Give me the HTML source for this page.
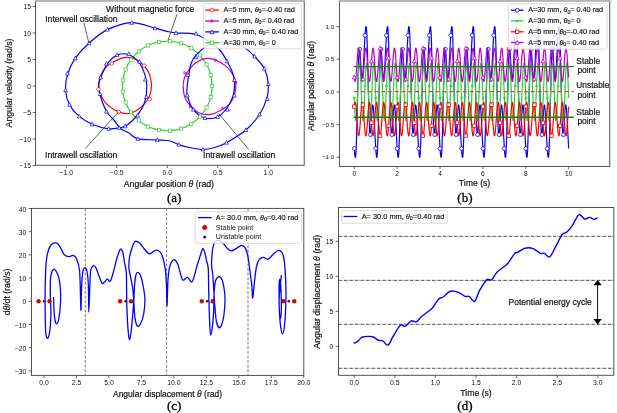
<!DOCTYPE html><html><head><meta charset="utf-8"><style>html,body{margin:0;padding:0;background:#fff;overflow:hidden}svg{display:block;will-change:transform}</style></head><body><svg width="617" height="413" viewBox="0 0 617 413">
<rect width="617" height="413" fill="#fff"/>
<rect x="35.5" y="0.8" width="268.7" height="164.45" fill="none" stroke="#404040" stroke-width="0.9"/>
<rect x="35" y="0" width="269.7" height="1.6" fill="#b4b4b4"/>
<line x1="66.3" y1="165.25" x2="66.3" y2="168.05" stroke="#404040" stroke-width="0.8"/>
<text x="66.3" y="175.1" font-size="6.8" text-anchor="middle" font-family="Liberation Sans, sans-serif" fill="#111" >−1.0</text>
<line x1="116.8" y1="165.25" x2="116.8" y2="168.05" stroke="#404040" stroke-width="0.8"/>
<text x="116.8" y="175.1" font-size="6.8" text-anchor="middle" font-family="Liberation Sans, sans-serif" fill="#111" >−0.5</text>
<line x1="167.3" y1="165.25" x2="167.3" y2="168.05" stroke="#404040" stroke-width="0.8"/>
<text x="167.3" y="175.1" font-size="6.8" text-anchor="middle" font-family="Liberation Sans, sans-serif" fill="#111" >0.0</text>
<line x1="217.8" y1="165.25" x2="217.8" y2="168.05" stroke="#404040" stroke-width="0.8"/>
<text x="217.8" y="175.1" font-size="6.8" text-anchor="middle" font-family="Liberation Sans, sans-serif" fill="#111" >0.5</text>
<line x1="268.3" y1="165.25" x2="268.3" y2="168.05" stroke="#404040" stroke-width="0.8"/>
<text x="268.3" y="175.1" font-size="6.8" text-anchor="middle" font-family="Liberation Sans, sans-serif" fill="#111" >1.0</text>
<line x1="32.7" y1="165.5" x2="35.5" y2="165.5" stroke="#404040" stroke-width="0.8"/>
<text x="31" y="168.15" font-size="6.8" text-anchor="end" font-family="Liberation Sans, sans-serif" fill="#111" >−15</text>
<line x1="32.7" y1="139" x2="35.5" y2="139" stroke="#404040" stroke-width="0.8"/>
<text x="31" y="141.65" font-size="6.8" text-anchor="end" font-family="Liberation Sans, sans-serif" fill="#111" >−10</text>
<line x1="32.7" y1="112.5" x2="35.5" y2="112.5" stroke="#404040" stroke-width="0.8"/>
<text x="31" y="115.15" font-size="6.8" text-anchor="end" font-family="Liberation Sans, sans-serif" fill="#111" >−5</text>
<line x1="32.7" y1="86" x2="35.5" y2="86" stroke="#404040" stroke-width="0.8"/>
<text x="31" y="88.65" font-size="6.8" text-anchor="end" font-family="Liberation Sans, sans-serif" fill="#111" >0</text>
<line x1="32.7" y1="59.5" x2="35.5" y2="59.5" stroke="#404040" stroke-width="0.8"/>
<text x="31" y="62.15" font-size="6.8" text-anchor="end" font-family="Liberation Sans, sans-serif" fill="#111" >5</text>
<line x1="32.7" y1="33" x2="35.5" y2="33" stroke="#404040" stroke-width="0.8"/>
<text x="31" y="35.65" font-size="6.8" text-anchor="end" font-family="Liberation Sans, sans-serif" fill="#111" >10</text>
<line x1="32.7" y1="6.5" x2="35.5" y2="6.5" stroke="#404040" stroke-width="0.8"/>
<text x="31" y="9.15" font-size="6.8" text-anchor="end" font-family="Liberation Sans, sans-serif" fill="#111" >15</text>
<text x="168.9" y="186.6" font-size="8.7" text-anchor="middle" font-family="Liberation Sans, sans-serif" fill="#111"  stroke="#111" stroke-width="0.19">Angular position <tspan font-style="italic">θ</tspan> (rad)</text>
<text x="12.2" y="83" font-size="8.7" text-anchor="middle" font-family="Liberation Sans, sans-serif" fill="#111" transform="rotate(-90 12.2 83)" stroke="#111" stroke-width="0.19">Angular velocity (rad/s)</text>
<text x="174.2" y="201.5" font-size="13" text-anchor="middle" font-family="Liberation Serif, serif" fill="#000" stroke="#000" stroke-width="0.3">(a)</text>
<rect x="339.4" y="0.8" width="270.4" height="165.6" fill="none" stroke="#404040" stroke-width="0.9"/>
<rect x="338.9" y="0" width="271.4" height="1.6" fill="#b4b4b4"/>
<line x1="354.3" y1="166.4" x2="354.3" y2="169.2" stroke="#404040" stroke-width="0.8"/>
<text x="354.3" y="176.18" font-size="6.6" text-anchor="middle" font-family="Liberation Sans, sans-serif" fill="#111" >0</text>
<line x1="397.18" y1="166.4" x2="397.18" y2="169.2" stroke="#404040" stroke-width="0.8"/>
<text x="397.18" y="176.18" font-size="6.6" text-anchor="middle" font-family="Liberation Sans, sans-serif" fill="#111" >2</text>
<line x1="440.06" y1="166.4" x2="440.06" y2="169.2" stroke="#404040" stroke-width="0.8"/>
<text x="440.06" y="176.18" font-size="6.6" text-anchor="middle" font-family="Liberation Sans, sans-serif" fill="#111" >4</text>
<line x1="482.94" y1="166.4" x2="482.94" y2="169.2" stroke="#404040" stroke-width="0.8"/>
<text x="482.94" y="176.18" font-size="6.6" text-anchor="middle" font-family="Liberation Sans, sans-serif" fill="#111" >6</text>
<line x1="525.82" y1="166.4" x2="525.82" y2="169.2" stroke="#404040" stroke-width="0.8"/>
<text x="525.82" y="176.18" font-size="6.6" text-anchor="middle" font-family="Liberation Sans, sans-serif" fill="#111" >8</text>
<line x1="568.7" y1="166.4" x2="568.7" y2="169.2" stroke="#404040" stroke-width="0.8"/>
<text x="568.7" y="176.18" font-size="6.6" text-anchor="middle" font-family="Liberation Sans, sans-serif" fill="#111" >10</text>
<line x1="336.6" y1="157.3" x2="339.4" y2="157.3" stroke="#404040" stroke-width="0.8"/>
<text x="334.2" y="159.23" font-size="6.2" text-anchor="end" font-family="Liberation Sans, sans-serif" fill="#111" >−1.0</text>
<line x1="336.6" y1="124.62" x2="339.4" y2="124.62" stroke="#404040" stroke-width="0.8"/>
<text x="334.2" y="126.56" font-size="6.2" text-anchor="end" font-family="Liberation Sans, sans-serif" fill="#111" >−0.5</text>
<line x1="336.6" y1="91.95" x2="339.4" y2="91.95" stroke="#404040" stroke-width="0.8"/>
<text x="334.2" y="93.88" font-size="6.2" text-anchor="end" font-family="Liberation Sans, sans-serif" fill="#111" >0.0</text>
<line x1="336.6" y1="59.28" x2="339.4" y2="59.28" stroke="#404040" stroke-width="0.8"/>
<text x="334.2" y="61.21" font-size="6.2" text-anchor="end" font-family="Liberation Sans, sans-serif" fill="#111" >0.5</text>
<line x1="336.6" y1="26.6" x2="339.4" y2="26.6" stroke="#404040" stroke-width="0.8"/>
<text x="334.2" y="28.53" font-size="6.2" text-anchor="end" font-family="Liberation Sans, sans-serif" fill="#111" >1.0</text>
<text x="474.5" y="186.3" font-size="8.7" text-anchor="middle" font-family="Liberation Sans, sans-serif" fill="#111"  stroke="#111" stroke-width="0.19">Time (s)</text>
<text x="313.8" y="86" font-size="8.7" text-anchor="middle" font-family="Liberation Sans, sans-serif" fill="#111" transform="rotate(-90 313.8 86)" stroke="#111" stroke-width="0.19">Angular position <tspan font-style="italic">θ</tspan> (rad)</text>
<text x="464.9" y="201.5" font-size="13" text-anchor="middle" font-family="Liberation Serif, serif" fill="#000" stroke="#000" stroke-width="0.3">(b)</text>
<rect x="31.5" y="208.4" width="272.3" height="167" fill="none" stroke="#404040" stroke-width="0.9"/>
<line x1="44.05" y1="375.4" x2="44.05" y2="378.2" stroke="#404040" stroke-width="0.8"/>
<text x="44.05" y="385.35" font-size="6.8" text-anchor="middle" font-family="Liberation Sans, sans-serif" fill="#111" >0.0</text>
<line x1="76.51" y1="375.4" x2="76.51" y2="378.2" stroke="#404040" stroke-width="0.8"/>
<text x="76.51" y="385.35" font-size="6.8" text-anchor="middle" font-family="Liberation Sans, sans-serif" fill="#111" >2.5</text>
<line x1="108.97" y1="375.4" x2="108.97" y2="378.2" stroke="#404040" stroke-width="0.8"/>
<text x="108.97" y="385.35" font-size="6.8" text-anchor="middle" font-family="Liberation Sans, sans-serif" fill="#111" >5.0</text>
<line x1="141.44" y1="375.4" x2="141.44" y2="378.2" stroke="#404040" stroke-width="0.8"/>
<text x="141.44" y="385.35" font-size="6.8" text-anchor="middle" font-family="Liberation Sans, sans-serif" fill="#111" >7.5</text>
<line x1="173.9" y1="375.4" x2="173.9" y2="378.2" stroke="#404040" stroke-width="0.8"/>
<text x="173.9" y="385.35" font-size="6.8" text-anchor="middle" font-family="Liberation Sans, sans-serif" fill="#111" >10.0</text>
<line x1="206.36" y1="375.4" x2="206.36" y2="378.2" stroke="#404040" stroke-width="0.8"/>
<text x="206.36" y="385.35" font-size="6.8" text-anchor="middle" font-family="Liberation Sans, sans-serif" fill="#111" >12.5</text>
<line x1="238.82" y1="375.4" x2="238.82" y2="378.2" stroke="#404040" stroke-width="0.8"/>
<text x="238.82" y="385.35" font-size="6.8" text-anchor="middle" font-family="Liberation Sans, sans-serif" fill="#111" >15.0</text>
<line x1="271.29" y1="375.4" x2="271.29" y2="378.2" stroke="#404040" stroke-width="0.8"/>
<text x="271.29" y="385.35" font-size="6.8" text-anchor="middle" font-family="Liberation Sans, sans-serif" fill="#111" >17.5</text>
<line x1="303.75" y1="375.4" x2="303.75" y2="378.2" stroke="#404040" stroke-width="0.8"/>
<text x="303.75" y="385.35" font-size="6.8" text-anchor="middle" font-family="Liberation Sans, sans-serif" fill="#111" >20.0</text>
<line x1="28.7" y1="370.9" x2="31.5" y2="370.9" stroke="#404040" stroke-width="0.8"/>
<text x="26.4" y="373.95" font-size="6.8" text-anchor="end" font-family="Liberation Sans, sans-serif" fill="#111" >−30</text>
<line x1="28.7" y1="347.7" x2="31.5" y2="347.7" stroke="#404040" stroke-width="0.8"/>
<text x="26.4" y="350.75" font-size="6.8" text-anchor="end" font-family="Liberation Sans, sans-serif" fill="#111" >−20</text>
<line x1="28.7" y1="324.5" x2="31.5" y2="324.5" stroke="#404040" stroke-width="0.8"/>
<text x="26.4" y="327.55" font-size="6.8" text-anchor="end" font-family="Liberation Sans, sans-serif" fill="#111" >−10</text>
<line x1="28.7" y1="301.3" x2="31.5" y2="301.3" stroke="#404040" stroke-width="0.8"/>
<text x="26.4" y="304.35" font-size="6.8" text-anchor="end" font-family="Liberation Sans, sans-serif" fill="#111" >0</text>
<line x1="28.7" y1="278.1" x2="31.5" y2="278.1" stroke="#404040" stroke-width="0.8"/>
<text x="26.4" y="281.15" font-size="6.8" text-anchor="end" font-family="Liberation Sans, sans-serif" fill="#111" >10</text>
<line x1="28.7" y1="254.9" x2="31.5" y2="254.9" stroke="#404040" stroke-width="0.8"/>
<text x="26.4" y="257.95" font-size="6.8" text-anchor="end" font-family="Liberation Sans, sans-serif" fill="#111" >20</text>
<line x1="28.7" y1="231.7" x2="31.5" y2="231.7" stroke="#404040" stroke-width="0.8"/>
<text x="26.4" y="234.75" font-size="6.8" text-anchor="end" font-family="Liberation Sans, sans-serif" fill="#111" >30</text>
<line x1="28.7" y1="208.5" x2="31.5" y2="208.5" stroke="#404040" stroke-width="0.8"/>
<text x="26.4" y="211.55" font-size="6.8" text-anchor="end" font-family="Liberation Sans, sans-serif" fill="#111" >40</text>
<text x="167.5" y="396.5" font-size="8.5" text-anchor="middle" font-family="Liberation Sans, sans-serif" fill="#111"  stroke="#111" stroke-width="0.19">Angular displacement <tspan font-style="italic">θ</tspan> (rad)</text>
<text x="10.4" y="292" font-size="8.7" text-anchor="middle" font-family="Liberation Sans, sans-serif" fill="#111" transform="rotate(-90 10.4 292)" stroke="#111" stroke-width="0.19">d<tspan font-style="italic">θ</tspan>/dt (rad/s)</text>
<text x="174.2" y="410" font-size="13" text-anchor="middle" font-family="Liberation Serif, serif" fill="#000" stroke="#000" stroke-width="0.3">(c)</text>
<rect x="338.5" y="207.5" width="275.3" height="167.8" fill="none" stroke="#404040" stroke-width="0.9"/>
<line x1="354.2" y1="375.3" x2="354.2" y2="378.1" stroke="#404040" stroke-width="0.8"/>
<text x="354.2" y="385.45" font-size="6.8" text-anchor="middle" font-family="Liberation Sans, sans-serif" fill="#111" >0.0</text>
<line x1="394.8" y1="375.3" x2="394.8" y2="378.1" stroke="#404040" stroke-width="0.8"/>
<text x="394.8" y="385.45" font-size="6.8" text-anchor="middle" font-family="Liberation Sans, sans-serif" fill="#111" >0.5</text>
<line x1="435.4" y1="375.3" x2="435.4" y2="378.1" stroke="#404040" stroke-width="0.8"/>
<text x="435.4" y="385.45" font-size="6.8" text-anchor="middle" font-family="Liberation Sans, sans-serif" fill="#111" >1.0</text>
<line x1="476" y1="375.3" x2="476" y2="378.1" stroke="#404040" stroke-width="0.8"/>
<text x="476" y="385.45" font-size="6.8" text-anchor="middle" font-family="Liberation Sans, sans-serif" fill="#111" >1.5</text>
<line x1="516.6" y1="375.3" x2="516.6" y2="378.1" stroke="#404040" stroke-width="0.8"/>
<text x="516.6" y="385.45" font-size="6.8" text-anchor="middle" font-family="Liberation Sans, sans-serif" fill="#111" >2.0</text>
<line x1="557.2" y1="375.3" x2="557.2" y2="378.1" stroke="#404040" stroke-width="0.8"/>
<text x="557.2" y="385.45" font-size="6.8" text-anchor="middle" font-family="Liberation Sans, sans-serif" fill="#111" >2.5</text>
<line x1="597.8" y1="375.3" x2="597.8" y2="378.1" stroke="#404040" stroke-width="0.8"/>
<text x="597.8" y="385.45" font-size="6.8" text-anchor="middle" font-family="Liberation Sans, sans-serif" fill="#111" >3.0</text>
<line x1="335.7" y1="346.3" x2="338.5" y2="346.3" stroke="#404040" stroke-width="0.8"/>
<text x="333.4" y="348.65" font-size="6.8" text-anchor="end" font-family="Liberation Sans, sans-serif" fill="#111" >0</text>
<line x1="335.7" y1="311.3" x2="338.5" y2="311.3" stroke="#404040" stroke-width="0.8"/>
<text x="333.4" y="313.65" font-size="6.8" text-anchor="end" font-family="Liberation Sans, sans-serif" fill="#111" >5</text>
<line x1="335.7" y1="276.3" x2="338.5" y2="276.3" stroke="#404040" stroke-width="0.8"/>
<text x="333.4" y="278.65" font-size="6.8" text-anchor="end" font-family="Liberation Sans, sans-serif" fill="#111" >10</text>
<line x1="335.7" y1="241.3" x2="338.5" y2="241.3" stroke="#404040" stroke-width="0.8"/>
<text x="333.4" y="243.65" font-size="6.8" text-anchor="end" font-family="Liberation Sans, sans-serif" fill="#111" >15</text>
<text x="476" y="395.5" font-size="8.7" text-anchor="middle" font-family="Liberation Sans, sans-serif" fill="#111"  stroke="#111" stroke-width="0.19">Time (s)</text>
<text x="320.5" y="291.8" font-size="8.9" text-anchor="middle" font-family="Liberation Sans, sans-serif" fill="#111" transform="rotate(-90 320.5 291.8)" stroke="#111" stroke-width="0.2">Angular displacement <tspan font-style="italic">θ</tspan> (rad)</text>
<text x="464.9" y="410" font-size="13" text-anchor="middle" font-family="Liberation Serif, serif" fill="#000" stroke="#000" stroke-width="0.3">(d)</text>
<defs><clipPath id="ca"><rect x="35.5" y="0.8" width="268.7" height="164.45"/></clipPath></defs>
<g clip-path="url(#ca)">
<circle cx="167.3" cy="86" r="44.8" fill="none" stroke="#33cc33" stroke-width="1.1"/>
<path d="M98.8,89 C98.52,85.6 99.12,80.63 100.2,77.1 C101.28,73.57 103.33,70.2 105.3,67.8 C107.27,65.4 108.9,64.4 112,62.7 C115.1,61 119.93,58.17 123.9,57.6 C127.87,57.03 132.42,57.88 135.8,59.3 C139.18,60.72 141.95,63.7 144.2,66.1 C146.45,68.5 148.1,70.73 149.3,73.7 C150.5,76.67 151.25,80.5 151.4,83.9 C151.55,87.3 151.4,90.72 150.2,94.1 C149,97.48 146.6,101.38 144.2,104.2 C141.8,107.02 138.62,109.43 135.8,111 C132.98,112.57 130.13,113.45 127.3,113.6 C124.47,113.75 121.92,113.18 118.8,111.9 C115.68,110.62 111.42,108.3 108.6,105.9 C105.78,103.5 103.53,100.32 101.9,97.5 C100.27,94.68 99.08,92.4 98.8,89Z" fill="none" stroke="#ff0000" stroke-width="1.2"/>
<path d="M235.8,83 C236.08,86.4 235.48,91.37 234.4,94.9 C233.32,98.43 231.27,101.8 229.3,104.2 C227.33,106.6 225.7,107.6 222.6,109.3 C219.5,111 214.67,113.83 210.7,114.4 C206.73,114.97 202.18,114.12 198.8,112.7 C195.42,111.28 192.65,108.3 190.4,105.9 C188.15,103.5 186.5,101.27 185.3,98.3 C184.1,95.33 183.35,91.5 183.2,88.1 C183.05,84.7 183.2,81.28 184.4,77.9 C185.6,74.52 188,70.62 190.4,67.8 C192.8,64.98 195.98,62.57 198.8,61 C201.62,59.43 204.47,58.55 207.3,58.4 C210.13,58.25 212.68,58.82 215.8,60.1 C218.92,61.38 223.18,63.7 226,66.1 C228.82,68.5 231.07,71.68 232.7,74.5 C234.33,77.32 235.52,79.6 235.8,83Z" fill="none" stroke="#bf00bf" stroke-width="1.2"/>
<path d="M131.7,22.6 C139.63,22.37 148.95,26.7 155,28.2 C161.05,29.7 164.5,30.82 168,31.6 C171.5,32.38 172.33,32.6 176,32.9 C179.67,33.2 186.33,33.05 190,33.4 C193.67,33.75 194.9,33.67 198,35 C201.1,36.33 204.98,38.9 208.6,41.4 C212.22,43.9 216.63,46.68 219.7,50 C222.77,53.32 224.97,57.8 227,61.3 C229.03,64.8 230.68,67.88 231.9,71 C233.12,74.12 233.9,77.02 234.3,80 C234.7,82.98 234.57,86.07 234.3,88.9 C234.03,91.73 233.85,93.9 232.7,97 C231.55,100.1 229.9,104.2 227.4,107.5 C224.9,110.8 221.43,115.05 217.7,116.8 C213.97,118.55 209.07,119.2 205,118 C200.93,116.8 196.25,113.37 193.3,109.6 C190.35,105.83 188.3,99.38 187.3,95.4 C186.3,91.42 187.03,89.22 187.3,85.7 C187.57,82.18 188.23,78.08 188.9,74.3 C189.57,70.52 190.08,66.23 191.3,63 C192.52,59.77 193.63,57.68 196.2,54.9 C198.77,52.12 203,48.38 206.7,46.3 C210.4,44.22 214.18,42.95 218.4,42.4 C222.62,41.85 227.9,42.32 232,43 C236.1,43.68 239.23,44.25 243,46.5 C246.77,48.75 251.05,52.82 254.6,56.5 C258.15,60.18 262.02,64.02 264.3,68.6 C266.58,73.18 267.9,79 268.3,84 C268.7,89 268.17,93.52 266.7,98.6 C265.23,103.68 262.97,109.27 259.5,114.5 C256.03,119.73 251.42,125.3 245.9,130 C240.38,134.7 231.6,139.78 226.4,142.7 C221.2,145.62 218.6,146.37 214.7,147.5 C210.8,148.63 207.2,149.5 203,149.5 C198.8,149.5 193.53,148.32 189.5,147.5 C185.47,146.68 182.05,145.68 178.8,144.6 C175.55,143.52 173.58,141.78 170,141 C166.42,140.22 162.67,140.25 157.3,139.9 C151.93,139.55 142.52,140.05 137.8,138.9 C133.08,137.75 131.92,134.78 129,133 C126.08,131.22 122.88,130.45 120.3,128.2 C117.72,125.95 115.77,122.25 113.5,119.5 C111.23,116.75 108.83,115.45 106.7,111.7 C104.57,107.95 102.07,101.35 100.7,97 C99.33,92.65 98.58,88.63 98.5,85.6 C98.42,82.57 98.78,82.33 100.2,78.8 C101.62,75.27 104.18,68.35 107,64.4 C109.82,60.45 113.43,56.72 117.1,55.1 C120.77,53.48 125.32,53.43 129,54.7 C132.68,55.97 136.52,59.25 139.2,62.7 C141.88,66.15 143.83,71.45 145.1,75.4 C146.37,79.35 146.8,82.17 146.8,86.4 C146.8,90.63 146.37,96.42 145.1,100.8 C143.83,105.18 141.38,109.33 139.2,112.7 C137.02,116.07 134.33,118.73 132,121 C129.67,123.27 127.32,125.17 125.2,126.3 C123.08,127.43 122.07,127.38 119.3,127.8 C116.53,128.22 113.13,129.38 108.6,128.8 C104.07,128.22 97.12,126.5 92.1,124.3 C87.08,122.1 82.27,118.87 78.5,115.6 C74.73,112.33 71.65,108.93 69.5,104.7 C67.35,100.47 65.93,95.22 65.6,90.2 C65.27,85.18 65.88,79.93 67.5,74.6 C69.12,69.27 71.73,63.43 75.3,58.2 C78.87,52.97 83.55,47.97 88.9,43.2 C94.25,38.43 100.27,33.03 107.4,29.6 C114.53,26.17 123.77,22.83 131.7,22.6Z" fill="none" stroke="#0000ff" stroke-width="1.2"/>
<rect x="210.5" y="84.4" width="3.2" height="3.2" fill="#fff" stroke="#33cc33" stroke-width="0.7"/>
<rect x="209.09" y="95.54" width="3.2" height="3.2" fill="#fff" stroke="#33cc33" stroke-width="0.7"/>
<rect x="204.96" y="105.98" width="3.2" height="3.2" fill="#fff" stroke="#33cc33" stroke-width="0.7"/>
<rect x="198.36" y="115.07" width="3.2" height="3.2" fill="#fff" stroke="#33cc33" stroke-width="0.7"/>
<rect x="189.71" y="122.23" width="3.2" height="3.2" fill="#fff" stroke="#33cc33" stroke-width="0.7"/>
<rect x="179.54" y="127.01" width="3.2" height="3.2" fill="#fff" stroke="#33cc33" stroke-width="0.7"/>
<rect x="168.51" y="129.11" width="3.2" height="3.2" fill="#fff" stroke="#33cc33" stroke-width="0.7"/>
<rect x="157.31" y="128.41" width="3.2" height="3.2" fill="#fff" stroke="#33cc33" stroke-width="0.7"/>
<rect x="146.63" y="124.94" width="3.2" height="3.2" fill="#fff" stroke="#33cc33" stroke-width="0.7"/>
<rect x="137.14" y="118.92" width="3.2" height="3.2" fill="#fff" stroke="#33cc33" stroke-width="0.7"/>
<rect x="129.46" y="110.73" width="3.2" height="3.2" fill="#fff" stroke="#33cc33" stroke-width="0.7"/>
<rect x="124.05" y="100.89" width="3.2" height="3.2" fill="#fff" stroke="#33cc33" stroke-width="0.7"/>
<rect x="121.25" y="90.01" width="3.2" height="3.2" fill="#fff" stroke="#33cc33" stroke-width="0.7"/>
<rect x="121.25" y="78.79" width="3.2" height="3.2" fill="#fff" stroke="#33cc33" stroke-width="0.7"/>
<rect x="124.05" y="67.91" width="3.2" height="3.2" fill="#fff" stroke="#33cc33" stroke-width="0.7"/>
<rect x="129.46" y="58.07" width="3.2" height="3.2" fill="#fff" stroke="#33cc33" stroke-width="0.7"/>
<rect x="137.14" y="49.88" width="3.2" height="3.2" fill="#fff" stroke="#33cc33" stroke-width="0.7"/>
<rect x="146.63" y="43.86" width="3.2" height="3.2" fill="#fff" stroke="#33cc33" stroke-width="0.7"/>
<rect x="157.31" y="40.39" width="3.2" height="3.2" fill="#fff" stroke="#33cc33" stroke-width="0.7"/>
<rect x="168.51" y="39.69" width="3.2" height="3.2" fill="#fff" stroke="#33cc33" stroke-width="0.7"/>
<rect x="179.54" y="41.79" width="3.2" height="3.2" fill="#fff" stroke="#33cc33" stroke-width="0.7"/>
<rect x="189.71" y="46.57" width="3.2" height="3.2" fill="#fff" stroke="#33cc33" stroke-width="0.7"/>
<rect x="198.36" y="53.73" width="3.2" height="3.2" fill="#fff" stroke="#33cc33" stroke-width="0.7"/>
<rect x="204.96" y="62.82" width="3.2" height="3.2" fill="#fff" stroke="#33cc33" stroke-width="0.7"/>
<rect x="209.09" y="73.26" width="3.2" height="3.2" fill="#fff" stroke="#33cc33" stroke-width="0.7"/>
<circle cx="111.7" cy="63.6" r="1.8" fill="#fff" stroke="#ff0000" stroke-width="0.7"/>
<circle cx="144.2" cy="65.6" r="1.8" fill="#fff" stroke="#ff0000" stroke-width="0.7"/>
<circle cx="98.5" cy="89.3" r="1.8" fill="#fff" stroke="#ff0000" stroke-width="0.7"/>
<circle cx="149.7" cy="99.2" r="1.8" fill="#fff" stroke="#ff0000" stroke-width="0.7"/>
<circle cx="118.8" cy="111.9" r="1.8" fill="#fff" stroke="#ff0000" stroke-width="0.7"/>
<path d="M221.9,107 l2.2,1.4 l-2.2,1.4 z" fill="none" stroke="#bf00bf" stroke-width="0.8"/>
<path d="M189.4,105 l2.2,1.4 l-2.2,1.4 z" fill="none" stroke="#bf00bf" stroke-width="0.8"/>
<path d="M235.1,81.3 l2.2,1.4 l-2.2,1.4 z" fill="none" stroke="#bf00bf" stroke-width="0.8"/>
<path d="M183.9,71.4 l2.2,1.4 l-2.2,1.4 z" fill="none" stroke="#bf00bf" stroke-width="0.8"/>
<path d="M214.8,58.7 l2.2,1.4 l-2.2,1.4 z" fill="none" stroke="#bf00bf" stroke-width="0.8"/>
<path d="M67.5,71.36 L65.63,74.93 L69.37,74.93 Z" fill="#fff" stroke="#0000ff" stroke-width="0.7"/>
<path d="M75.3,56.16 L73.43,59.73 L77.17,59.73 Z" fill="#fff" stroke="#0000ff" stroke-width="0.7"/>
<path d="M88.9,41.16 L87.03,44.73 L90.77,44.73 Z" fill="#fff" stroke="#0000ff" stroke-width="0.7"/>
<path d="M107.4,27.56 L105.53,31.13 L109.27,31.13 Z" fill="#fff" stroke="#0000ff" stroke-width="0.7"/>
<path d="M131.7,20.76 L129.83,24.33 L133.57,24.33 Z" fill="#fff" stroke="#0000ff" stroke-width="0.7"/>
<path d="M155,26.16 L153.13,29.73 L156.87,29.73 Z" fill="#fff" stroke="#0000ff" stroke-width="0.7"/>
<path d="M176,30.86 L174.13,34.43 L177.87,34.43 Z" fill="#fff" stroke="#0000ff" stroke-width="0.7"/>
<path d="M196,31.56 L194.13,35.13 L197.87,35.13 Z" fill="#fff" stroke="#0000ff" stroke-width="0.7"/>
<path d="M117,52.86 L115.13,56.43 L118.87,56.43 Z" fill="#fff" stroke="#0000ff" stroke-width="0.7"/>
<path d="M128.8,51.86 L126.93,55.43 L130.67,55.43 Z" fill="#fff" stroke="#0000ff" stroke-width="0.7"/>
<path d="M139.5,59.66 L137.63,63.23 L141.37,63.23 Z" fill="#fff" stroke="#0000ff" stroke-width="0.7"/>
<path d="M106.4,61.56 L104.53,65.13 L108.27,65.13 Z" fill="#fff" stroke="#0000ff" stroke-width="0.7"/>
<path d="M65.6,88.16 L63.73,91.73 L67.47,91.73 Z" fill="#fff" stroke="#0000ff" stroke-width="0.7"/>
<path d="M69.5,102.66 L67.63,106.23 L71.37,106.23 Z" fill="#fff" stroke="#0000ff" stroke-width="0.7"/>
<path d="M79.2,114.36 L77.33,117.93 L81.07,117.93 Z" fill="#fff" stroke="#0000ff" stroke-width="0.7"/>
<path d="M100.6,75.46 L98.73,79.03 L102.47,79.03 Z" fill="#fff" stroke="#0000ff" stroke-width="0.7"/>
<path d="M100.2,91.96 L98.33,95.53 L102.07,95.53 Z" fill="#fff" stroke="#0000ff" stroke-width="0.7"/>
<path d="M106.4,109.56 L104.53,113.13 L108.27,113.13 Z" fill="#fff" stroke="#0000ff" stroke-width="0.7"/>
<path d="M145.3,77.46 L143.43,81.03 L147.17,81.03 Z" fill="#fff" stroke="#0000ff" stroke-width="0.7"/>
<path d="M146.3,94.96 L144.43,98.53 L148.17,98.53 Z" fill="#fff" stroke="#0000ff" stroke-width="0.7"/>
<path d="M92.1,122.26 L90.23,125.83 L93.97,125.83 Z" fill="#fff" stroke="#0000ff" stroke-width="0.7"/>
<path d="M119.3,125.76 L117.43,129.33 L121.17,129.33 Z" fill="#fff" stroke="#0000ff" stroke-width="0.7"/>
<path d="M125.2,124.26 L123.33,127.83 L127.07,127.83 Z" fill="#fff" stroke="#0000ff" stroke-width="0.7"/>
<path d="M137.8,113.56 L135.93,117.13 L139.67,117.13 Z" fill="#fff" stroke="#0000ff" stroke-width="0.7"/>
<path d="M108.6,126.76 L106.73,130.33 L110.47,130.33 Z" fill="#fff" stroke="#0000ff" stroke-width="0.7"/>
<path d="M137.8,136.86 L135.93,140.43 L139.67,140.43 Z" fill="#fff" stroke="#0000ff" stroke-width="0.7"/>
<path d="M157.3,137.86 L155.43,141.43 L159.17,141.43 Z" fill="#fff" stroke="#0000ff" stroke-width="0.7"/>
<path d="M178.8,142.56 L176.93,146.13 L180.67,146.13 Z" fill="#fff" stroke="#0000ff" stroke-width="0.7"/>
<path d="M203,147.46 L201.13,151.03 L204.87,151.03 Z" fill="#fff" stroke="#0000ff" stroke-width="0.7"/>
<path d="M226.4,140.66 L224.53,144.23 L228.27,144.23 Z" fill="#fff" stroke="#0000ff" stroke-width="0.7"/>
<path d="M245.9,127.96 L244.03,131.53 L247.77,131.53 Z" fill="#fff" stroke="#0000ff" stroke-width="0.7"/>
<path d="M259.5,112.46 L257.63,116.03 L261.37,116.03 Z" fill="#fff" stroke="#0000ff" stroke-width="0.7"/>
<path d="M267.3,96.86 L265.43,100.43 L269.17,100.43 Z" fill="#fff" stroke="#0000ff" stroke-width="0.7"/>
<path d="M193.3,107.56 L191.43,111.13 L195.17,111.13 Z" fill="#fff" stroke="#0000ff" stroke-width="0.7"/>
<path d="M205,115.96 L203.13,119.53 L206.87,119.53 Z" fill="#fff" stroke="#0000ff" stroke-width="0.7"/>
<path d="M217.7,114.76 L215.83,118.33 L219.57,118.33 Z" fill="#fff" stroke="#0000ff" stroke-width="0.7"/>
<path d="M227.4,107.56 L225.53,111.13 L229.27,111.13 Z" fill="#fff" stroke="#0000ff" stroke-width="0.7"/>
<path d="M254.6,54.46 L252.73,58.03 L256.47,58.03 Z" fill="#fff" stroke="#0000ff" stroke-width="0.7"/>
<path d="M264.3,66.56 L262.43,70.13 L266.17,70.13 Z" fill="#fff" stroke="#0000ff" stroke-width="0.7"/>
<path d="M268.3,81.96 L266.43,85.53 L270.17,85.53 Z" fill="#fff" stroke="#0000ff" stroke-width="0.7"/>
<path d="M227,59.26 L225.13,62.83 L228.87,62.83 Z" fill="#fff" stroke="#0000ff" stroke-width="0.7"/>
<path d="M234.3,77.96 L232.43,81.53 L236.17,81.53 Z" fill="#fff" stroke="#0000ff" stroke-width="0.7"/>
<path d="M234.3,93.36 L232.43,96.93 L236.17,96.93 Z" fill="#fff" stroke="#0000ff" stroke-width="0.7"/>
<path d="M187.3,93.36 L185.43,96.93 L189.17,96.93 Z" fill="#fff" stroke="#0000ff" stroke-width="0.7"/>
<path d="M188.1,73.06 L186.23,76.63 L189.97,76.63 Z" fill="#fff" stroke="#0000ff" stroke-width="0.7"/>
<path d="M196.2,55.26 L194.33,58.83 L198.07,58.83 Z" fill="#fff" stroke="#0000ff" stroke-width="0.7"/>
<g stroke="#222" stroke-width="0.7"><line x1="85.3" y1="148.6" x2="118.4" y2="112"/><line x1="218.6" y1="113.5" x2="248.8" y2="149.5"/><line x1="88.9" y1="43.2" x2="84" y2="22.8"/><line x1="168" y1="40.2" x2="177.2" y2="13.8"/></g>
</g>
<text x="81.2" y="157.51" font-size="8.65" text-anchor="middle" font-family="Liberation Sans, sans-serif" fill="#111"  stroke="#111" stroke-width="0.19">Intrawell oscillation</text>
<text x="239.2" y="157.51" font-size="8.65" text-anchor="middle" font-family="Liberation Sans, sans-serif" fill="#111"  stroke="#111" stroke-width="0.19">Intrawell oscillation</text>
<text x="81.4" y="22.11" font-size="8.65" text-anchor="middle" font-family="Liberation Sans, sans-serif" fill="#111"  stroke="#111" stroke-width="0.19">Interwell oscillation</text>
<text x="150.2" y="11.61" font-size="8.65" text-anchor="middle" font-family="Liberation Sans, sans-serif" fill="#111"  stroke="#111" stroke-width="0.19">Without magnetic force</text>
<rect x="203.4" y="3.65" width="97.9" height="45.15" rx="1.5" fill="#fff" fill-opacity="0.82" stroke="#d0d0d0" stroke-width="0.8"/>
<line x1="205.3" y1="10.1" x2="218.9" y2="10.1" stroke="#ff0000" stroke-width="1.3"/>
<circle cx="212.1" cy="10.1" r="1.9" fill="#fff" stroke="#ff0000" stroke-width="0.8"/>
<text x="223.4" y="12.11" font-size="7.25" text-anchor="start" font-family="Liberation Sans, sans-serif" fill="#111"  stroke="#111" stroke-width="0.16">A=5 mm, <tspan font-style="italic">θ</tspan><tspan font-size="72%" dy="1.3">0</tspan><tspan dy="-1.3">=-0.40 rad</tspan></text>
<line x1="205.3" y1="21" x2="218.9" y2="21" stroke="#bf00bf" stroke-width="1.3"/>
<path d="M211.1,19.5 l2.4,1.5 l-2.4,1.5 z" fill="none" stroke="#bf00bf" stroke-width="0.8"/>
<text x="223.4" y="23.01" font-size="7.25" text-anchor="start" font-family="Liberation Sans, sans-serif" fill="#111"  stroke="#111" stroke-width="0.16">A=5 mm, <tspan font-style="italic">θ</tspan><tspan font-size="72%" dy="1.3">0</tspan><tspan dy="-1.3">= 0.40 rad</tspan></text>
<line x1="205.3" y1="31.9" x2="218.9" y2="31.9" stroke="#0000ff" stroke-width="1.3"/>
<path d="M212.1,29.94 L210.12,33.72 L214.08,33.72 Z" fill="#fff" stroke="#0000ff" stroke-width="0.8"/>
<text x="223.4" y="33.91" font-size="7.25" text-anchor="start" font-family="Liberation Sans, sans-serif" fill="#111"  stroke="#111" stroke-width="0.16">A=30 mm, <tspan font-style="italic">θ</tspan><tspan font-size="72%" dy="1.3">0</tspan><tspan dy="-1.3">= 0.40 rad</tspan></text>
<line x1="205.3" y1="42.8" x2="218.9" y2="42.8" stroke="#33cc33" stroke-width="1.3"/>
<rect x="210.4" y="41.1" width="3.4" height="3.4" fill="#fff" stroke="#33cc33" stroke-width="0.8"/>
<text x="223.4" y="44.81" font-size="7.25" text-anchor="start" font-family="Liberation Sans, sans-serif" fill="#111"  stroke="#111" stroke-width="0.16">A=30 mm, <tspan font-style="italic">θ</tspan><tspan font-size="72%" dy="1.3">0</tspan><tspan dy="-1.3">= 0</tspan></text>
<defs><clipPath id="cb"><rect x="339.4" y="0.8" width="270.4" height="165.6"/></clipPath></defs>
<g clip-path="url(#cb)">
<path d="M354.3,148.54 L354.41,150.1 L354.51,151.52 L354.62,152.8 L354.73,153.94 L354.84,154.92 L354.94,155.74 L355.05,156.39 L355.16,156.87 L355.26,157.17 L355.37,157.3 L355.48,157.18 L355.59,156.7 L355.69,155.85 L355.8,154.65 L355.91,153.08 L356.02,151.18 L356.12,148.95 L356.23,146.41 L356.34,143.57 L356.44,140.45 L356.55,137.08 L356.66,133.47 L356.77,129.66 L356.87,125.67 L356.98,121.52 L357.09,117.24 L357.19,112.87 L357.3,108.43 L357.41,103.96 L357.52,99.47 L357.62,95.02 L357.73,90.62 L357.84,86.3 L357.94,82.1 L358.05,78.04 L358.16,74.15 L358.27,70.46 L358.37,66.99 L358.48,63.77 L358.59,60.81 L358.7,58.15 L358.8,55.79 L358.91,53.75 L359.02,52.06 L359.12,50.71 L359.23,49.71 L359.34,49.09 L359.45,48.83 L359.55,48.9 L359.66,49.23 L359.77,49.82 L359.87,50.64 L359.98,51.69 L360.09,52.95 L360.2,54.39 L360.3,56 L360.41,57.74 L360.52,59.58 L360.62,61.5 L360.73,63.46 L360.84,65.42 L360.95,67.36 L361.05,69.24 L361.16,71.02 L361.27,72.68 L361.38,74.2 L361.48,75.53 L361.59,76.67 L361.7,77.58 L361.8,78.26 L361.91,78.69 L362.02,78.87 L362.13,78.82 L362.23,78.59 L362.34,78.18 L362.45,77.6 L362.55,76.85 L362.66,75.93 L362.77,74.86 L362.88,73.63 L362.98,72.26 L363.09,70.76 L363.2,69.13 L363.3,67.4 L363.41,65.56 L363.52,63.63 L363.63,61.64 L363.73,59.58 L363.84,57.47 L363.95,55.33 L364.06,53.17 L364.16,51.01 L364.27,48.86 L364.38,46.74 L364.48,44.66 L364.59,42.64 L364.7,40.68 L364.81,38.81 L364.91,37.03 L365.02,35.36 L365.13,33.8 L365.23,32.38 L365.34,31.1 L365.45,29.96 L365.56,28.98 L365.66,28.16 L365.77,27.51 L365.88,27.03 L365.98,26.73 L366.09,26.6 L366.2,26.72 L366.31,27.2 L366.41,28.05 L366.52,29.25 L366.63,30.82 L366.74,32.72 L366.84,34.95 L366.95,37.49 L367.06,40.33 L367.16,43.45 L367.27,46.82 L367.38,50.43 L367.49,54.24 L367.59,58.23 L367.7,62.38 L367.81,66.66 L367.91,71.03 L368.02,75.47 L368.13,79.94 L368.24,84.43 L368.34,88.88 L368.45,93.28 L368.56,97.6 L368.66,101.8 L368.77,105.86 L368.88,109.75 L368.99,113.44 L369.09,116.91 L369.2,120.13 L369.31,123.09 L369.42,125.75 L369.52,128.11 L369.63,130.15 L369.74,131.84 L369.84,133.19 L369.95,134.19 L370.06,134.81 L370.17,135.07 L370.27,135 L370.38,134.67 L370.49,134.08 L370.59,133.26 L370.7,132.21 L370.81,130.95 L370.92,129.51 L371.02,127.9 L371.13,126.16 L371.24,124.32 L371.34,122.4 L371.45,120.44 L371.56,118.48 L371.67,116.54 L371.77,114.66 L371.88,112.88 L371.99,111.22 L372.1,109.7 L372.2,108.37 L372.31,107.23 L372.42,106.32 L372.52,105.64 L372.63,105.21 L372.74,105.03 L372.85,105.08 L372.95,105.31 L373.06,105.72 L373.17,106.3 L373.27,107.05 L373.38,107.97 L373.49,109.04 L373.6,110.27 L373.7,111.64 L373.81,113.14 L373.92,114.77 L374.02,116.5 L374.13,118.34 L374.24,120.27 L374.35,122.26 L374.45,124.32 L374.56,126.43 L374.67,128.57 L374.78,130.73 L374.88,132.89 L374.99,135.04 L375.1,137.16 L375.2,139.24 L375.31,141.26 L375.42,143.22 L375.53,145.09 L375.63,146.87 L375.74,148.54 L375.85,150.1 L375.95,151.52 L376.06,152.8 L376.17,153.94 L376.28,154.92 L376.38,155.74 L376.49,156.39 L376.6,156.87 L376.7,157.17 L376.81,157.3 L376.92,157.18 L377.03,156.7 L377.13,155.85 L377.24,154.65 L377.35,153.08 L377.46,151.18 L377.56,148.95 L377.67,146.41 L377.78,143.57 L377.88,140.45 L377.99,137.08 L378.1,133.47 L378.21,129.66 L378.31,125.67 L378.42,121.52 L378.53,117.24 L378.63,112.87 L378.74,108.43 L378.85,103.96 L378.96,99.47 L379.06,95.02 L379.17,90.62 L379.28,86.3 L379.38,82.1 L379.49,78.04 L379.6,74.15 L379.71,70.46 L379.81,66.99 L379.92,63.77 L380.03,60.81 L380.14,58.15 L380.24,55.79 L380.35,53.75 L380.46,52.06 L380.56,50.71 L380.67,49.71 L380.78,49.09 L380.89,48.83 L380.99,48.9 L381.1,49.23 L381.21,49.82 L381.31,50.64 L381.42,51.69 L381.53,52.95 L381.64,54.39 L381.74,56 L381.85,57.74 L381.96,59.58 L382.06,61.5 L382.17,63.46 L382.28,65.42 L382.39,67.36 L382.49,69.24 L382.6,71.02 L382.71,72.68 L382.82,74.2 L382.92,75.53 L383.03,76.67 L383.14,77.58 L383.24,78.26 L383.35,78.69 L383.46,78.87 L383.57,78.82 L383.67,78.59 L383.78,78.18 L383.89,77.6 L383.99,76.85 L384.1,75.93 L384.21,74.86 L384.32,73.63 L384.42,72.26 L384.53,70.76 L384.64,69.13 L384.74,67.4 L384.85,65.56 L384.96,63.63 L385.07,61.64 L385.17,59.58 L385.28,57.47 L385.39,55.33 L385.5,53.17 L385.6,51.01 L385.71,48.86 L385.82,46.74 L385.92,44.66 L386.03,42.64 L386.14,40.68 L386.25,38.81 L386.35,37.03 L386.46,35.36 L386.57,33.8 L386.67,32.38 L386.78,31.1 L386.89,29.96 L387,28.98 L387.1,28.16 L387.21,27.51 L387.32,27.03 L387.42,26.73 L387.53,26.6 L387.64,26.72 L387.75,27.2 L387.85,28.05 L387.96,29.25 L388.07,30.82 L388.18,32.72 L388.28,34.95 L388.39,37.49 L388.5,40.33 L388.6,43.45 L388.71,46.82 L388.82,50.43 L388.93,54.24 L389.03,58.23 L389.14,62.38 L389.25,66.66 L389.35,71.03 L389.46,75.47 L389.57,79.94 L389.68,84.43 L389.78,88.88 L389.89,93.28 L390,97.6 L390.1,101.8 L390.21,105.86 L390.32,109.75 L390.43,113.44 L390.53,116.91 L390.64,120.13 L390.75,123.09 L390.86,125.75 L390.96,128.11 L391.07,130.15 L391.18,131.84 L391.28,133.19 L391.39,134.19 L391.5,134.81 L391.61,135.07 L391.71,135 L391.82,134.67 L391.93,134.08 L392.03,133.26 L392.14,132.21 L392.25,130.95 L392.36,129.51 L392.46,127.9 L392.57,126.16 L392.68,124.32 L392.78,122.4 L392.89,120.44 L393,118.48 L393.11,116.54 L393.21,114.66 L393.32,112.88 L393.43,111.22 L393.54,109.7 L393.64,108.37 L393.75,107.23 L393.86,106.32 L393.96,105.64 L394.07,105.21 L394.18,105.03 L394.29,105.08 L394.39,105.31 L394.5,105.72 L394.61,106.3 L394.71,107.05 L394.82,107.97 L394.93,109.04 L395.04,110.27 L395.14,111.64 L395.25,113.14 L395.36,114.77 L395.46,116.5 L395.57,118.34 L395.68,120.27 L395.79,122.26 L395.89,124.32 L396,126.43 L396.11,128.57 L396.22,130.73 L396.32,132.89 L396.43,135.04 L396.54,137.16 L396.64,139.24 L396.75,141.26 L396.86,143.22 L396.97,145.09 L397.07,146.87 L397.18,148.54 L397.29,150.1 L397.39,151.52 L397.5,152.8 L397.61,153.94 L397.72,154.92 L397.82,155.74 L397.93,156.39 L398.04,156.87 L398.14,157.17 L398.25,157.3 L398.36,157.18 L398.47,156.7 L398.57,155.85 L398.68,154.65 L398.79,153.08 L398.9,151.18 L399,148.95 L399.11,146.41 L399.22,143.57 L399.32,140.45 L399.43,137.08 L399.54,133.47 L399.65,129.66 L399.75,125.67 L399.86,121.52 L399.97,117.24 L400.07,112.87 L400.18,108.43 L400.29,103.96 L400.4,99.47 L400.5,95.02 L400.61,90.62 L400.72,86.3 L400.82,82.1 L400.93,78.04 L401.04,74.15 L401.15,70.46 L401.25,66.99 L401.36,63.77 L401.47,60.81 L401.58,58.15 L401.68,55.79 L401.79,53.75 L401.9,52.06 L402,50.71 L402.11,49.71 L402.22,49.09 L402.33,48.83 L402.43,48.9 L402.54,49.23 L402.65,49.82 L402.75,50.64 L402.86,51.69 L402.97,52.95 L403.08,54.39 L403.18,56 L403.29,57.74 L403.4,59.58 L403.5,61.5 L403.61,63.46 L403.72,65.42 L403.83,67.36 L403.93,69.24 L404.04,71.02 L404.15,72.68 L404.26,74.2 L404.36,75.53 L404.47,76.67 L404.58,77.58 L404.68,78.26 L404.79,78.69 L404.9,78.87 L405.01,78.82 L405.11,78.59 L405.22,78.18 L405.33,77.6 L405.43,76.85 L405.54,75.93 L405.65,74.86 L405.76,73.63 L405.86,72.26 L405.97,70.76 L406.08,69.13 L406.18,67.4 L406.29,65.56 L406.4,63.63 L406.51,61.64 L406.61,59.58 L406.72,57.47 L406.83,55.33 L406.94,53.17 L407.04,51.01 L407.15,48.86 L407.26,46.74 L407.36,44.66 L407.47,42.64 L407.58,40.68 L407.69,38.81 L407.79,37.03 L407.9,35.36 L408.01,33.8 L408.11,32.38 L408.22,31.1 L408.33,29.96 L408.44,28.98 L408.54,28.16 L408.65,27.51 L408.76,27.03 L408.86,26.73 L408.97,26.6 L409.08,26.72 L409.19,27.2 L409.29,28.05 L409.4,29.25 L409.51,30.82 L409.62,32.72 L409.72,34.95 L409.83,37.49 L409.94,40.33 L410.04,43.45 L410.15,46.82 L410.26,50.43 L410.37,54.24 L410.47,58.23 L410.58,62.38 L410.69,66.66 L410.79,71.03 L410.9,75.47 L411.01,79.94 L411.12,84.43 L411.22,88.88 L411.33,93.28 L411.44,97.6 L411.54,101.8 L411.65,105.86 L411.76,109.75 L411.87,113.44 L411.97,116.91 L412.08,120.13 L412.19,123.09 L412.3,125.75 L412.4,128.11 L412.51,130.15 L412.62,131.84 L412.72,133.19 L412.83,134.19 L412.94,134.81 L413.05,135.07 L413.15,135 L413.26,134.67 L413.37,134.08 L413.47,133.26 L413.58,132.21 L413.69,130.95 L413.8,129.51 L413.9,127.9 L414.01,126.16 L414.12,124.32 L414.22,122.4 L414.33,120.44 L414.44,118.48 L414.55,116.54 L414.65,114.66 L414.76,112.88 L414.87,111.22 L414.98,109.7 L415.08,108.37 L415.19,107.23 L415.3,106.32 L415.4,105.64 L415.51,105.21 L415.62,105.03 L415.73,105.08 L415.83,105.31 L415.94,105.72 L416.05,106.3 L416.15,107.05 L416.26,107.97 L416.37,109.04 L416.48,110.27 L416.58,111.64 L416.69,113.14 L416.8,114.77 L416.9,116.5 L417.01,118.34 L417.12,120.27 L417.23,122.26 L417.33,124.32 L417.44,126.43 L417.55,128.57 L417.66,130.73 L417.76,132.89 L417.87,135.04 L417.98,137.16 L418.08,139.24 L418.19,141.26 L418.3,143.22 L418.41,145.09 L418.51,146.87 L418.62,148.54 L418.73,150.1 L418.83,151.52 L418.94,152.8 L419.05,153.94 L419.16,154.92 L419.26,155.74 L419.37,156.39 L419.48,156.87 L419.58,157.17 L419.69,157.3 L419.8,157.18 L419.91,156.7 L420.01,155.85 L420.12,154.65 L420.23,153.08 L420.34,151.18 L420.44,148.95 L420.55,146.41 L420.66,143.57 L420.76,140.45 L420.87,137.08 L420.98,133.47 L421.09,129.66 L421.19,125.67 L421.3,121.52 L421.41,117.24 L421.51,112.87 L421.62,108.43 L421.73,103.96 L421.84,99.47 L421.94,95.02 L422.05,90.62 L422.16,86.3 L422.26,82.1 L422.37,78.04 L422.48,74.15 L422.59,70.46 L422.69,66.99 L422.8,63.77 L422.91,60.81 L423.02,58.15 L423.12,55.79 L423.23,53.75 L423.34,52.06 L423.44,50.71 L423.55,49.71 L423.66,49.09 L423.77,48.83 L423.87,48.9 L423.98,49.23 L424.09,49.82 L424.19,50.64 L424.3,51.69 L424.41,52.95 L424.52,54.39 L424.62,56 L424.73,57.74 L424.84,59.58 L424.94,61.5 L425.05,63.46 L425.16,65.42 L425.27,67.36 L425.37,69.24 L425.48,71.02 L425.59,72.68 L425.7,74.2 L425.8,75.53 L425.91,76.67 L426.02,77.58 L426.12,78.26 L426.23,78.69 L426.34,78.87 L426.45,78.82 L426.55,78.59 L426.66,78.18 L426.77,77.6 L426.87,76.85 L426.98,75.93 L427.09,74.86 L427.2,73.63 L427.3,72.26 L427.41,70.76 L427.52,69.13 L427.62,67.4 L427.73,65.56 L427.84,63.63 L427.95,61.64 L428.05,59.58 L428.16,57.47 L428.27,55.33 L428.38,53.17 L428.48,51.01 L428.59,48.86 L428.7,46.74 L428.8,44.66 L428.91,42.64 L429.02,40.68 L429.13,38.81 L429.23,37.03 L429.34,35.36 L429.45,33.8 L429.55,32.38 L429.66,31.1 L429.77,29.96 L429.88,28.98 L429.98,28.16 L430.09,27.51 L430.2,27.03 L430.3,26.73 L430.41,26.6 L430.52,26.72 L430.63,27.2 L430.73,28.05 L430.84,29.25 L430.95,30.82 L431.06,32.72 L431.16,34.95 L431.27,37.49 L431.38,40.33 L431.48,43.45 L431.59,46.82 L431.7,50.43 L431.81,54.24 L431.91,58.23 L432.02,62.38 L432.13,66.66 L432.23,71.03 L432.34,75.47 L432.45,79.94 L432.56,84.43 L432.66,88.88 L432.77,93.28 L432.88,97.6 L432.98,101.8 L433.09,105.86 L433.2,109.75 L433.31,113.44 L433.41,116.91 L433.52,120.13 L433.63,123.09 L433.74,125.75 L433.84,128.11 L433.95,130.15 L434.06,131.84 L434.16,133.19 L434.27,134.19 L434.38,134.81 L434.49,135.07 L434.59,135 L434.7,134.67 L434.81,134.08 L434.91,133.26 L435.02,132.21 L435.13,130.95 L435.24,129.51 L435.34,127.9 L435.45,126.16 L435.56,124.32 L435.66,122.4 L435.77,120.44 L435.88,118.48 L435.99,116.54 L436.09,114.66 L436.2,112.88 L436.31,111.22 L436.42,109.7 L436.52,108.37 L436.63,107.23 L436.74,106.32 L436.84,105.64 L436.95,105.21 L437.06,105.03 L437.17,105.08 L437.27,105.31 L437.38,105.72 L437.49,106.3 L437.59,107.05 L437.7,107.97 L437.81,109.04 L437.92,110.27 L438.02,111.64 L438.13,113.14 L438.24,114.77 L438.34,116.5 L438.45,118.34 L438.56,120.27 L438.67,122.26 L438.77,124.32 L438.88,126.43 L438.99,128.57 L439.1,130.73 L439.2,132.89 L439.31,135.04 L439.42,137.16 L439.52,139.24 L439.63,141.26 L439.74,143.22 L439.85,145.09 L439.95,146.87 L440.06,148.54 L440.17,150.1 L440.27,151.52 L440.38,152.8 L440.49,153.94 L440.6,154.92 L440.7,155.74 L440.81,156.39 L440.92,156.87 L441.02,157.17 L441.13,157.3 L441.24,157.18 L441.35,156.7 L441.45,155.85 L441.56,154.65 L441.67,153.08 L441.78,151.18 L441.88,148.95 L441.99,146.41 L442.1,143.57 L442.2,140.45 L442.31,137.08 L442.42,133.47 L442.53,129.66 L442.63,125.67 L442.74,121.52 L442.85,117.24 L442.95,112.87 L443.06,108.43 L443.17,103.96 L443.28,99.47 L443.38,95.02 L443.49,90.62 L443.6,86.3 L443.7,82.1 L443.81,78.04 L443.92,74.15 L444.03,70.46 L444.13,66.99 L444.24,63.77 L444.35,60.81 L444.46,58.15 L444.56,55.79 L444.67,53.75 L444.78,52.06 L444.88,50.71 L444.99,49.71 L445.1,49.09 L445.21,48.83 L445.31,48.9 L445.42,49.23 L445.53,49.82 L445.63,50.64 L445.74,51.69 L445.85,52.95 L445.96,54.39 L446.06,56 L446.17,57.74 L446.28,59.58 L446.38,61.5 L446.49,63.46 L446.6,65.42 L446.71,67.36 L446.81,69.24 L446.92,71.02 L447.03,72.68 L447.14,74.2 L447.24,75.53 L447.35,76.67 L447.46,77.58 L447.56,78.26 L447.67,78.69 L447.78,78.87 L447.89,78.82 L447.99,78.59 L448.1,78.18 L448.21,77.6 L448.31,76.85 L448.42,75.93 L448.53,74.86 L448.64,73.63 L448.74,72.26 L448.85,70.76 L448.96,69.13 L449.06,67.4 L449.17,65.56 L449.28,63.63 L449.39,61.64 L449.49,59.58 L449.6,57.47 L449.71,55.33 L449.82,53.17 L449.92,51.01 L450.03,48.86 L450.14,46.74 L450.24,44.66 L450.35,42.64 L450.46,40.68 L450.57,38.81 L450.67,37.03 L450.78,35.36 L450.89,33.8 L450.99,32.38 L451.1,31.1 L451.21,29.96 L451.32,28.98 L451.42,28.16 L451.53,27.51 L451.64,27.03 L451.74,26.73 L451.85,26.6 L451.96,26.72 L452.07,27.2 L452.17,28.05 L452.28,29.25 L452.39,30.82 L452.5,32.72 L452.6,34.95 L452.71,37.49 L452.82,40.33 L452.92,43.45 L453.03,46.82 L453.14,50.43 L453.25,54.24 L453.35,58.23 L453.46,62.38 L453.57,66.66 L453.67,71.03 L453.78,75.47 L453.89,79.94 L454,84.43 L454.1,88.88 L454.21,93.28 L454.32,97.6 L454.42,101.8 L454.53,105.86 L454.64,109.75 L454.75,113.44 L454.85,116.91 L454.96,120.13 L455.07,123.09 L455.18,125.75 L455.28,128.11 L455.39,130.15 L455.5,131.84 L455.6,133.19 L455.71,134.19 L455.82,134.81 L455.93,135.07 L456.03,135 L456.14,134.67 L456.25,134.08 L456.35,133.26 L456.46,132.21 L456.57,130.95 L456.68,129.51 L456.78,127.9 L456.89,126.16 L457,124.32 L457.1,122.4 L457.21,120.44 L457.32,118.48 L457.43,116.54 L457.53,114.66 L457.64,112.88 L457.75,111.22 L457.86,109.7 L457.96,108.37 L458.07,107.23 L458.18,106.32 L458.28,105.64 L458.39,105.21 L458.5,105.03 L458.61,105.08 L458.71,105.31 L458.82,105.72 L458.93,106.3 L459.03,107.05 L459.14,107.97 L459.25,109.04 L459.36,110.27 L459.46,111.64 L459.57,113.14 L459.68,114.77 L459.78,116.5 L459.89,118.34 L460,120.27 L460.11,122.26 L460.21,124.32 L460.32,126.43 L460.43,128.57 L460.54,130.73 L460.64,132.89 L460.75,135.04 L460.86,137.16 L460.96,139.24 L461.07,141.26 L461.18,143.22 L461.29,145.09 L461.39,146.87 L461.5,148.54 L461.61,150.1 L461.71,151.52 L461.82,152.8 L461.93,153.94 L462.04,154.92 L462.14,155.74 L462.25,156.39 L462.36,156.87 L462.46,157.17 L462.57,157.3 L462.68,157.18 L462.79,156.7 L462.89,155.85 L463,154.65 L463.11,153.08 L463.22,151.18 L463.32,148.95 L463.43,146.41 L463.54,143.57 L463.64,140.45 L463.75,137.08 L463.86,133.47 L463.97,129.66 L464.07,125.67 L464.18,121.52 L464.29,117.24 L464.39,112.87 L464.5,108.43 L464.61,103.96 L464.72,99.47 L464.82,95.02 L464.93,90.62 L465.04,86.3 L465.14,82.1 L465.25,78.04 L465.36,74.15 L465.47,70.46 L465.57,66.99 L465.68,63.77 L465.79,60.81 L465.9,58.15 L466,55.79 L466.11,53.75 L466.22,52.06 L466.32,50.71 L466.43,49.71 L466.54,49.09 L466.65,48.83 L466.75,48.9 L466.86,49.23 L466.97,49.82 L467.07,50.64 L467.18,51.69 L467.29,52.95 L467.4,54.39 L467.5,56 L467.61,57.74 L467.72,59.58 L467.82,61.5 L467.93,63.46 L468.04,65.42 L468.15,67.36 L468.25,69.24 L468.36,71.02 L468.47,72.68 L468.58,74.2 L468.68,75.53 L468.79,76.67 L468.9,77.58 L469,78.26 L469.11,78.69 L469.22,78.87 L469.33,78.82 L469.43,78.59 L469.54,78.18 L469.65,77.6 L469.75,76.85 L469.86,75.93 L469.97,74.86 L470.08,73.63 L470.18,72.26 L470.29,70.76 L470.4,69.13 L470.5,67.4 L470.61,65.56 L470.72,63.63 L470.83,61.64 L470.93,59.58 L471.04,57.47 L471.15,55.33 L471.26,53.17 L471.36,51.01 L471.47,48.86 L471.58,46.74 L471.68,44.66 L471.79,42.64 L471.9,40.68 L472.01,38.81 L472.11,37.03 L472.22,35.36 L472.33,33.8 L472.43,32.38 L472.54,31.1 L472.65,29.96 L472.76,28.98 L472.86,28.16 L472.97,27.51 L473.08,27.03 L473.18,26.73 L473.29,26.6 L473.4,26.72 L473.51,27.2 L473.61,28.05 L473.72,29.25 L473.83,30.82 L473.94,32.72 L474.04,34.95 L474.15,37.49 L474.26,40.33 L474.36,43.45 L474.47,46.82 L474.58,50.43 L474.69,54.24 L474.79,58.23 L474.9,62.38 L475.01,66.66 L475.11,71.03 L475.22,75.47 L475.33,79.94 L475.44,84.43 L475.54,88.88 L475.65,93.28 L475.76,97.6 L475.86,101.8 L475.97,105.86 L476.08,109.75 L476.19,113.44 L476.29,116.91 L476.4,120.13 L476.51,123.09 L476.62,125.75 L476.72,128.11 L476.83,130.15 L476.94,131.84 L477.04,133.19 L477.15,134.19 L477.26,134.81 L477.37,135.07 L477.47,135 L477.58,134.67 L477.69,134.08 L477.79,133.26 L477.9,132.21 L478.01,130.95 L478.12,129.51 L478.22,127.9 L478.33,126.16 L478.44,124.32 L478.54,122.4 L478.65,120.44 L478.76,118.48 L478.87,116.54 L478.97,114.66 L479.08,112.88 L479.19,111.22 L479.3,109.7 L479.4,108.37 L479.51,107.23 L479.62,106.32 L479.72,105.64 L479.83,105.21 L479.94,105.03 L480.05,105.08 L480.15,105.31 L480.26,105.72 L480.37,106.3 L480.47,107.05 L480.58,107.97 L480.69,109.04 L480.8,110.27 L480.9,111.64 L481.01,113.14 L481.12,114.77 L481.22,116.5 L481.33,118.34 L481.44,120.27 L481.55,122.26 L481.65,124.32 L481.76,126.43 L481.87,128.57 L481.98,130.73 L482.08,132.89 L482.19,135.04 L482.3,137.16 L482.4,139.24 L482.51,141.26 L482.62,143.22 L482.73,145.09 L482.83,146.87 L482.94,148.54 L483.05,150.1 L483.15,151.52 L483.26,152.8 L483.37,153.94 L483.48,154.92 L483.58,155.74 L483.69,156.39 L483.8,156.87 L483.9,157.17 L484.01,157.3 L484.12,157.18 L484.23,156.7 L484.33,155.85 L484.44,154.65 L484.55,153.08 L484.66,151.18 L484.76,148.95 L484.87,146.41 L484.98,143.57 L485.08,140.45 L485.19,137.08 L485.3,133.47 L485.41,129.66 L485.51,125.67 L485.62,121.52 L485.73,117.24 L485.83,112.87 L485.94,108.43 L486.05,103.96 L486.16,99.47 L486.26,95.02 L486.37,90.62 L486.48,86.3 L486.58,82.1 L486.69,78.04 L486.8,74.15 L486.91,70.46 L487.01,66.99 L487.12,63.77 L487.23,60.81 L487.34,58.15 L487.44,55.79 L487.55,53.75 L487.66,52.06 L487.76,50.71 L487.87,49.71 L487.98,49.09 L488.09,48.83 L488.19,48.9 L488.3,49.23 L488.41,49.82 L488.51,50.64 L488.62,51.69 L488.73,52.95 L488.84,54.39 L488.94,56 L489.05,57.74 L489.16,59.58 L489.26,61.5 L489.37,63.46 L489.48,65.42 L489.59,67.36 L489.69,69.24 L489.8,71.02 L489.91,72.68 L490.02,74.2 L490.12,75.53 L490.23,76.67 L490.34,77.58 L490.44,78.26 L490.55,78.69 L490.66,78.87 L490.77,78.82 L490.87,78.59 L490.98,78.18 L491.09,77.6 L491.19,76.85 L491.3,75.93 L491.41,74.86 L491.52,73.63 L491.62,72.26 L491.73,70.76 L491.84,69.13 L491.94,67.4 L492.05,65.56 L492.16,63.63 L492.27,61.64 L492.37,59.58 L492.48,57.47 L492.59,55.33 L492.7,53.17 L492.8,51.01 L492.91,48.86 L493.02,46.74 L493.12,44.66 L493.23,42.64 L493.34,40.68 L493.45,38.81 L493.55,37.03 L493.66,35.36 L493.77,33.8 L493.87,32.38 L493.98,31.1 L494.09,29.96 L494.2,28.98 L494.3,28.16 L494.41,27.51 L494.52,27.03 L494.62,26.73 L494.73,26.6 L494.84,26.72 L494.95,27.2 L495.05,28.05 L495.16,29.25 L495.27,30.82 L495.38,32.72 L495.48,34.95 L495.59,37.49 L495.7,40.33 L495.8,43.45 L495.91,46.82 L496.02,50.43 L496.13,54.24 L496.23,58.23 L496.34,62.38 L496.45,66.66 L496.55,71.03 L496.66,75.47 L496.77,79.94 L496.88,84.43 L496.98,88.88 L497.09,93.28 L497.2,97.6 L497.3,101.8 L497.41,105.86 L497.52,109.75 L497.63,113.44 L497.73,116.91 L497.84,120.13 L497.95,123.09 L498.06,125.75 L498.16,128.11 L498.27,130.15 L498.38,131.84 L498.48,133.19 L498.59,134.19 L498.7,134.81 L498.81,135.07 L498.91,135 L499.02,134.67 L499.13,134.08 L499.23,133.26 L499.34,132.21 L499.45,130.95 L499.56,129.51 L499.66,127.9 L499.77,126.16 L499.88,124.32 L499.98,122.4 L500.09,120.44 L500.2,118.48 L500.31,116.54 L500.41,114.66 L500.52,112.88 L500.63,111.22 L500.74,109.7 L500.84,108.37 L500.95,107.23 L501.06,106.32 L501.16,105.64 L501.27,105.21 L501.38,105.03 L501.49,105.08 L501.59,105.31 L501.7,105.72 L501.81,106.3 L501.91,107.05 L502.02,107.97 L502.13,109.04 L502.24,110.27 L502.34,111.64 L502.45,113.14 L502.56,114.77 L502.66,116.5 L502.77,118.34 L502.88,120.27 L502.99,122.26 L503.09,124.32 L503.2,126.43 L503.31,128.57 L503.42,130.73 L503.52,132.89 L503.63,135.04 L503.74,137.16 L503.84,139.24 L503.95,141.26 L504.06,143.22 L504.17,145.09 L504.27,146.87 L504.38,148.54 L504.49,150.1 L504.59,151.52 L504.7,152.8 L504.81,153.94 L504.92,154.92 L505.02,155.74 L505.13,156.39 L505.24,156.87 L505.34,157.17 L505.45,157.3 L505.56,157.18 L505.67,156.7 L505.77,155.85 L505.88,154.65 L505.99,153.08 L506.1,151.18 L506.2,148.95 L506.31,146.41 L506.42,143.57 L506.52,140.45 L506.63,137.08 L506.74,133.47 L506.85,129.66 L506.95,125.67 L507.06,121.52 L507.17,117.24 L507.27,112.87 L507.38,108.43 L507.49,103.96 L507.6,99.47 L507.7,95.02 L507.81,90.62 L507.92,86.3 L508.02,82.1 L508.13,78.04 L508.24,74.15 L508.35,70.46 L508.45,66.99 L508.56,63.77 L508.67,60.81 L508.78,58.15 L508.88,55.79 L508.99,53.75 L509.1,52.06 L509.2,50.71 L509.31,49.71 L509.42,49.09 L509.53,48.83 L509.63,48.9 L509.74,49.23 L509.85,49.82 L509.95,50.64 L510.06,51.69 L510.17,52.95 L510.28,54.39 L510.38,56 L510.49,57.74 L510.6,59.58 L510.7,61.5 L510.81,63.46 L510.92,65.42 L511.03,67.36 L511.13,69.24 L511.24,71.02 L511.35,72.68 L511.46,74.2 L511.56,75.53 L511.67,76.67 L511.78,77.58 L511.88,78.26 L511.99,78.69 L512.1,78.87 L512.21,78.82 L512.31,78.59 L512.42,78.18 L512.53,77.6 L512.63,76.85 L512.74,75.93 L512.85,74.86 L512.96,73.63 L513.06,72.26 L513.17,70.76 L513.28,69.13 L513.38,67.4 L513.49,65.56 L513.6,63.63 L513.71,61.64 L513.81,59.58 L513.92,57.47 L514.03,55.33 L514.14,53.17 L514.24,51.01 L514.35,48.86 L514.46,46.74 L514.56,44.66 L514.67,42.64 L514.78,40.68 L514.89,38.81 L514.99,37.03 L515.1,35.36 L515.21,33.8 L515.31,32.38 L515.42,31.1 L515.53,29.96 L515.64,28.98 L515.74,28.16 L515.85,27.51 L515.96,27.03 L516.06,26.73 L516.17,26.6 L516.28,26.72 L516.39,27.2 L516.49,28.05 L516.6,29.25 L516.71,30.82 L516.82,32.72 L516.92,34.95 L517.03,37.49 L517.14,40.33 L517.24,43.45 L517.35,46.82 L517.46,50.43 L517.57,54.24 L517.67,58.23 L517.78,62.38 L517.89,66.66 L517.99,71.03 L518.1,75.47 L518.21,79.94 L518.32,84.43 L518.42,88.88 L518.53,93.28 L518.64,97.6 L518.74,101.8 L518.85,105.86 L518.96,109.75 L519.07,113.44 L519.17,116.91 L519.28,120.13 L519.39,123.09 L519.5,125.75 L519.6,128.11 L519.71,130.15 L519.82,131.84 L519.92,133.19 L520.03,134.19 L520.14,134.81 L520.25,135.07 L520.35,135 L520.46,134.67 L520.57,134.08 L520.67,133.26 L520.78,132.21 L520.89,130.95 L521,129.51 L521.1,127.9 L521.21,126.16 L521.32,124.32 L521.42,122.4 L521.53,120.44 L521.64,118.48 L521.75,116.54 L521.85,114.66 L521.96,112.88 L522.07,111.22 L522.18,109.7 L522.28,108.37 L522.39,107.23 L522.5,106.32 L522.6,105.64 L522.71,105.21 L522.82,105.03 L522.93,105.08 L523.03,105.31 L523.14,105.72 L523.25,106.3 L523.35,107.05 L523.46,107.97 L523.57,109.04 L523.68,110.27 L523.78,111.64 L523.89,113.14 L524,114.77 L524.1,116.5 L524.21,118.34 L524.32,120.27 L524.43,122.26 L524.53,124.32 L524.64,126.43 L524.75,128.57 L524.86,130.73 L524.96,132.89 L525.07,135.04 L525.18,137.16 L525.28,139.24 L525.39,141.26 L525.5,143.22 L525.61,145.09 L525.71,146.87 L525.82,148.54 L525.93,150.1 L526.03,151.52 L526.14,152.8 L526.25,153.94 L526.36,154.92 L526.46,155.74 L526.57,156.39 L526.68,156.87 L526.78,157.17 L526.89,157.3 L527,157.18 L527.11,156.7 L527.21,155.85 L527.32,154.65 L527.43,153.08 L527.54,151.18 L527.64,148.95 L527.75,146.41 L527.86,143.57 L527.96,140.45 L528.07,137.08 L528.18,133.47 L528.29,129.66 L528.39,125.67 L528.5,121.52 L528.61,117.24 L528.71,112.87 L528.82,108.43 L528.93,103.96 L529.04,99.47 L529.14,95.02 L529.25,90.62 L529.36,86.3 L529.46,82.1 L529.57,78.04 L529.68,74.15 L529.79,70.46 L529.89,66.99 L530,63.77 L530.11,60.81 L530.22,58.15 L530.32,55.79 L530.43,53.75 L530.54,52.06 L530.64,50.71 L530.75,49.71 L530.86,49.09 L530.97,48.83 L531.07,48.9 L531.18,49.23 L531.29,49.82 L531.39,50.64 L531.5,51.69 L531.61,52.95 L531.72,54.39 L531.82,56 L531.93,57.74 L532.04,59.58 L532.14,61.5 L532.25,63.46 L532.36,65.42 L532.47,67.36 L532.57,69.24 L532.68,71.02 L532.79,72.68 L532.9,74.2 L533,75.53 L533.11,76.67 L533.22,77.58 L533.32,78.26 L533.43,78.69 L533.54,78.87 L533.65,78.82 L533.75,78.59 L533.86,78.18 L533.97,77.6 L534.07,76.85 L534.18,75.93 L534.29,74.86 L534.4,73.63 L534.5,72.26 L534.61,70.76 L534.72,69.13 L534.82,67.4 L534.93,65.56 L535.04,63.63 L535.15,61.64 L535.25,59.58 L535.36,57.47 L535.47,55.33 L535.58,53.17 L535.68,51.01 L535.79,48.86 L535.9,46.74 L536,44.66 L536.11,42.64 L536.22,40.68 L536.33,38.81 L536.43,37.03 L536.54,35.36 L536.65,33.8 L536.75,32.38 L536.86,31.1 L536.97,29.96 L537.08,28.98 L537.18,28.16 L537.29,27.51 L537.4,27.03 L537.5,26.73 L537.61,26.6 L537.72,26.72 L537.83,27.2 L537.93,28.05 L538.04,29.25 L538.15,30.82 L538.26,32.72 L538.36,34.95 L538.47,37.49 L538.58,40.33 L538.68,43.45 L538.79,46.82 L538.9,50.43 L539.01,54.24 L539.11,58.23 L539.22,62.38 L539.33,66.66 L539.43,71.03 L539.54,75.47 L539.65,79.94 L539.76,84.43 L539.86,88.88 L539.97,93.28 L540.08,97.6 L540.18,101.8 L540.29,105.86 L540.4,109.75 L540.51,113.44 L540.61,116.91 L540.72,120.13 L540.83,123.09 L540.94,125.75 L541.04,128.11 L541.15,130.15 L541.26,131.84 L541.36,133.19 L541.47,134.19 L541.58,134.81 L541.69,135.07 L541.79,135 L541.9,134.67 L542.01,134.08 L542.11,133.26 L542.22,132.21 L542.33,130.95 L542.44,129.51 L542.54,127.9 L542.65,126.16 L542.76,124.32 L542.86,122.4 L542.97,120.44 L543.08,118.48 L543.19,116.54 L543.29,114.66 L543.4,112.88 L543.51,111.22 L543.62,109.7 L543.72,108.37 L543.83,107.23 L543.94,106.32 L544.04,105.64 L544.15,105.21 L544.26,105.03 L544.37,105.08 L544.47,105.31 L544.58,105.72 L544.69,106.3 L544.79,107.05 L544.9,107.97 L545.01,109.04 L545.12,110.27 L545.22,111.64 L545.33,113.14 L545.44,114.77 L545.54,116.5 L545.65,118.34 L545.76,120.27 L545.87,122.26 L545.97,124.32 L546.08,126.43 L546.19,128.57 L546.3,130.73 L546.4,132.89 L546.51,135.04 L546.62,137.16 L546.72,139.24 L546.83,141.26 L546.94,143.22 L547.05,145.09 L547.15,146.87 L547.26,148.54 L547.37,150.1 L547.47,151.52 L547.58,152.8 L547.69,153.94 L547.8,154.92 L547.9,155.74 L548.01,156.39 L548.12,156.87 L548.22,157.17 L548.33,157.3 L548.44,157.18 L548.55,156.7 L548.65,155.85 L548.76,154.65 L548.87,153.08 L548.98,151.18 L549.08,148.95 L549.19,146.41 L549.3,143.57 L549.4,140.45 L549.51,137.08 L549.62,133.47 L549.73,129.66 L549.83,125.67 L549.94,121.52 L550.05,117.24 L550.15,112.87 L550.26,108.43 L550.37,103.96 L550.48,99.47 L550.58,95.02 L550.69,90.62 L550.8,86.3 L550.9,82.1 L551.01,78.04 L551.12,74.15 L551.23,70.46 L551.33,66.99 L551.44,63.77 L551.55,60.81 L551.66,58.15 L551.76,55.79 L551.87,53.75 L551.98,52.06 L552.08,50.71 L552.19,49.71 L552.3,49.09 L552.41,48.83 L552.51,48.9 L552.62,49.23 L552.73,49.82 L552.83,50.64 L552.94,51.69 L553.05,52.95 L553.16,54.39 L553.26,56 L553.37,57.74 L553.48,59.58 L553.58,61.5 L553.69,63.46 L553.8,65.42 L553.91,67.36 L554.01,69.24 L554.12,71.02 L554.23,72.68 L554.34,74.2 L554.44,75.53 L554.55,76.67 L554.66,77.58 L554.76,78.26 L554.87,78.69 L554.98,78.87 L555.09,78.82 L555.19,78.59 L555.3,78.18 L555.41,77.6 L555.51,76.85 L555.62,75.93 L555.73,74.86 L555.84,73.63 L555.94,72.26 L556.05,70.76 L556.16,69.13 L556.26,67.4 L556.37,65.56 L556.48,63.63 L556.59,61.64 L556.69,59.58 L556.8,57.47 L556.91,55.33 L557.02,53.17 L557.12,51.01 L557.23,48.86 L557.34,46.74 L557.44,44.66 L557.55,42.64 L557.66,40.68 L557.77,38.81 L557.87,37.03 L557.98,35.36 L558.09,33.8 L558.19,32.38 L558.3,31.1 L558.41,29.96 L558.52,28.98 L558.62,28.16 L558.73,27.51 L558.84,27.03 L558.94,26.73 L559.05,26.6 L559.16,26.72 L559.27,27.2 L559.37,28.05 L559.48,29.25 L559.59,30.82 L559.7,32.72 L559.8,34.95 L559.91,37.49 L560.02,40.33 L560.12,43.45 L560.23,46.82 L560.34,50.43 L560.45,54.24 L560.55,58.23 L560.66,62.38 L560.77,66.66 L560.87,71.03 L560.98,75.47 L561.09,79.94 L561.2,84.43 L561.3,88.88 L561.41,93.28 L561.52,97.6 L561.62,101.8 L561.73,105.86 L561.84,109.75 L561.95,113.44 L562.05,116.91 L562.16,120.13 L562.27,123.09 L562.38,125.75 L562.48,128.11 L562.59,130.15 L562.7,131.84 L562.8,133.19 L562.91,134.19 L563.02,134.81 L563.13,135.07 L563.23,135 L563.34,134.67 L563.45,134.08 L563.55,133.26 L563.66,132.21 L563.77,130.95 L563.88,129.51 L563.98,127.9 L564.09,126.16 L564.2,124.32 L564.3,122.4 L564.41,120.44 L564.52,118.48 L564.63,116.54 L564.73,114.66 L564.84,112.88 L564.95,111.22 L565.06,109.7 L565.16,108.37 L565.27,107.23 L565.38,106.32 L565.48,105.64 L565.59,105.21 L565.7,105.03 L565.81,105.08 L565.91,105.31 L566.02,105.72 L566.13,106.3 L566.23,107.05 L566.34,107.97 L566.45,109.04 L566.56,110.27 L566.66,111.64 L566.77,113.14 L566.88,114.77 L566.98,116.5 L567.09,118.34 L567.2,120.27 L567.31,122.26 L567.41,124.32 L567.52,126.43 L567.63,128.57 L567.74,130.73 L567.84,132.89 L567.95,135.04 L568.06,137.16 L568.16,139.24 L568.27,141.26 L568.38,143.22 L568.49,145.09 L568.59,146.87 L568.7,148.54" fill="none" stroke="#0000ff" stroke-width="1.2"/>
<circle cx="354.3" cy="148.54" r="1.9" fill="#fff" stroke="#0000ff" stroke-width="0.8"/>
<circle cx="359.66" cy="49.23" r="1.9" fill="#fff" stroke="#0000ff" stroke-width="0.8"/>
<circle cx="365.02" cy="35.36" r="1.9" fill="#fff" stroke="#0000ff" stroke-width="0.8"/>
<circle cx="370.38" cy="134.67" r="1.9" fill="#fff" stroke="#0000ff" stroke-width="0.8"/>
<circle cx="375.74" cy="148.54" r="1.9" fill="#fff" stroke="#0000ff" stroke-width="0.8"/>
<circle cx="381.1" cy="49.23" r="1.9" fill="#fff" stroke="#0000ff" stroke-width="0.8"/>
<circle cx="386.46" cy="35.36" r="1.9" fill="#fff" stroke="#0000ff" stroke-width="0.8"/>
<circle cx="391.82" cy="134.67" r="1.9" fill="#fff" stroke="#0000ff" stroke-width="0.8"/>
<circle cx="397.18" cy="148.54" r="1.9" fill="#fff" stroke="#0000ff" stroke-width="0.8"/>
<circle cx="402.54" cy="49.23" r="1.9" fill="#fff" stroke="#0000ff" stroke-width="0.8"/>
<circle cx="407.9" cy="35.36" r="1.9" fill="#fff" stroke="#0000ff" stroke-width="0.8"/>
<circle cx="413.26" cy="134.67" r="1.9" fill="#fff" stroke="#0000ff" stroke-width="0.8"/>
<circle cx="418.62" cy="148.54" r="1.9" fill="#fff" stroke="#0000ff" stroke-width="0.8"/>
<circle cx="423.98" cy="49.23" r="1.9" fill="#fff" stroke="#0000ff" stroke-width="0.8"/>
<circle cx="429.34" cy="35.36" r="1.9" fill="#fff" stroke="#0000ff" stroke-width="0.8"/>
<circle cx="434.7" cy="134.67" r="1.9" fill="#fff" stroke="#0000ff" stroke-width="0.8"/>
<circle cx="440.06" cy="148.54" r="1.9" fill="#fff" stroke="#0000ff" stroke-width="0.8"/>
<circle cx="445.42" cy="49.23" r="1.9" fill="#fff" stroke="#0000ff" stroke-width="0.8"/>
<circle cx="450.78" cy="35.36" r="1.9" fill="#fff" stroke="#0000ff" stroke-width="0.8"/>
<circle cx="456.14" cy="134.67" r="1.9" fill="#fff" stroke="#0000ff" stroke-width="0.8"/>
<circle cx="461.5" cy="148.54" r="1.9" fill="#fff" stroke="#0000ff" stroke-width="0.8"/>
<circle cx="466.86" cy="49.23" r="1.9" fill="#fff" stroke="#0000ff" stroke-width="0.8"/>
<circle cx="472.22" cy="35.36" r="1.9" fill="#fff" stroke="#0000ff" stroke-width="0.8"/>
<circle cx="477.58" cy="134.67" r="1.9" fill="#fff" stroke="#0000ff" stroke-width="0.8"/>
<circle cx="482.94" cy="148.54" r="1.9" fill="#fff" stroke="#0000ff" stroke-width="0.8"/>
<circle cx="488.3" cy="49.23" r="1.9" fill="#fff" stroke="#0000ff" stroke-width="0.8"/>
<circle cx="493.66" cy="35.36" r="1.9" fill="#fff" stroke="#0000ff" stroke-width="0.8"/>
<circle cx="499.02" cy="134.67" r="1.9" fill="#fff" stroke="#0000ff" stroke-width="0.8"/>
<circle cx="504.38" cy="148.54" r="1.9" fill="#fff" stroke="#0000ff" stroke-width="0.8"/>
<circle cx="509.74" cy="49.23" r="1.9" fill="#fff" stroke="#0000ff" stroke-width="0.8"/>
<circle cx="515.1" cy="35.36" r="1.9" fill="#fff" stroke="#0000ff" stroke-width="0.8"/>
<circle cx="520.46" cy="134.67" r="1.9" fill="#fff" stroke="#0000ff" stroke-width="0.8"/>
<circle cx="525.82" cy="148.54" r="1.9" fill="#fff" stroke="#0000ff" stroke-width="0.8"/>
<circle cx="531.18" cy="49.23" r="1.9" fill="#fff" stroke="#0000ff" stroke-width="0.8"/>
<circle cx="536.54" cy="35.36" r="1.9" fill="#fff" stroke="#0000ff" stroke-width="0.8"/>
<circle cx="541.9" cy="134.67" r="1.9" fill="#fff" stroke="#0000ff" stroke-width="0.8"/>
<circle cx="547.26" cy="148.54" r="1.9" fill="#fff" stroke="#0000ff" stroke-width="0.8"/>
<circle cx="552.62" cy="49.23" r="1.9" fill="#fff" stroke="#0000ff" stroke-width="0.8"/>
<circle cx="557.98" cy="35.36" r="1.9" fill="#fff" stroke="#0000ff" stroke-width="0.8"/>
<circle cx="563.34" cy="134.67" r="1.9" fill="#fff" stroke="#0000ff" stroke-width="0.8"/>
<path d="M354.3,97.87 L354.41,100.49 L354.51,103.04 L354.62,105.48 L354.73,107.81 L354.84,110 L354.94,112.03 L355.05,113.87 L355.16,115.53 L355.26,116.97 L355.37,118.19 L355.48,119.18 L355.59,119.93 L355.69,120.43 L355.8,120.68 L355.91,120.67 L356.02,120.4 L356.12,119.89 L356.23,119.12 L356.34,118.12 L356.44,116.88 L356.55,115.42 L356.66,113.76 L356.77,111.9 L356.87,109.86 L356.98,107.66 L357.09,105.32 L357.19,102.87 L357.3,100.32 L357.41,97.69 L357.52,95.02 L357.62,92.31 L357.73,89.6 L357.84,86.92 L357.94,84.28 L358.05,81.7 L358.16,79.22 L358.27,76.85 L358.37,74.61 L358.48,72.53 L358.59,70.62 L358.7,68.9 L358.8,67.39 L358.91,66.09 L359.02,65.02 L359.12,64.19 L359.23,63.61 L359.34,63.28 L359.45,63.2 L359.55,63.38 L359.66,63.81 L359.77,64.49 L359.87,65.42 L359.98,66.58 L360.09,67.97 L360.2,69.57 L360.3,71.36 L360.41,73.34 L360.52,75.49 L360.62,77.78 L360.73,80.2 L360.84,82.72 L360.95,85.33 L361.05,87.99 L361.16,90.69 L361.27,93.39 L361.38,96.09 L361.48,98.75 L361.59,101.35 L361.7,103.86 L361.8,106.27 L361.91,108.56 L362.02,110.69 L362.13,112.66 L362.23,114.45 L362.34,116.03 L362.45,117.4 L362.55,118.55 L362.66,119.46 L362.77,120.12 L362.88,120.54 L362.98,120.7 L363.09,120.61 L363.2,120.26 L363.3,119.66 L363.41,118.82 L363.52,117.73 L363.63,116.42 L363.73,114.89 L363.84,113.16 L363.95,111.23 L364.06,109.14 L364.16,106.9 L364.27,104.52 L364.38,102.03 L364.48,99.45 L364.59,96.8 L364.7,94.12 L364.81,91.41 L364.91,88.7 L365.02,86.03 L365.13,83.41 L365.23,80.86 L365.34,78.42 L365.45,76.09 L365.56,73.9 L365.66,71.87 L365.77,70.03 L365.88,68.37 L365.98,66.93 L366.09,65.71 L366.2,64.72 L366.31,63.97 L366.41,63.47 L366.52,63.22 L366.63,63.23 L366.74,63.5 L366.84,64.01 L366.95,64.78 L367.06,65.78 L367.16,67.02 L367.27,68.48 L367.38,70.14 L367.49,72 L367.59,74.04 L367.7,76.24 L367.81,78.58 L367.91,81.03 L368.02,83.58 L368.13,86.21 L368.24,88.88 L368.34,91.59 L368.45,94.3 L368.56,96.98 L368.66,99.62 L368.77,102.2 L368.88,104.68 L368.99,107.05 L369.09,109.29 L369.2,111.37 L369.31,113.28 L369.42,115 L369.52,116.51 L369.63,117.81 L369.74,118.88 L369.84,119.71 L369.95,120.29 L370.06,120.62 L370.17,120.7 L370.27,120.52 L370.38,120.09 L370.49,119.41 L370.59,118.48 L370.7,117.32 L370.81,115.93 L370.92,114.33 L371.02,112.54 L371.13,110.56 L371.24,108.41 L371.34,106.12 L371.45,103.7 L371.56,101.18 L371.67,98.57 L371.77,95.91 L371.88,93.21 L371.99,90.51 L372.1,87.81 L372.2,85.15 L372.31,82.55 L372.42,80.04 L372.52,77.63 L372.63,75.34 L372.74,73.21 L372.85,71.24 L372.95,69.45 L373.06,67.87 L373.17,66.5 L373.27,65.35 L373.38,64.44 L373.49,63.78 L373.6,63.36 L373.7,63.2 L373.81,63.29 L373.92,63.64 L374.02,64.24 L374.13,65.08 L374.24,66.17 L374.35,67.48 L374.45,69.01 L374.56,70.74 L374.67,72.67 L374.78,74.76 L374.88,77 L374.99,79.38 L375.1,81.87 L375.2,84.45 L375.31,87.1 L375.42,89.78 L375.53,92.49 L375.63,95.2 L375.74,97.87 L375.85,100.49 L375.95,103.04 L376.06,105.48 L376.17,107.81 L376.28,110 L376.38,112.03 L376.49,113.87 L376.6,115.53 L376.7,116.97 L376.81,118.19 L376.92,119.18 L377.03,119.93 L377.13,120.43 L377.24,120.68 L377.35,120.67 L377.46,120.4 L377.56,119.89 L377.67,119.12 L377.78,118.12 L377.88,116.88 L377.99,115.42 L378.1,113.76 L378.21,111.9 L378.31,109.86 L378.42,107.66 L378.53,105.32 L378.63,102.87 L378.74,100.32 L378.85,97.69 L378.96,95.02 L379.06,92.31 L379.17,89.6 L379.28,86.92 L379.38,84.28 L379.49,81.7 L379.6,79.22 L379.71,76.85 L379.81,74.61 L379.92,72.53 L380.03,70.62 L380.14,68.9 L380.24,67.39 L380.35,66.09 L380.46,65.02 L380.56,64.19 L380.67,63.61 L380.78,63.28 L380.89,63.2 L380.99,63.38 L381.1,63.81 L381.21,64.49 L381.31,65.42 L381.42,66.58 L381.53,67.97 L381.64,69.57 L381.74,71.36 L381.85,73.34 L381.96,75.49 L382.06,77.78 L382.17,80.2 L382.28,82.72 L382.39,85.33 L382.49,87.99 L382.6,90.69 L382.71,93.39 L382.82,96.09 L382.92,98.75 L383.03,101.35 L383.14,103.86 L383.24,106.27 L383.35,108.56 L383.46,110.69 L383.57,112.66 L383.67,114.45 L383.78,116.03 L383.89,117.4 L383.99,118.55 L384.1,119.46 L384.21,120.12 L384.32,120.54 L384.42,120.7 L384.53,120.61 L384.64,120.26 L384.74,119.66 L384.85,118.82 L384.96,117.73 L385.07,116.42 L385.17,114.89 L385.28,113.16 L385.39,111.23 L385.5,109.14 L385.6,106.9 L385.71,104.52 L385.82,102.03 L385.92,99.45 L386.03,96.8 L386.14,94.12 L386.25,91.41 L386.35,88.7 L386.46,86.03 L386.57,83.41 L386.67,80.86 L386.78,78.42 L386.89,76.09 L387,73.9 L387.1,71.87 L387.21,70.03 L387.32,68.37 L387.42,66.93 L387.53,65.71 L387.64,64.72 L387.75,63.97 L387.85,63.47 L387.96,63.22 L388.07,63.23 L388.18,63.5 L388.28,64.01 L388.39,64.78 L388.5,65.78 L388.6,67.02 L388.71,68.48 L388.82,70.14 L388.93,72 L389.03,74.04 L389.14,76.24 L389.25,78.58 L389.35,81.03 L389.46,83.58 L389.57,86.21 L389.68,88.88 L389.78,91.59 L389.89,94.3 L390,96.98 L390.1,99.62 L390.21,102.2 L390.32,104.68 L390.43,107.05 L390.53,109.29 L390.64,111.37 L390.75,113.28 L390.86,115 L390.96,116.51 L391.07,117.81 L391.18,118.88 L391.28,119.71 L391.39,120.29 L391.5,120.62 L391.61,120.7 L391.71,120.52 L391.82,120.09 L391.93,119.41 L392.03,118.48 L392.14,117.32 L392.25,115.93 L392.36,114.33 L392.46,112.54 L392.57,110.56 L392.68,108.41 L392.78,106.12 L392.89,103.7 L393,101.18 L393.11,98.57 L393.21,95.91 L393.32,93.21 L393.43,90.51 L393.54,87.81 L393.64,85.15 L393.75,82.55 L393.86,80.04 L393.96,77.63 L394.07,75.34 L394.18,73.21 L394.29,71.24 L394.39,69.45 L394.5,67.87 L394.61,66.5 L394.71,65.35 L394.82,64.44 L394.93,63.78 L395.04,63.36 L395.14,63.2 L395.25,63.29 L395.36,63.64 L395.46,64.24 L395.57,65.08 L395.68,66.17 L395.79,67.48 L395.89,69.01 L396,70.74 L396.11,72.67 L396.22,74.76 L396.32,77 L396.43,79.38 L396.54,81.87 L396.64,84.45 L396.75,87.1 L396.86,89.78 L396.97,92.49 L397.07,95.2 L397.18,97.87 L397.29,100.49 L397.39,103.04 L397.5,105.48 L397.61,107.81 L397.72,110 L397.82,112.03 L397.93,113.87 L398.04,115.53 L398.14,116.97 L398.25,118.19 L398.36,119.18 L398.47,119.93 L398.57,120.43 L398.68,120.68 L398.79,120.67 L398.9,120.4 L399,119.89 L399.11,119.12 L399.22,118.12 L399.32,116.88 L399.43,115.42 L399.54,113.76 L399.65,111.9 L399.75,109.86 L399.86,107.66 L399.97,105.32 L400.07,102.87 L400.18,100.32 L400.29,97.69 L400.4,95.02 L400.5,92.31 L400.61,89.6 L400.72,86.92 L400.82,84.28 L400.93,81.7 L401.04,79.22 L401.15,76.85 L401.25,74.61 L401.36,72.53 L401.47,70.62 L401.58,68.9 L401.68,67.39 L401.79,66.09 L401.9,65.02 L402,64.19 L402.11,63.61 L402.22,63.28 L402.33,63.2 L402.43,63.38 L402.54,63.81 L402.65,64.49 L402.75,65.42 L402.86,66.58 L402.97,67.97 L403.08,69.57 L403.18,71.36 L403.29,73.34 L403.4,75.49 L403.5,77.78 L403.61,80.2 L403.72,82.72 L403.83,85.33 L403.93,87.99 L404.04,90.69 L404.15,93.39 L404.26,96.09 L404.36,98.75 L404.47,101.35 L404.58,103.86 L404.68,106.27 L404.79,108.56 L404.9,110.69 L405.01,112.66 L405.11,114.45 L405.22,116.03 L405.33,117.4 L405.43,118.55 L405.54,119.46 L405.65,120.12 L405.76,120.54 L405.86,120.7 L405.97,120.61 L406.08,120.26 L406.18,119.66 L406.29,118.82 L406.4,117.73 L406.51,116.42 L406.61,114.89 L406.72,113.16 L406.83,111.23 L406.94,109.14 L407.04,106.9 L407.15,104.52 L407.26,102.03 L407.36,99.45 L407.47,96.8 L407.58,94.12 L407.69,91.41 L407.79,88.7 L407.9,86.03 L408.01,83.41 L408.11,80.86 L408.22,78.42 L408.33,76.09 L408.44,73.9 L408.54,71.87 L408.65,70.03 L408.76,68.37 L408.86,66.93 L408.97,65.71 L409.08,64.72 L409.19,63.97 L409.29,63.47 L409.4,63.22 L409.51,63.23 L409.62,63.5 L409.72,64.01 L409.83,64.78 L409.94,65.78 L410.04,67.02 L410.15,68.48 L410.26,70.14 L410.37,72 L410.47,74.04 L410.58,76.24 L410.69,78.58 L410.79,81.03 L410.9,83.58 L411.01,86.21 L411.12,88.88 L411.22,91.59 L411.33,94.3 L411.44,96.98 L411.54,99.62 L411.65,102.2 L411.76,104.68 L411.87,107.05 L411.97,109.29 L412.08,111.37 L412.19,113.28 L412.3,115 L412.4,116.51 L412.51,117.81 L412.62,118.88 L412.72,119.71 L412.83,120.29 L412.94,120.62 L413.05,120.7 L413.15,120.52 L413.26,120.09 L413.37,119.41 L413.47,118.48 L413.58,117.32 L413.69,115.93 L413.8,114.33 L413.9,112.54 L414.01,110.56 L414.12,108.41 L414.22,106.12 L414.33,103.7 L414.44,101.18 L414.55,98.57 L414.65,95.91 L414.76,93.21 L414.87,90.51 L414.98,87.81 L415.08,85.15 L415.19,82.55 L415.3,80.04 L415.4,77.63 L415.51,75.34 L415.62,73.21 L415.73,71.24 L415.83,69.45 L415.94,67.87 L416.05,66.5 L416.15,65.35 L416.26,64.44 L416.37,63.78 L416.48,63.36 L416.58,63.2 L416.69,63.29 L416.8,63.64 L416.9,64.24 L417.01,65.08 L417.12,66.17 L417.23,67.48 L417.33,69.01 L417.44,70.74 L417.55,72.67 L417.66,74.76 L417.76,77 L417.87,79.38 L417.98,81.87 L418.08,84.45 L418.19,87.1 L418.3,89.78 L418.41,92.49 L418.51,95.2 L418.62,97.87 L418.73,100.49 L418.83,103.04 L418.94,105.48 L419.05,107.81 L419.16,110 L419.26,112.03 L419.37,113.87 L419.48,115.53 L419.58,116.97 L419.69,118.19 L419.8,119.18 L419.91,119.93 L420.01,120.43 L420.12,120.68 L420.23,120.67 L420.34,120.4 L420.44,119.89 L420.55,119.12 L420.66,118.12 L420.76,116.88 L420.87,115.42 L420.98,113.76 L421.09,111.9 L421.19,109.86 L421.3,107.66 L421.41,105.32 L421.51,102.87 L421.62,100.32 L421.73,97.69 L421.84,95.02 L421.94,92.31 L422.05,89.6 L422.16,86.92 L422.26,84.28 L422.37,81.7 L422.48,79.22 L422.59,76.85 L422.69,74.61 L422.8,72.53 L422.91,70.62 L423.02,68.9 L423.12,67.39 L423.23,66.09 L423.34,65.02 L423.44,64.19 L423.55,63.61 L423.66,63.28 L423.77,63.2 L423.87,63.38 L423.98,63.81 L424.09,64.49 L424.19,65.42 L424.3,66.58 L424.41,67.97 L424.52,69.57 L424.62,71.36 L424.73,73.34 L424.84,75.49 L424.94,77.78 L425.05,80.2 L425.16,82.72 L425.27,85.33 L425.37,87.99 L425.48,90.69 L425.59,93.39 L425.7,96.09 L425.8,98.75 L425.91,101.35 L426.02,103.86 L426.12,106.27 L426.23,108.56 L426.34,110.69 L426.45,112.66 L426.55,114.45 L426.66,116.03 L426.77,117.4 L426.87,118.55 L426.98,119.46 L427.09,120.12 L427.2,120.54 L427.3,120.7 L427.41,120.61 L427.52,120.26 L427.62,119.66 L427.73,118.82 L427.84,117.73 L427.95,116.42 L428.05,114.89 L428.16,113.16 L428.27,111.23 L428.38,109.14 L428.48,106.9 L428.59,104.52 L428.7,102.03 L428.8,99.45 L428.91,96.8 L429.02,94.12 L429.13,91.41 L429.23,88.7 L429.34,86.03 L429.45,83.41 L429.55,80.86 L429.66,78.42 L429.77,76.09 L429.88,73.9 L429.98,71.87 L430.09,70.03 L430.2,68.37 L430.3,66.93 L430.41,65.71 L430.52,64.72 L430.63,63.97 L430.73,63.47 L430.84,63.22 L430.95,63.23 L431.06,63.5 L431.16,64.01 L431.27,64.78 L431.38,65.78 L431.48,67.02 L431.59,68.48 L431.7,70.14 L431.81,72 L431.91,74.04 L432.02,76.24 L432.13,78.58 L432.23,81.03 L432.34,83.58 L432.45,86.21 L432.56,88.88 L432.66,91.59 L432.77,94.3 L432.88,96.98 L432.98,99.62 L433.09,102.2 L433.2,104.68 L433.31,107.05 L433.41,109.29 L433.52,111.37 L433.63,113.28 L433.74,115 L433.84,116.51 L433.95,117.81 L434.06,118.88 L434.16,119.71 L434.27,120.29 L434.38,120.62 L434.49,120.7 L434.59,120.52 L434.7,120.09 L434.81,119.41 L434.91,118.48 L435.02,117.32 L435.13,115.93 L435.24,114.33 L435.34,112.54 L435.45,110.56 L435.56,108.41 L435.66,106.12 L435.77,103.7 L435.88,101.18 L435.99,98.57 L436.09,95.91 L436.2,93.21 L436.31,90.51 L436.42,87.81 L436.52,85.15 L436.63,82.55 L436.74,80.04 L436.84,77.63 L436.95,75.34 L437.06,73.21 L437.17,71.24 L437.27,69.45 L437.38,67.87 L437.49,66.5 L437.59,65.35 L437.7,64.44 L437.81,63.78 L437.92,63.36 L438.02,63.2 L438.13,63.29 L438.24,63.64 L438.34,64.24 L438.45,65.08 L438.56,66.17 L438.67,67.48 L438.77,69.01 L438.88,70.74 L438.99,72.67 L439.1,74.76 L439.2,77 L439.31,79.38 L439.42,81.87 L439.52,84.45 L439.63,87.1 L439.74,89.78 L439.85,92.49 L439.95,95.2 L440.06,97.87 L440.17,100.49 L440.27,103.04 L440.38,105.48 L440.49,107.81 L440.6,110 L440.7,112.03 L440.81,113.87 L440.92,115.53 L441.02,116.97 L441.13,118.19 L441.24,119.18 L441.35,119.93 L441.45,120.43 L441.56,120.68 L441.67,120.67 L441.78,120.4 L441.88,119.89 L441.99,119.12 L442.1,118.12 L442.2,116.88 L442.31,115.42 L442.42,113.76 L442.53,111.9 L442.63,109.86 L442.74,107.66 L442.85,105.32 L442.95,102.87 L443.06,100.32 L443.17,97.69 L443.28,95.02 L443.38,92.31 L443.49,89.6 L443.6,86.92 L443.7,84.28 L443.81,81.7 L443.92,79.22 L444.03,76.85 L444.13,74.61 L444.24,72.53 L444.35,70.62 L444.46,68.9 L444.56,67.39 L444.67,66.09 L444.78,65.02 L444.88,64.19 L444.99,63.61 L445.1,63.28 L445.21,63.2 L445.31,63.38 L445.42,63.81 L445.53,64.49 L445.63,65.42 L445.74,66.58 L445.85,67.97 L445.96,69.57 L446.06,71.36 L446.17,73.34 L446.28,75.49 L446.38,77.78 L446.49,80.2 L446.6,82.72 L446.71,85.33 L446.81,87.99 L446.92,90.69 L447.03,93.39 L447.14,96.09 L447.24,98.75 L447.35,101.35 L447.46,103.86 L447.56,106.27 L447.67,108.56 L447.78,110.69 L447.89,112.66 L447.99,114.45 L448.1,116.03 L448.21,117.4 L448.31,118.55 L448.42,119.46 L448.53,120.12 L448.64,120.54 L448.74,120.7 L448.85,120.61 L448.96,120.26 L449.06,119.66 L449.17,118.82 L449.28,117.73 L449.39,116.42 L449.49,114.89 L449.6,113.16 L449.71,111.23 L449.82,109.14 L449.92,106.9 L450.03,104.52 L450.14,102.03 L450.24,99.45 L450.35,96.8 L450.46,94.12 L450.57,91.41 L450.67,88.7 L450.78,86.03 L450.89,83.41 L450.99,80.86 L451.1,78.42 L451.21,76.09 L451.32,73.9 L451.42,71.87 L451.53,70.03 L451.64,68.37 L451.74,66.93 L451.85,65.71 L451.96,64.72 L452.07,63.97 L452.17,63.47 L452.28,63.22 L452.39,63.23 L452.5,63.5 L452.6,64.01 L452.71,64.78 L452.82,65.78 L452.92,67.02 L453.03,68.48 L453.14,70.14 L453.25,72 L453.35,74.04 L453.46,76.24 L453.57,78.58 L453.67,81.03 L453.78,83.58 L453.89,86.21 L454,88.88 L454.1,91.59 L454.21,94.3 L454.32,96.98 L454.42,99.62 L454.53,102.2 L454.64,104.68 L454.75,107.05 L454.85,109.29 L454.96,111.37 L455.07,113.28 L455.18,115 L455.28,116.51 L455.39,117.81 L455.5,118.88 L455.6,119.71 L455.71,120.29 L455.82,120.62 L455.93,120.7 L456.03,120.52 L456.14,120.09 L456.25,119.41 L456.35,118.48 L456.46,117.32 L456.57,115.93 L456.68,114.33 L456.78,112.54 L456.89,110.56 L457,108.41 L457.1,106.12 L457.21,103.7 L457.32,101.18 L457.43,98.57 L457.53,95.91 L457.64,93.21 L457.75,90.51 L457.86,87.81 L457.96,85.15 L458.07,82.55 L458.18,80.04 L458.28,77.63 L458.39,75.34 L458.5,73.21 L458.61,71.24 L458.71,69.45 L458.82,67.87 L458.93,66.5 L459.03,65.35 L459.14,64.44 L459.25,63.78 L459.36,63.36 L459.46,63.2 L459.57,63.29 L459.68,63.64 L459.78,64.24 L459.89,65.08 L460,66.17 L460.11,67.48 L460.21,69.01 L460.32,70.74 L460.43,72.67 L460.54,74.76 L460.64,77 L460.75,79.38 L460.86,81.87 L460.96,84.45 L461.07,87.1 L461.18,89.78 L461.29,92.49 L461.39,95.2 L461.5,97.87 L461.61,100.49 L461.71,103.04 L461.82,105.48 L461.93,107.81 L462.04,110 L462.14,112.03 L462.25,113.87 L462.36,115.53 L462.46,116.97 L462.57,118.19 L462.68,119.18 L462.79,119.93 L462.89,120.43 L463,120.68 L463.11,120.67 L463.22,120.4 L463.32,119.89 L463.43,119.12 L463.54,118.12 L463.64,116.88 L463.75,115.42 L463.86,113.76 L463.97,111.9 L464.07,109.86 L464.18,107.66 L464.29,105.32 L464.39,102.87 L464.5,100.32 L464.61,97.69 L464.72,95.02 L464.82,92.31 L464.93,89.6 L465.04,86.92 L465.14,84.28 L465.25,81.7 L465.36,79.22 L465.47,76.85 L465.57,74.61 L465.68,72.53 L465.79,70.62 L465.9,68.9 L466,67.39 L466.11,66.09 L466.22,65.02 L466.32,64.19 L466.43,63.61 L466.54,63.28 L466.65,63.2 L466.75,63.38 L466.86,63.81 L466.97,64.49 L467.07,65.42 L467.18,66.58 L467.29,67.97 L467.4,69.57 L467.5,71.36 L467.61,73.34 L467.72,75.49 L467.82,77.78 L467.93,80.2 L468.04,82.72 L468.15,85.33 L468.25,87.99 L468.36,90.69 L468.47,93.39 L468.58,96.09 L468.68,98.75 L468.79,101.35 L468.9,103.86 L469,106.27 L469.11,108.56 L469.22,110.69 L469.33,112.66 L469.43,114.45 L469.54,116.03 L469.65,117.4 L469.75,118.55 L469.86,119.46 L469.97,120.12 L470.08,120.54 L470.18,120.7 L470.29,120.61 L470.4,120.26 L470.5,119.66 L470.61,118.82 L470.72,117.73 L470.83,116.42 L470.93,114.89 L471.04,113.16 L471.15,111.23 L471.26,109.14 L471.36,106.9 L471.47,104.52 L471.58,102.03 L471.68,99.45 L471.79,96.8 L471.9,94.12 L472.01,91.41 L472.11,88.7 L472.22,86.03 L472.33,83.41 L472.43,80.86 L472.54,78.42 L472.65,76.09 L472.76,73.9 L472.86,71.87 L472.97,70.03 L473.08,68.37 L473.18,66.93 L473.29,65.71 L473.4,64.72 L473.51,63.97 L473.61,63.47 L473.72,63.22 L473.83,63.23 L473.94,63.5 L474.04,64.01 L474.15,64.78 L474.26,65.78 L474.36,67.02 L474.47,68.48 L474.58,70.14 L474.69,72 L474.79,74.04 L474.9,76.24 L475.01,78.58 L475.11,81.03 L475.22,83.58 L475.33,86.21 L475.44,88.88 L475.54,91.59 L475.65,94.3 L475.76,96.98 L475.86,99.62 L475.97,102.2 L476.08,104.68 L476.19,107.05 L476.29,109.29 L476.4,111.37 L476.51,113.28 L476.62,115 L476.72,116.51 L476.83,117.81 L476.94,118.88 L477.04,119.71 L477.15,120.29 L477.26,120.62 L477.37,120.7 L477.47,120.52 L477.58,120.09 L477.69,119.41 L477.79,118.48 L477.9,117.32 L478.01,115.93 L478.12,114.33 L478.22,112.54 L478.33,110.56 L478.44,108.41 L478.54,106.12 L478.65,103.7 L478.76,101.18 L478.87,98.57 L478.97,95.91 L479.08,93.21 L479.19,90.51 L479.3,87.81 L479.4,85.15 L479.51,82.55 L479.62,80.04 L479.72,77.63 L479.83,75.34 L479.94,73.21 L480.05,71.24 L480.15,69.45 L480.26,67.87 L480.37,66.5 L480.47,65.35 L480.58,64.44 L480.69,63.78 L480.8,63.36 L480.9,63.2 L481.01,63.29 L481.12,63.64 L481.22,64.24 L481.33,65.08 L481.44,66.17 L481.55,67.48 L481.65,69.01 L481.76,70.74 L481.87,72.67 L481.98,74.76 L482.08,77 L482.19,79.38 L482.3,81.87 L482.4,84.45 L482.51,87.1 L482.62,89.78 L482.73,92.49 L482.83,95.2 L482.94,97.87 L483.05,100.49 L483.15,103.04 L483.26,105.48 L483.37,107.81 L483.48,110 L483.58,112.03 L483.69,113.87 L483.8,115.53 L483.9,116.97 L484.01,118.19 L484.12,119.18 L484.23,119.93 L484.33,120.43 L484.44,120.68 L484.55,120.67 L484.66,120.4 L484.76,119.89 L484.87,119.12 L484.98,118.12 L485.08,116.88 L485.19,115.42 L485.3,113.76 L485.41,111.9 L485.51,109.86 L485.62,107.66 L485.73,105.32 L485.83,102.87 L485.94,100.32 L486.05,97.69 L486.16,95.02 L486.26,92.31 L486.37,89.6 L486.48,86.92 L486.58,84.28 L486.69,81.7 L486.8,79.22 L486.91,76.85 L487.01,74.61 L487.12,72.53 L487.23,70.62 L487.34,68.9 L487.44,67.39 L487.55,66.09 L487.66,65.02 L487.76,64.19 L487.87,63.61 L487.98,63.28 L488.09,63.2 L488.19,63.38 L488.3,63.81 L488.41,64.49 L488.51,65.42 L488.62,66.58 L488.73,67.97 L488.84,69.57 L488.94,71.36 L489.05,73.34 L489.16,75.49 L489.26,77.78 L489.37,80.2 L489.48,82.72 L489.59,85.33 L489.69,87.99 L489.8,90.69 L489.91,93.39 L490.02,96.09 L490.12,98.75 L490.23,101.35 L490.34,103.86 L490.44,106.27 L490.55,108.56 L490.66,110.69 L490.77,112.66 L490.87,114.45 L490.98,116.03 L491.09,117.4 L491.19,118.55 L491.3,119.46 L491.41,120.12 L491.52,120.54 L491.62,120.7 L491.73,120.61 L491.84,120.26 L491.94,119.66 L492.05,118.82 L492.16,117.73 L492.27,116.42 L492.37,114.89 L492.48,113.16 L492.59,111.23 L492.7,109.14 L492.8,106.9 L492.91,104.52 L493.02,102.03 L493.12,99.45 L493.23,96.8 L493.34,94.12 L493.45,91.41 L493.55,88.7 L493.66,86.03 L493.77,83.41 L493.87,80.86 L493.98,78.42 L494.09,76.09 L494.2,73.9 L494.3,71.87 L494.41,70.03 L494.52,68.37 L494.62,66.93 L494.73,65.71 L494.84,64.72 L494.95,63.97 L495.05,63.47 L495.16,63.22 L495.27,63.23 L495.38,63.5 L495.48,64.01 L495.59,64.78 L495.7,65.78 L495.8,67.02 L495.91,68.48 L496.02,70.14 L496.13,72 L496.23,74.04 L496.34,76.24 L496.45,78.58 L496.55,81.03 L496.66,83.58 L496.77,86.21 L496.88,88.88 L496.98,91.59 L497.09,94.3 L497.2,96.98 L497.3,99.62 L497.41,102.2 L497.52,104.68 L497.63,107.05 L497.73,109.29 L497.84,111.37 L497.95,113.28 L498.06,115 L498.16,116.51 L498.27,117.81 L498.38,118.88 L498.48,119.71 L498.59,120.29 L498.7,120.62 L498.81,120.7 L498.91,120.52 L499.02,120.09 L499.13,119.41 L499.23,118.48 L499.34,117.32 L499.45,115.93 L499.56,114.33 L499.66,112.54 L499.77,110.56 L499.88,108.41 L499.98,106.12 L500.09,103.7 L500.2,101.18 L500.31,98.57 L500.41,95.91 L500.52,93.21 L500.63,90.51 L500.74,87.81 L500.84,85.15 L500.95,82.55 L501.06,80.04 L501.16,77.63 L501.27,75.34 L501.38,73.21 L501.49,71.24 L501.59,69.45 L501.7,67.87 L501.81,66.5 L501.91,65.35 L502.02,64.44 L502.13,63.78 L502.24,63.36 L502.34,63.2 L502.45,63.29 L502.56,63.64 L502.66,64.24 L502.77,65.08 L502.88,66.17 L502.99,67.48 L503.09,69.01 L503.2,70.74 L503.31,72.67 L503.42,74.76 L503.52,77 L503.63,79.38 L503.74,81.87 L503.84,84.45 L503.95,87.1 L504.06,89.78 L504.17,92.49 L504.27,95.2 L504.38,97.87 L504.49,100.49 L504.59,103.04 L504.7,105.48 L504.81,107.81 L504.92,110 L505.02,112.03 L505.13,113.87 L505.24,115.53 L505.34,116.97 L505.45,118.19 L505.56,119.18 L505.67,119.93 L505.77,120.43 L505.88,120.68 L505.99,120.67 L506.1,120.4 L506.2,119.89 L506.31,119.12 L506.42,118.12 L506.52,116.88 L506.63,115.42 L506.74,113.76 L506.85,111.9 L506.95,109.86 L507.06,107.66 L507.17,105.32 L507.27,102.87 L507.38,100.32 L507.49,97.69 L507.6,95.02 L507.7,92.31 L507.81,89.6 L507.92,86.92 L508.02,84.28 L508.13,81.7 L508.24,79.22 L508.35,76.85 L508.45,74.61 L508.56,72.53 L508.67,70.62 L508.78,68.9 L508.88,67.39 L508.99,66.09 L509.1,65.02 L509.2,64.19 L509.31,63.61 L509.42,63.28 L509.53,63.2 L509.63,63.38 L509.74,63.81 L509.85,64.49 L509.95,65.42 L510.06,66.58 L510.17,67.97 L510.28,69.57 L510.38,71.36 L510.49,73.34 L510.6,75.49 L510.7,77.78 L510.81,80.2 L510.92,82.72 L511.03,85.33 L511.13,87.99 L511.24,90.69 L511.35,93.39 L511.46,96.09 L511.56,98.75 L511.67,101.35 L511.78,103.86 L511.88,106.27 L511.99,108.56 L512.1,110.69 L512.21,112.66 L512.31,114.45 L512.42,116.03 L512.53,117.4 L512.63,118.55 L512.74,119.46 L512.85,120.12 L512.96,120.54 L513.06,120.7 L513.17,120.61 L513.28,120.26 L513.38,119.66 L513.49,118.82 L513.6,117.73 L513.71,116.42 L513.81,114.89 L513.92,113.16 L514.03,111.23 L514.14,109.14 L514.24,106.9 L514.35,104.52 L514.46,102.03 L514.56,99.45 L514.67,96.8 L514.78,94.12 L514.89,91.41 L514.99,88.7 L515.1,86.03 L515.21,83.41 L515.31,80.86 L515.42,78.42 L515.53,76.09 L515.64,73.9 L515.74,71.87 L515.85,70.03 L515.96,68.37 L516.06,66.93 L516.17,65.71 L516.28,64.72 L516.39,63.97 L516.49,63.47 L516.6,63.22 L516.71,63.23 L516.82,63.5 L516.92,64.01 L517.03,64.78 L517.14,65.78 L517.24,67.02 L517.35,68.48 L517.46,70.14 L517.57,72 L517.67,74.04 L517.78,76.24 L517.89,78.58 L517.99,81.03 L518.1,83.58 L518.21,86.21 L518.32,88.88 L518.42,91.59 L518.53,94.3 L518.64,96.98 L518.74,99.62 L518.85,102.2 L518.96,104.68 L519.07,107.05 L519.17,109.29 L519.28,111.37 L519.39,113.28 L519.5,115 L519.6,116.51 L519.71,117.81 L519.82,118.88 L519.92,119.71 L520.03,120.29 L520.14,120.62 L520.25,120.7 L520.35,120.52 L520.46,120.09 L520.57,119.41 L520.67,118.48 L520.78,117.32 L520.89,115.93 L521,114.33 L521.1,112.54 L521.21,110.56 L521.32,108.41 L521.42,106.12 L521.53,103.7 L521.64,101.18 L521.75,98.57 L521.85,95.91 L521.96,93.21 L522.07,90.51 L522.18,87.81 L522.28,85.15 L522.39,82.55 L522.5,80.04 L522.6,77.63 L522.71,75.34 L522.82,73.21 L522.93,71.24 L523.03,69.45 L523.14,67.87 L523.25,66.5 L523.35,65.35 L523.46,64.44 L523.57,63.78 L523.68,63.36 L523.78,63.2 L523.89,63.29 L524,63.64 L524.1,64.24 L524.21,65.08 L524.32,66.17 L524.43,67.48 L524.53,69.01 L524.64,70.74 L524.75,72.67 L524.86,74.76 L524.96,77 L525.07,79.38 L525.18,81.87 L525.28,84.45 L525.39,87.1 L525.5,89.78 L525.61,92.49 L525.71,95.2 L525.82,97.87 L525.93,100.49 L526.03,103.04 L526.14,105.48 L526.25,107.81 L526.36,110 L526.46,112.03 L526.57,113.87 L526.68,115.53 L526.78,116.97 L526.89,118.19 L527,119.18 L527.11,119.93 L527.21,120.43 L527.32,120.68 L527.43,120.67 L527.54,120.4 L527.64,119.89 L527.75,119.12 L527.86,118.12 L527.96,116.88 L528.07,115.42 L528.18,113.76 L528.29,111.9 L528.39,109.86 L528.5,107.66 L528.61,105.32 L528.71,102.87 L528.82,100.32 L528.93,97.69 L529.04,95.02 L529.14,92.31 L529.25,89.6 L529.36,86.92 L529.46,84.28 L529.57,81.7 L529.68,79.22 L529.79,76.85 L529.89,74.61 L530,72.53 L530.11,70.62 L530.22,68.9 L530.32,67.39 L530.43,66.09 L530.54,65.02 L530.64,64.19 L530.75,63.61 L530.86,63.28 L530.97,63.2 L531.07,63.38 L531.18,63.81 L531.29,64.49 L531.39,65.42 L531.5,66.58 L531.61,67.97 L531.72,69.57 L531.82,71.36 L531.93,73.34 L532.04,75.49 L532.14,77.78 L532.25,80.2 L532.36,82.72 L532.47,85.33 L532.57,87.99 L532.68,90.69 L532.79,93.39 L532.9,96.09 L533,98.75 L533.11,101.35 L533.22,103.86 L533.32,106.27 L533.43,108.56 L533.54,110.69 L533.65,112.66 L533.75,114.45 L533.86,116.03 L533.97,117.4 L534.07,118.55 L534.18,119.46 L534.29,120.12 L534.4,120.54 L534.5,120.7 L534.61,120.61 L534.72,120.26 L534.82,119.66 L534.93,118.82 L535.04,117.73 L535.15,116.42 L535.25,114.89 L535.36,113.16 L535.47,111.23 L535.58,109.14 L535.68,106.9 L535.79,104.52 L535.9,102.03 L536,99.45 L536.11,96.8 L536.22,94.12 L536.33,91.41 L536.43,88.7 L536.54,86.03 L536.65,83.41 L536.75,80.86 L536.86,78.42 L536.97,76.09 L537.08,73.9 L537.18,71.87 L537.29,70.03 L537.4,68.37 L537.5,66.93 L537.61,65.71 L537.72,64.72 L537.83,63.97 L537.93,63.47 L538.04,63.22 L538.15,63.23 L538.26,63.5 L538.36,64.01 L538.47,64.78 L538.58,65.78 L538.68,67.02 L538.79,68.48 L538.9,70.14 L539.01,72 L539.11,74.04 L539.22,76.24 L539.33,78.58 L539.43,81.03 L539.54,83.58 L539.65,86.21 L539.76,88.88 L539.86,91.59 L539.97,94.3 L540.08,96.98 L540.18,99.62 L540.29,102.2 L540.4,104.68 L540.51,107.05 L540.61,109.29 L540.72,111.37 L540.83,113.28 L540.94,115 L541.04,116.51 L541.15,117.81 L541.26,118.88 L541.36,119.71 L541.47,120.29 L541.58,120.62 L541.69,120.7 L541.79,120.52 L541.9,120.09 L542.01,119.41 L542.11,118.48 L542.22,117.32 L542.33,115.93 L542.44,114.33 L542.54,112.54 L542.65,110.56 L542.76,108.41 L542.86,106.12 L542.97,103.7 L543.08,101.18 L543.19,98.57 L543.29,95.91 L543.4,93.21 L543.51,90.51 L543.62,87.81 L543.72,85.15 L543.83,82.55 L543.94,80.04 L544.04,77.63 L544.15,75.34 L544.26,73.21 L544.37,71.24 L544.47,69.45 L544.58,67.87 L544.69,66.5 L544.79,65.35 L544.9,64.44 L545.01,63.78 L545.12,63.36 L545.22,63.2 L545.33,63.29 L545.44,63.64 L545.54,64.24 L545.65,65.08 L545.76,66.17 L545.87,67.48 L545.97,69.01 L546.08,70.74 L546.19,72.67 L546.3,74.76 L546.4,77 L546.51,79.38 L546.62,81.87 L546.72,84.45 L546.83,87.1 L546.94,89.78 L547.05,92.49 L547.15,95.2 L547.26,97.87 L547.37,100.49 L547.47,103.04 L547.58,105.48 L547.69,107.81 L547.8,110 L547.9,112.03 L548.01,113.87 L548.12,115.53 L548.22,116.97 L548.33,118.19 L548.44,119.18 L548.55,119.93 L548.65,120.43 L548.76,120.68 L548.87,120.67 L548.98,120.4 L549.08,119.89 L549.19,119.12 L549.3,118.12 L549.4,116.88 L549.51,115.42 L549.62,113.76 L549.73,111.9 L549.83,109.86 L549.94,107.66 L550.05,105.32 L550.15,102.87 L550.26,100.32 L550.37,97.69 L550.48,95.02 L550.58,92.31 L550.69,89.6 L550.8,86.92 L550.9,84.28 L551.01,81.7 L551.12,79.22 L551.23,76.85 L551.33,74.61 L551.44,72.53 L551.55,70.62 L551.66,68.9 L551.76,67.39 L551.87,66.09 L551.98,65.02 L552.08,64.19 L552.19,63.61 L552.3,63.28 L552.41,63.2 L552.51,63.38 L552.62,63.81 L552.73,64.49 L552.83,65.42 L552.94,66.58 L553.05,67.97 L553.16,69.57 L553.26,71.36 L553.37,73.34 L553.48,75.49 L553.58,77.78 L553.69,80.2 L553.8,82.72 L553.91,85.33 L554.01,87.99 L554.12,90.69 L554.23,93.39 L554.34,96.09 L554.44,98.75 L554.55,101.35 L554.66,103.86 L554.76,106.27 L554.87,108.56 L554.98,110.69 L555.09,112.66 L555.19,114.45 L555.3,116.03 L555.41,117.4 L555.51,118.55 L555.62,119.46 L555.73,120.12 L555.84,120.54 L555.94,120.7 L556.05,120.61 L556.16,120.26 L556.26,119.66 L556.37,118.82 L556.48,117.73 L556.59,116.42 L556.69,114.89 L556.8,113.16 L556.91,111.23 L557.02,109.14 L557.12,106.9 L557.23,104.52 L557.34,102.03 L557.44,99.45 L557.55,96.8 L557.66,94.12 L557.77,91.41 L557.87,88.7 L557.98,86.03 L558.09,83.41 L558.19,80.86 L558.3,78.42 L558.41,76.09 L558.52,73.9 L558.62,71.87 L558.73,70.03 L558.84,68.37 L558.94,66.93 L559.05,65.71 L559.16,64.72 L559.27,63.97 L559.37,63.47 L559.48,63.22 L559.59,63.23 L559.7,63.5 L559.8,64.01 L559.91,64.78 L560.02,65.78 L560.12,67.02 L560.23,68.48 L560.34,70.14 L560.45,72 L560.55,74.04 L560.66,76.24 L560.77,78.58 L560.87,81.03 L560.98,83.58 L561.09,86.21 L561.2,88.88 L561.3,91.59 L561.41,94.3 L561.52,96.98 L561.62,99.62 L561.73,102.2 L561.84,104.68 L561.95,107.05 L562.05,109.29 L562.16,111.37 L562.27,113.28 L562.38,115 L562.48,116.51 L562.59,117.81 L562.7,118.88 L562.8,119.71 L562.91,120.29 L563.02,120.62 L563.13,120.7 L563.23,120.52 L563.34,120.09 L563.45,119.41 L563.55,118.48 L563.66,117.32 L563.77,115.93 L563.88,114.33 L563.98,112.54 L564.09,110.56 L564.2,108.41 L564.3,106.12 L564.41,103.7 L564.52,101.18 L564.63,98.57 L564.73,95.91 L564.84,93.21 L564.95,90.51 L565.06,87.81 L565.16,85.15 L565.27,82.55 L565.38,80.04 L565.48,77.63 L565.59,75.34 L565.7,73.21 L565.81,71.24 L565.91,69.45 L566.02,67.87 L566.13,66.5 L566.23,65.35 L566.34,64.44 L566.45,63.78 L566.56,63.36 L566.66,63.2 L566.77,63.29 L566.88,63.64 L566.98,64.24 L567.09,65.08 L567.2,66.17 L567.31,67.48 L567.41,69.01 L567.52,70.74 L567.63,72.67 L567.74,74.76 L567.84,77 L567.95,79.38 L568.06,81.87 L568.16,84.45 L568.27,87.1 L568.38,89.78 L568.49,92.49 L568.59,95.2 L568.7,97.87" fill="none" stroke="#33cc33" stroke-width="1.2"/>
<path d="M354.3,96.87 l0.9,1.5 l-1.8,0 z M354.3,98.87 l0.9,-1.5 l-1.8,0 z" fill="none" stroke="#33cc33" stroke-width="0.7"/>
<path d="M365.02,85.03 l0.9,1.5 l-1.8,0 z M365.02,87.03 l0.9,-1.5 l-1.8,0 z" fill="none" stroke="#33cc33" stroke-width="0.7"/>
<path d="M375.74,96.87 l0.9,1.5 l-1.8,0 z M375.74,98.87 l0.9,-1.5 l-1.8,0 z" fill="none" stroke="#33cc33" stroke-width="0.7"/>
<path d="M386.46,85.03 l0.9,1.5 l-1.8,0 z M386.46,87.03 l0.9,-1.5 l-1.8,0 z" fill="none" stroke="#33cc33" stroke-width="0.7"/>
<path d="M397.18,96.87 l0.9,1.5 l-1.8,0 z M397.18,98.87 l0.9,-1.5 l-1.8,0 z" fill="none" stroke="#33cc33" stroke-width="0.7"/>
<path d="M407.9,85.03 l0.9,1.5 l-1.8,0 z M407.9,87.03 l0.9,-1.5 l-1.8,0 z" fill="none" stroke="#33cc33" stroke-width="0.7"/>
<path d="M418.62,96.87 l0.9,1.5 l-1.8,0 z M418.62,98.87 l0.9,-1.5 l-1.8,0 z" fill="none" stroke="#33cc33" stroke-width="0.7"/>
<path d="M429.34,85.03 l0.9,1.5 l-1.8,0 z M429.34,87.03 l0.9,-1.5 l-1.8,0 z" fill="none" stroke="#33cc33" stroke-width="0.7"/>
<path d="M440.06,96.87 l0.9,1.5 l-1.8,0 z M440.06,98.87 l0.9,-1.5 l-1.8,0 z" fill="none" stroke="#33cc33" stroke-width="0.7"/>
<path d="M450.78,85.03 l0.9,1.5 l-1.8,0 z M450.78,87.03 l0.9,-1.5 l-1.8,0 z" fill="none" stroke="#33cc33" stroke-width="0.7"/>
<path d="M461.5,96.87 l0.9,1.5 l-1.8,0 z M461.5,98.87 l0.9,-1.5 l-1.8,0 z" fill="none" stroke="#33cc33" stroke-width="0.7"/>
<path d="M472.22,85.03 l0.9,1.5 l-1.8,0 z M472.22,87.03 l0.9,-1.5 l-1.8,0 z" fill="none" stroke="#33cc33" stroke-width="0.7"/>
<path d="M482.94,96.87 l0.9,1.5 l-1.8,0 z M482.94,98.87 l0.9,-1.5 l-1.8,0 z" fill="none" stroke="#33cc33" stroke-width="0.7"/>
<path d="M493.66,85.03 l0.9,1.5 l-1.8,0 z M493.66,87.03 l0.9,-1.5 l-1.8,0 z" fill="none" stroke="#33cc33" stroke-width="0.7"/>
<path d="M504.38,96.87 l0.9,1.5 l-1.8,0 z M504.38,98.87 l0.9,-1.5 l-1.8,0 z" fill="none" stroke="#33cc33" stroke-width="0.7"/>
<path d="M515.1,85.03 l0.9,1.5 l-1.8,0 z M515.1,87.03 l0.9,-1.5 l-1.8,0 z" fill="none" stroke="#33cc33" stroke-width="0.7"/>
<path d="M525.82,96.87 l0.9,1.5 l-1.8,0 z M525.82,98.87 l0.9,-1.5 l-1.8,0 z" fill="none" stroke="#33cc33" stroke-width="0.7"/>
<path d="M536.54,85.03 l0.9,1.5 l-1.8,0 z M536.54,87.03 l0.9,-1.5 l-1.8,0 z" fill="none" stroke="#33cc33" stroke-width="0.7"/>
<path d="M547.26,96.87 l0.9,1.5 l-1.8,0 z M547.26,98.87 l0.9,-1.5 l-1.8,0 z" fill="none" stroke="#33cc33" stroke-width="0.7"/>
<path d="M557.98,85.03 l0.9,1.5 l-1.8,0 z M557.98,87.03 l0.9,-1.5 l-1.8,0 z" fill="none" stroke="#33cc33" stroke-width="0.7"/>
<path d="M354.3,106.57 L354.41,105.59 L354.51,104.73 L354.62,103.99 L354.73,103.39 L354.84,102.93 L354.94,102.61 L355.05,102.44 L355.16,102.41 L355.26,102.54 L355.37,102.81 L355.48,103.22 L355.59,103.78 L355.69,104.47 L355.8,105.29 L355.91,106.23 L356.02,107.29 L356.12,108.45 L356.23,109.7 L356.34,111.04 L356.44,112.45 L356.55,113.92 L356.66,115.44 L356.77,116.98 L356.87,118.55 L356.98,120.12 L357.09,121.68 L357.19,123.21 L357.3,124.72 L357.41,126.17 L357.52,127.55 L357.62,128.87 L357.73,130.09 L357.84,131.22 L357.94,132.24 L358.05,133.14 L358.16,133.92 L358.27,134.56 L358.37,135.07 L358.48,135.44 L358.59,135.66 L358.7,135.73 L358.8,135.66 L358.91,135.44 L359.02,135.07 L359.12,134.56 L359.23,133.92 L359.34,133.14 L359.45,132.24 L359.55,131.22 L359.66,130.09 L359.77,128.87 L359.87,127.55 L359.98,126.17 L360.09,124.72 L360.2,123.21 L360.3,121.68 L360.41,120.12 L360.52,118.55 L360.62,116.98 L360.73,115.44 L360.84,113.92 L360.95,112.45 L361.05,111.04 L361.16,109.7 L361.27,108.45 L361.38,107.29 L361.48,106.23 L361.59,105.29 L361.7,104.47 L361.8,103.78 L361.91,103.22 L362.02,102.81 L362.13,102.54 L362.23,102.41 L362.34,102.44 L362.45,102.61 L362.55,102.93 L362.66,103.39 L362.77,103.99 L362.88,104.73 L362.98,105.59 L363.09,106.57 L363.2,107.66 L363.3,108.86 L363.41,110.14 L363.52,111.5 L363.63,112.94 L363.73,114.42 L363.84,115.95 L363.95,117.5 L364.06,119.07 L364.16,120.64 L364.27,122.19 L364.38,123.72 L364.48,125.2 L364.59,126.64 L364.7,128 L364.81,129.28 L364.91,130.48 L365.02,131.57 L365.13,132.55 L365.23,133.41 L365.34,134.15 L365.45,134.75 L365.56,135.21 L365.66,135.53 L365.77,135.7 L365.88,135.73 L365.98,135.6 L366.09,135.33 L366.2,134.92 L366.31,134.36 L366.41,133.67 L366.52,132.85 L366.63,131.91 L366.74,130.85 L366.84,129.69 L366.95,128.44 L367.06,127.1 L367.16,125.69 L367.27,124.22 L367.38,122.71 L367.49,121.16 L367.59,119.59 L367.7,118.02 L367.81,116.46 L367.91,114.93 L368.02,113.43 L368.13,111.97 L368.24,110.59 L368.34,109.28 L368.45,108.05 L368.56,106.92 L368.66,105.9 L368.77,105 L368.88,104.22 L368.99,103.58 L369.09,103.07 L369.2,102.7 L369.31,102.48 L369.42,102.41 L369.52,102.48 L369.63,102.7 L369.74,103.07 L369.84,103.58 L369.95,104.22 L370.06,105 L370.17,105.9 L370.27,106.92 L370.38,108.05 L370.49,109.28 L370.59,110.59 L370.7,111.97 L370.81,113.43 L370.92,114.93 L371.02,116.46 L371.13,118.02 L371.24,119.59 L371.34,121.16 L371.45,122.71 L371.56,124.22 L371.67,125.69 L371.77,127.1 L371.88,128.44 L371.99,129.69 L372.1,130.85 L372.2,131.91 L372.31,132.85 L372.42,133.67 L372.52,134.36 L372.63,134.92 L372.74,135.33 L372.85,135.6 L372.95,135.73 L373.06,135.7 L373.17,135.53 L373.27,135.21 L373.38,134.75 L373.49,134.15 L373.6,133.41 L373.7,132.55 L373.81,131.57 L373.92,130.48 L374.02,129.28 L374.13,128 L374.24,126.64 L374.35,125.2 L374.45,123.72 L374.56,122.19 L374.67,120.64 L374.78,119.07 L374.88,117.5 L374.99,115.95 L375.1,114.42 L375.2,112.94 L375.31,111.5 L375.42,110.14 L375.53,108.86 L375.63,107.66 L375.74,106.57 L375.85,105.59 L375.95,104.73 L376.06,103.99 L376.17,103.39 L376.28,102.93 L376.38,102.61 L376.49,102.44 L376.6,102.41 L376.7,102.54 L376.81,102.81 L376.92,103.22 L377.03,103.78 L377.13,104.47 L377.24,105.29 L377.35,106.23 L377.46,107.29 L377.56,108.45 L377.67,109.7 L377.78,111.04 L377.88,112.45 L377.99,113.92 L378.1,115.44 L378.21,116.98 L378.31,118.55 L378.42,120.12 L378.53,121.68 L378.63,123.21 L378.74,124.72 L378.85,126.17 L378.96,127.55 L379.06,128.87 L379.17,130.09 L379.28,131.22 L379.38,132.24 L379.49,133.14 L379.6,133.92 L379.71,134.56 L379.81,135.07 L379.92,135.44 L380.03,135.66 L380.14,135.73 L380.24,135.66 L380.35,135.44 L380.46,135.07 L380.56,134.56 L380.67,133.92 L380.78,133.14 L380.89,132.24 L380.99,131.22 L381.1,130.09 L381.21,128.87 L381.31,127.55 L381.42,126.17 L381.53,124.72 L381.64,123.21 L381.74,121.68 L381.85,120.12 L381.96,118.55 L382.06,116.98 L382.17,115.44 L382.28,113.92 L382.39,112.45 L382.49,111.04 L382.6,109.7 L382.71,108.45 L382.82,107.29 L382.92,106.23 L383.03,105.29 L383.14,104.47 L383.24,103.78 L383.35,103.22 L383.46,102.81 L383.57,102.54 L383.67,102.41 L383.78,102.44 L383.89,102.61 L383.99,102.93 L384.1,103.39 L384.21,103.99 L384.32,104.73 L384.42,105.59 L384.53,106.57 L384.64,107.66 L384.74,108.86 L384.85,110.14 L384.96,111.5 L385.07,112.94 L385.17,114.42 L385.28,115.95 L385.39,117.5 L385.5,119.07 L385.6,120.64 L385.71,122.19 L385.82,123.72 L385.92,125.2 L386.03,126.64 L386.14,128 L386.25,129.28 L386.35,130.48 L386.46,131.57 L386.57,132.55 L386.67,133.41 L386.78,134.15 L386.89,134.75 L387,135.21 L387.1,135.53 L387.21,135.7 L387.32,135.73 L387.42,135.6 L387.53,135.33 L387.64,134.92 L387.75,134.36 L387.85,133.67 L387.96,132.85 L388.07,131.91 L388.18,130.85 L388.28,129.69 L388.39,128.44 L388.5,127.1 L388.6,125.69 L388.71,124.22 L388.82,122.71 L388.93,121.16 L389.03,119.59 L389.14,118.02 L389.25,116.46 L389.35,114.93 L389.46,113.43 L389.57,111.97 L389.68,110.59 L389.78,109.28 L389.89,108.05 L390,106.92 L390.1,105.9 L390.21,105 L390.32,104.22 L390.43,103.58 L390.53,103.07 L390.64,102.7 L390.75,102.48 L390.86,102.41 L390.96,102.48 L391.07,102.7 L391.18,103.07 L391.28,103.58 L391.39,104.22 L391.5,105 L391.61,105.9 L391.71,106.92 L391.82,108.05 L391.93,109.28 L392.03,110.59 L392.14,111.97 L392.25,113.43 L392.36,114.93 L392.46,116.46 L392.57,118.02 L392.68,119.59 L392.78,121.16 L392.89,122.71 L393,124.22 L393.11,125.69 L393.21,127.1 L393.32,128.44 L393.43,129.69 L393.54,130.85 L393.64,131.91 L393.75,132.85 L393.86,133.67 L393.96,134.36 L394.07,134.92 L394.18,135.33 L394.29,135.6 L394.39,135.73 L394.5,135.7 L394.61,135.53 L394.71,135.21 L394.82,134.75 L394.93,134.15 L395.04,133.41 L395.14,132.55 L395.25,131.57 L395.36,130.48 L395.46,129.28 L395.57,128 L395.68,126.64 L395.79,125.2 L395.89,123.72 L396,122.19 L396.11,120.64 L396.22,119.07 L396.32,117.5 L396.43,115.95 L396.54,114.42 L396.64,112.94 L396.75,111.5 L396.86,110.14 L396.97,108.86 L397.07,107.66 L397.18,106.57 L397.29,105.59 L397.39,104.73 L397.5,103.99 L397.61,103.39 L397.72,102.93 L397.82,102.61 L397.93,102.44 L398.04,102.41 L398.14,102.54 L398.25,102.81 L398.36,103.22 L398.47,103.78 L398.57,104.47 L398.68,105.29 L398.79,106.23 L398.9,107.29 L399,108.45 L399.11,109.7 L399.22,111.04 L399.32,112.45 L399.43,113.92 L399.54,115.44 L399.65,116.98 L399.75,118.55 L399.86,120.12 L399.97,121.68 L400.07,123.21 L400.18,124.72 L400.29,126.17 L400.4,127.55 L400.5,128.87 L400.61,130.09 L400.72,131.22 L400.82,132.24 L400.93,133.14 L401.04,133.92 L401.15,134.56 L401.25,135.07 L401.36,135.44 L401.47,135.66 L401.58,135.73 L401.68,135.66 L401.79,135.44 L401.9,135.07 L402,134.56 L402.11,133.92 L402.22,133.14 L402.33,132.24 L402.43,131.22 L402.54,130.09 L402.65,128.87 L402.75,127.55 L402.86,126.17 L402.97,124.72 L403.08,123.21 L403.18,121.68 L403.29,120.12 L403.4,118.55 L403.5,116.98 L403.61,115.44 L403.72,113.92 L403.83,112.45 L403.93,111.04 L404.04,109.7 L404.15,108.45 L404.26,107.29 L404.36,106.23 L404.47,105.29 L404.58,104.47 L404.68,103.78 L404.79,103.22 L404.9,102.81 L405.01,102.54 L405.11,102.41 L405.22,102.44 L405.33,102.61 L405.43,102.93 L405.54,103.39 L405.65,103.99 L405.76,104.73 L405.86,105.59 L405.97,106.57 L406.08,107.66 L406.18,108.86 L406.29,110.14 L406.4,111.5 L406.51,112.94 L406.61,114.42 L406.72,115.95 L406.83,117.5 L406.94,119.07 L407.04,120.64 L407.15,122.19 L407.26,123.72 L407.36,125.2 L407.47,126.64 L407.58,128 L407.69,129.28 L407.79,130.48 L407.9,131.57 L408.01,132.55 L408.11,133.41 L408.22,134.15 L408.33,134.75 L408.44,135.21 L408.54,135.53 L408.65,135.7 L408.76,135.73 L408.86,135.6 L408.97,135.33 L409.08,134.92 L409.19,134.36 L409.29,133.67 L409.4,132.85 L409.51,131.91 L409.62,130.85 L409.72,129.69 L409.83,128.44 L409.94,127.1 L410.04,125.69 L410.15,124.22 L410.26,122.71 L410.37,121.16 L410.47,119.59 L410.58,118.02 L410.69,116.46 L410.79,114.93 L410.9,113.43 L411.01,111.97 L411.12,110.59 L411.22,109.28 L411.33,108.05 L411.44,106.92 L411.54,105.9 L411.65,105 L411.76,104.22 L411.87,103.58 L411.97,103.07 L412.08,102.7 L412.19,102.48 L412.3,102.41 L412.4,102.48 L412.51,102.7 L412.62,103.07 L412.72,103.58 L412.83,104.22 L412.94,105 L413.05,105.9 L413.15,106.92 L413.26,108.05 L413.37,109.28 L413.47,110.59 L413.58,111.97 L413.69,113.43 L413.8,114.93 L413.9,116.46 L414.01,118.02 L414.12,119.59 L414.22,121.16 L414.33,122.71 L414.44,124.22 L414.55,125.69 L414.65,127.1 L414.76,128.44 L414.87,129.69 L414.98,130.85 L415.08,131.91 L415.19,132.85 L415.3,133.67 L415.4,134.36 L415.51,134.92 L415.62,135.33 L415.73,135.6 L415.83,135.73 L415.94,135.7 L416.05,135.53 L416.15,135.21 L416.26,134.75 L416.37,134.15 L416.48,133.41 L416.58,132.55 L416.69,131.57 L416.8,130.48 L416.9,129.28 L417.01,128 L417.12,126.64 L417.23,125.2 L417.33,123.72 L417.44,122.19 L417.55,120.64 L417.66,119.07 L417.76,117.5 L417.87,115.95 L417.98,114.42 L418.08,112.94 L418.19,111.5 L418.3,110.14 L418.41,108.86 L418.51,107.66 L418.62,106.57 L418.73,105.59 L418.83,104.73 L418.94,103.99 L419.05,103.39 L419.16,102.93 L419.26,102.61 L419.37,102.44 L419.48,102.41 L419.58,102.54 L419.69,102.81 L419.8,103.22 L419.91,103.78 L420.01,104.47 L420.12,105.29 L420.23,106.23 L420.34,107.29 L420.44,108.45 L420.55,109.7 L420.66,111.04 L420.76,112.45 L420.87,113.92 L420.98,115.44 L421.09,116.98 L421.19,118.55 L421.3,120.12 L421.41,121.68 L421.51,123.21 L421.62,124.72 L421.73,126.17 L421.84,127.55 L421.94,128.87 L422.05,130.09 L422.16,131.22 L422.26,132.24 L422.37,133.14 L422.48,133.92 L422.59,134.56 L422.69,135.07 L422.8,135.44 L422.91,135.66 L423.02,135.73 L423.12,135.66 L423.23,135.44 L423.34,135.07 L423.44,134.56 L423.55,133.92 L423.66,133.14 L423.77,132.24 L423.87,131.22 L423.98,130.09 L424.09,128.87 L424.19,127.55 L424.3,126.17 L424.41,124.72 L424.52,123.21 L424.62,121.68 L424.73,120.12 L424.84,118.55 L424.94,116.98 L425.05,115.44 L425.16,113.92 L425.27,112.45 L425.37,111.04 L425.48,109.7 L425.59,108.45 L425.7,107.29 L425.8,106.23 L425.91,105.29 L426.02,104.47 L426.12,103.78 L426.23,103.22 L426.34,102.81 L426.45,102.54 L426.55,102.41 L426.66,102.44 L426.77,102.61 L426.87,102.93 L426.98,103.39 L427.09,103.99 L427.2,104.73 L427.3,105.59 L427.41,106.57 L427.52,107.66 L427.62,108.86 L427.73,110.14 L427.84,111.5 L427.95,112.94 L428.05,114.42 L428.16,115.95 L428.27,117.5 L428.38,119.07 L428.48,120.64 L428.59,122.19 L428.7,123.72 L428.8,125.2 L428.91,126.64 L429.02,128 L429.13,129.28 L429.23,130.48 L429.34,131.57 L429.45,132.55 L429.55,133.41 L429.66,134.15 L429.77,134.75 L429.88,135.21 L429.98,135.53 L430.09,135.7 L430.2,135.73 L430.3,135.6 L430.41,135.33 L430.52,134.92 L430.63,134.36 L430.73,133.67 L430.84,132.85 L430.95,131.91 L431.06,130.85 L431.16,129.69 L431.27,128.44 L431.38,127.1 L431.48,125.69 L431.59,124.22 L431.7,122.71 L431.81,121.16 L431.91,119.59 L432.02,118.02 L432.13,116.46 L432.23,114.93 L432.34,113.43 L432.45,111.97 L432.56,110.59 L432.66,109.28 L432.77,108.05 L432.88,106.92 L432.98,105.9 L433.09,105 L433.2,104.22 L433.31,103.58 L433.41,103.07 L433.52,102.7 L433.63,102.48 L433.74,102.41 L433.84,102.48 L433.95,102.7 L434.06,103.07 L434.16,103.58 L434.27,104.22 L434.38,105 L434.49,105.9 L434.59,106.92 L434.7,108.05 L434.81,109.28 L434.91,110.59 L435.02,111.97 L435.13,113.43 L435.24,114.93 L435.34,116.46 L435.45,118.02 L435.56,119.59 L435.66,121.16 L435.77,122.71 L435.88,124.22 L435.99,125.69 L436.09,127.1 L436.2,128.44 L436.31,129.69 L436.42,130.85 L436.52,131.91 L436.63,132.85 L436.74,133.67 L436.84,134.36 L436.95,134.92 L437.06,135.33 L437.17,135.6 L437.27,135.73 L437.38,135.7 L437.49,135.53 L437.59,135.21 L437.7,134.75 L437.81,134.15 L437.92,133.41 L438.02,132.55 L438.13,131.57 L438.24,130.48 L438.34,129.28 L438.45,128 L438.56,126.64 L438.67,125.2 L438.77,123.72 L438.88,122.19 L438.99,120.64 L439.1,119.07 L439.2,117.5 L439.31,115.95 L439.42,114.42 L439.52,112.94 L439.63,111.5 L439.74,110.14 L439.85,108.86 L439.95,107.66 L440.06,106.57 L440.17,105.59 L440.27,104.73 L440.38,103.99 L440.49,103.39 L440.6,102.93 L440.7,102.61 L440.81,102.44 L440.92,102.41 L441.02,102.54 L441.13,102.81 L441.24,103.22 L441.35,103.78 L441.45,104.47 L441.56,105.29 L441.67,106.23 L441.78,107.29 L441.88,108.45 L441.99,109.7 L442.1,111.04 L442.2,112.45 L442.31,113.92 L442.42,115.44 L442.53,116.98 L442.63,118.55 L442.74,120.12 L442.85,121.68 L442.95,123.21 L443.06,124.72 L443.17,126.17 L443.28,127.55 L443.38,128.87 L443.49,130.09 L443.6,131.22 L443.7,132.24 L443.81,133.14 L443.92,133.92 L444.03,134.56 L444.13,135.07 L444.24,135.44 L444.35,135.66 L444.46,135.73 L444.56,135.66 L444.67,135.44 L444.78,135.07 L444.88,134.56 L444.99,133.92 L445.1,133.14 L445.21,132.24 L445.31,131.22 L445.42,130.09 L445.53,128.87 L445.63,127.55 L445.74,126.17 L445.85,124.72 L445.96,123.21 L446.06,121.68 L446.17,120.12 L446.28,118.55 L446.38,116.98 L446.49,115.44 L446.6,113.92 L446.71,112.45 L446.81,111.04 L446.92,109.7 L447.03,108.45 L447.14,107.29 L447.24,106.23 L447.35,105.29 L447.46,104.47 L447.56,103.78 L447.67,103.22 L447.78,102.81 L447.89,102.54 L447.99,102.41 L448.1,102.44 L448.21,102.61 L448.31,102.93 L448.42,103.39 L448.53,103.99 L448.64,104.73 L448.74,105.59 L448.85,106.57 L448.96,107.66 L449.06,108.86 L449.17,110.14 L449.28,111.5 L449.39,112.94 L449.49,114.42 L449.6,115.95 L449.71,117.5 L449.82,119.07 L449.92,120.64 L450.03,122.19 L450.14,123.72 L450.24,125.2 L450.35,126.64 L450.46,128 L450.57,129.28 L450.67,130.48 L450.78,131.57 L450.89,132.55 L450.99,133.41 L451.1,134.15 L451.21,134.75 L451.32,135.21 L451.42,135.53 L451.53,135.7 L451.64,135.73 L451.74,135.6 L451.85,135.33 L451.96,134.92 L452.07,134.36 L452.17,133.67 L452.28,132.85 L452.39,131.91 L452.5,130.85 L452.6,129.69 L452.71,128.44 L452.82,127.1 L452.92,125.69 L453.03,124.22 L453.14,122.71 L453.25,121.16 L453.35,119.59 L453.46,118.02 L453.57,116.46 L453.67,114.93 L453.78,113.43 L453.89,111.97 L454,110.59 L454.1,109.28 L454.21,108.05 L454.32,106.92 L454.42,105.9 L454.53,105 L454.64,104.22 L454.75,103.58 L454.85,103.07 L454.96,102.7 L455.07,102.48 L455.18,102.41 L455.28,102.48 L455.39,102.7 L455.5,103.07 L455.6,103.58 L455.71,104.22 L455.82,105 L455.93,105.9 L456.03,106.92 L456.14,108.05 L456.25,109.28 L456.35,110.59 L456.46,111.97 L456.57,113.43 L456.68,114.93 L456.78,116.46 L456.89,118.02 L457,119.59 L457.1,121.16 L457.21,122.71 L457.32,124.22 L457.43,125.69 L457.53,127.1 L457.64,128.44 L457.75,129.69 L457.86,130.85 L457.96,131.91 L458.07,132.85 L458.18,133.67 L458.28,134.36 L458.39,134.92 L458.5,135.33 L458.61,135.6 L458.71,135.73 L458.82,135.7 L458.93,135.53 L459.03,135.21 L459.14,134.75 L459.25,134.15 L459.36,133.41 L459.46,132.55 L459.57,131.57 L459.68,130.48 L459.78,129.28 L459.89,128 L460,126.64 L460.11,125.2 L460.21,123.72 L460.32,122.19 L460.43,120.64 L460.54,119.07 L460.64,117.5 L460.75,115.95 L460.86,114.42 L460.96,112.94 L461.07,111.5 L461.18,110.14 L461.29,108.86 L461.39,107.66 L461.5,106.57 L461.61,105.59 L461.71,104.73 L461.82,103.99 L461.93,103.39 L462.04,102.93 L462.14,102.61 L462.25,102.44 L462.36,102.41 L462.46,102.54 L462.57,102.81 L462.68,103.22 L462.79,103.78 L462.89,104.47 L463,105.29 L463.11,106.23 L463.22,107.29 L463.32,108.45 L463.43,109.7 L463.54,111.04 L463.64,112.45 L463.75,113.92 L463.86,115.44 L463.97,116.98 L464.07,118.55 L464.18,120.12 L464.29,121.68 L464.39,123.21 L464.5,124.72 L464.61,126.17 L464.72,127.55 L464.82,128.87 L464.93,130.09 L465.04,131.22 L465.14,132.24 L465.25,133.14 L465.36,133.92 L465.47,134.56 L465.57,135.07 L465.68,135.44 L465.79,135.66 L465.9,135.73 L466,135.66 L466.11,135.44 L466.22,135.07 L466.32,134.56 L466.43,133.92 L466.54,133.14 L466.65,132.24 L466.75,131.22 L466.86,130.09 L466.97,128.87 L467.07,127.55 L467.18,126.17 L467.29,124.72 L467.4,123.21 L467.5,121.68 L467.61,120.12 L467.72,118.55 L467.82,116.98 L467.93,115.44 L468.04,113.92 L468.15,112.45 L468.25,111.04 L468.36,109.7 L468.47,108.45 L468.58,107.29 L468.68,106.23 L468.79,105.29 L468.9,104.47 L469,103.78 L469.11,103.22 L469.22,102.81 L469.33,102.54 L469.43,102.41 L469.54,102.44 L469.65,102.61 L469.75,102.93 L469.86,103.39 L469.97,103.99 L470.08,104.73 L470.18,105.59 L470.29,106.57 L470.4,107.66 L470.5,108.86 L470.61,110.14 L470.72,111.5 L470.83,112.94 L470.93,114.42 L471.04,115.95 L471.15,117.5 L471.26,119.07 L471.36,120.64 L471.47,122.19 L471.58,123.72 L471.68,125.2 L471.79,126.64 L471.9,128 L472.01,129.28 L472.11,130.48 L472.22,131.57 L472.33,132.55 L472.43,133.41 L472.54,134.15 L472.65,134.75 L472.76,135.21 L472.86,135.53 L472.97,135.7 L473.08,135.73 L473.18,135.6 L473.29,135.33 L473.4,134.92 L473.51,134.36 L473.61,133.67 L473.72,132.85 L473.83,131.91 L473.94,130.85 L474.04,129.69 L474.15,128.44 L474.26,127.1 L474.36,125.69 L474.47,124.22 L474.58,122.71 L474.69,121.16 L474.79,119.59 L474.9,118.02 L475.01,116.46 L475.11,114.93 L475.22,113.43 L475.33,111.97 L475.44,110.59 L475.54,109.28 L475.65,108.05 L475.76,106.92 L475.86,105.9 L475.97,105 L476.08,104.22 L476.19,103.58 L476.29,103.07 L476.4,102.7 L476.51,102.48 L476.62,102.41 L476.72,102.48 L476.83,102.7 L476.94,103.07 L477.04,103.58 L477.15,104.22 L477.26,105 L477.37,105.9 L477.47,106.92 L477.58,108.05 L477.69,109.28 L477.79,110.59 L477.9,111.97 L478.01,113.43 L478.12,114.93 L478.22,116.46 L478.33,118.02 L478.44,119.59 L478.54,121.16 L478.65,122.71 L478.76,124.22 L478.87,125.69 L478.97,127.1 L479.08,128.44 L479.19,129.69 L479.3,130.85 L479.4,131.91 L479.51,132.85 L479.62,133.67 L479.72,134.36 L479.83,134.92 L479.94,135.33 L480.05,135.6 L480.15,135.73 L480.26,135.7 L480.37,135.53 L480.47,135.21 L480.58,134.75 L480.69,134.15 L480.8,133.41 L480.9,132.55 L481.01,131.57 L481.12,130.48 L481.22,129.28 L481.33,128 L481.44,126.64 L481.55,125.2 L481.65,123.72 L481.76,122.19 L481.87,120.64 L481.98,119.07 L482.08,117.5 L482.19,115.95 L482.3,114.42 L482.4,112.94 L482.51,111.5 L482.62,110.14 L482.73,108.86 L482.83,107.66 L482.94,106.57 L483.05,105.59 L483.15,104.73 L483.26,103.99 L483.37,103.39 L483.48,102.93 L483.58,102.61 L483.69,102.44 L483.8,102.41 L483.9,102.54 L484.01,102.81 L484.12,103.22 L484.23,103.78 L484.33,104.47 L484.44,105.29 L484.55,106.23 L484.66,107.29 L484.76,108.45 L484.87,109.7 L484.98,111.04 L485.08,112.45 L485.19,113.92 L485.3,115.44 L485.41,116.98 L485.51,118.55 L485.62,120.12 L485.73,121.68 L485.83,123.21 L485.94,124.72 L486.05,126.17 L486.16,127.55 L486.26,128.87 L486.37,130.09 L486.48,131.22 L486.58,132.24 L486.69,133.14 L486.8,133.92 L486.91,134.56 L487.01,135.07 L487.12,135.44 L487.23,135.66 L487.34,135.73 L487.44,135.66 L487.55,135.44 L487.66,135.07 L487.76,134.56 L487.87,133.92 L487.98,133.14 L488.09,132.24 L488.19,131.22 L488.3,130.09 L488.41,128.87 L488.51,127.55 L488.62,126.17 L488.73,124.72 L488.84,123.21 L488.94,121.68 L489.05,120.12 L489.16,118.55 L489.26,116.98 L489.37,115.44 L489.48,113.92 L489.59,112.45 L489.69,111.04 L489.8,109.7 L489.91,108.45 L490.02,107.29 L490.12,106.23 L490.23,105.29 L490.34,104.47 L490.44,103.78 L490.55,103.22 L490.66,102.81 L490.77,102.54 L490.87,102.41 L490.98,102.44 L491.09,102.61 L491.19,102.93 L491.3,103.39 L491.41,103.99 L491.52,104.73 L491.62,105.59 L491.73,106.57 L491.84,107.66 L491.94,108.86 L492.05,110.14 L492.16,111.5 L492.27,112.94 L492.37,114.42 L492.48,115.95 L492.59,117.5 L492.7,119.07 L492.8,120.64 L492.91,122.19 L493.02,123.72 L493.12,125.2 L493.23,126.64 L493.34,128 L493.45,129.28 L493.55,130.48 L493.66,131.57 L493.77,132.55 L493.87,133.41 L493.98,134.15 L494.09,134.75 L494.2,135.21 L494.3,135.53 L494.41,135.7 L494.52,135.73 L494.62,135.6 L494.73,135.33 L494.84,134.92 L494.95,134.36 L495.05,133.67 L495.16,132.85 L495.27,131.91 L495.38,130.85 L495.48,129.69 L495.59,128.44 L495.7,127.1 L495.8,125.69 L495.91,124.22 L496.02,122.71 L496.13,121.16 L496.23,119.59 L496.34,118.02 L496.45,116.46 L496.55,114.93 L496.66,113.43 L496.77,111.97 L496.88,110.59 L496.98,109.28 L497.09,108.05 L497.2,106.92 L497.3,105.9 L497.41,105 L497.52,104.22 L497.63,103.58 L497.73,103.07 L497.84,102.7 L497.95,102.48 L498.06,102.41 L498.16,102.48 L498.27,102.7 L498.38,103.07 L498.48,103.58 L498.59,104.22 L498.7,105 L498.81,105.9 L498.91,106.92 L499.02,108.05 L499.13,109.28 L499.23,110.59 L499.34,111.97 L499.45,113.43 L499.56,114.93 L499.66,116.46 L499.77,118.02 L499.88,119.59 L499.98,121.16 L500.09,122.71 L500.2,124.22 L500.31,125.69 L500.41,127.1 L500.52,128.44 L500.63,129.69 L500.74,130.85 L500.84,131.91 L500.95,132.85 L501.06,133.67 L501.16,134.36 L501.27,134.92 L501.38,135.33 L501.49,135.6 L501.59,135.73 L501.7,135.7 L501.81,135.53 L501.91,135.21 L502.02,134.75 L502.13,134.15 L502.24,133.41 L502.34,132.55 L502.45,131.57 L502.56,130.48 L502.66,129.28 L502.77,128 L502.88,126.64 L502.99,125.2 L503.09,123.72 L503.2,122.19 L503.31,120.64 L503.42,119.07 L503.52,117.5 L503.63,115.95 L503.74,114.42 L503.84,112.94 L503.95,111.5 L504.06,110.14 L504.17,108.86 L504.27,107.66 L504.38,106.57 L504.49,105.59 L504.59,104.73 L504.7,103.99 L504.81,103.39 L504.92,102.93 L505.02,102.61 L505.13,102.44 L505.24,102.41 L505.34,102.54 L505.45,102.81 L505.56,103.22 L505.67,103.78 L505.77,104.47 L505.88,105.29 L505.99,106.23 L506.1,107.29 L506.2,108.45 L506.31,109.7 L506.42,111.04 L506.52,112.45 L506.63,113.92 L506.74,115.44 L506.85,116.98 L506.95,118.55 L507.06,120.12 L507.17,121.68 L507.27,123.21 L507.38,124.72 L507.49,126.17 L507.6,127.55 L507.7,128.87 L507.81,130.09 L507.92,131.22 L508.02,132.24 L508.13,133.14 L508.24,133.92 L508.35,134.56 L508.45,135.07 L508.56,135.44 L508.67,135.66 L508.78,135.73 L508.88,135.66 L508.99,135.44 L509.1,135.07 L509.2,134.56 L509.31,133.92 L509.42,133.14 L509.53,132.24 L509.63,131.22 L509.74,130.09 L509.85,128.87 L509.95,127.55 L510.06,126.17 L510.17,124.72 L510.28,123.21 L510.38,121.68 L510.49,120.12 L510.6,118.55 L510.7,116.98 L510.81,115.44 L510.92,113.92 L511.03,112.45 L511.13,111.04 L511.24,109.7 L511.35,108.45 L511.46,107.29 L511.56,106.23 L511.67,105.29 L511.78,104.47 L511.88,103.78 L511.99,103.22 L512.1,102.81 L512.21,102.54 L512.31,102.41 L512.42,102.44 L512.53,102.61 L512.63,102.93 L512.74,103.39 L512.85,103.99 L512.96,104.73 L513.06,105.59 L513.17,106.57 L513.28,107.66 L513.38,108.86 L513.49,110.14 L513.6,111.5 L513.71,112.94 L513.81,114.42 L513.92,115.95 L514.03,117.5 L514.14,119.07 L514.24,120.64 L514.35,122.19 L514.46,123.72 L514.56,125.2 L514.67,126.64 L514.78,128 L514.89,129.28 L514.99,130.48 L515.1,131.57 L515.21,132.55 L515.31,133.41 L515.42,134.15 L515.53,134.75 L515.64,135.21 L515.74,135.53 L515.85,135.7 L515.96,135.73 L516.06,135.6 L516.17,135.33 L516.28,134.92 L516.39,134.36 L516.49,133.67 L516.6,132.85 L516.71,131.91 L516.82,130.85 L516.92,129.69 L517.03,128.44 L517.14,127.1 L517.24,125.69 L517.35,124.22 L517.46,122.71 L517.57,121.16 L517.67,119.59 L517.78,118.02 L517.89,116.46 L517.99,114.93 L518.1,113.43 L518.21,111.97 L518.32,110.59 L518.42,109.28 L518.53,108.05 L518.64,106.92 L518.74,105.9 L518.85,105 L518.96,104.22 L519.07,103.58 L519.17,103.07 L519.28,102.7 L519.39,102.48 L519.5,102.41 L519.6,102.48 L519.71,102.7 L519.82,103.07 L519.92,103.58 L520.03,104.22 L520.14,105 L520.25,105.9 L520.35,106.92 L520.46,108.05 L520.57,109.28 L520.67,110.59 L520.78,111.97 L520.89,113.43 L521,114.93 L521.1,116.46 L521.21,118.02 L521.32,119.59 L521.42,121.16 L521.53,122.71 L521.64,124.22 L521.75,125.69 L521.85,127.1 L521.96,128.44 L522.07,129.69 L522.18,130.85 L522.28,131.91 L522.39,132.85 L522.5,133.67 L522.6,134.36 L522.71,134.92 L522.82,135.33 L522.93,135.6 L523.03,135.73 L523.14,135.7 L523.25,135.53 L523.35,135.21 L523.46,134.75 L523.57,134.15 L523.68,133.41 L523.78,132.55 L523.89,131.57 L524,130.48 L524.1,129.28 L524.21,128 L524.32,126.64 L524.43,125.2 L524.53,123.72 L524.64,122.19 L524.75,120.64 L524.86,119.07 L524.96,117.5 L525.07,115.95 L525.18,114.42 L525.28,112.94 L525.39,111.5 L525.5,110.14 L525.61,108.86 L525.71,107.66 L525.82,106.57 L525.93,105.59 L526.03,104.73 L526.14,103.99 L526.25,103.39 L526.36,102.93 L526.46,102.61 L526.57,102.44 L526.68,102.41 L526.78,102.54 L526.89,102.81 L527,103.22 L527.11,103.78 L527.21,104.47 L527.32,105.29 L527.43,106.23 L527.54,107.29 L527.64,108.45 L527.75,109.7 L527.86,111.04 L527.96,112.45 L528.07,113.92 L528.18,115.44 L528.29,116.98 L528.39,118.55 L528.5,120.12 L528.61,121.68 L528.71,123.21 L528.82,124.72 L528.93,126.17 L529.04,127.55 L529.14,128.87 L529.25,130.09 L529.36,131.22 L529.46,132.24 L529.57,133.14 L529.68,133.92 L529.79,134.56 L529.89,135.07 L530,135.44 L530.11,135.66 L530.22,135.73 L530.32,135.66 L530.43,135.44 L530.54,135.07 L530.64,134.56 L530.75,133.92 L530.86,133.14 L530.97,132.24 L531.07,131.22 L531.18,130.09 L531.29,128.87 L531.39,127.55 L531.5,126.17 L531.61,124.72 L531.72,123.21 L531.82,121.68 L531.93,120.12 L532.04,118.55 L532.14,116.98 L532.25,115.44 L532.36,113.92 L532.47,112.45 L532.57,111.04 L532.68,109.7 L532.79,108.45 L532.9,107.29 L533,106.23 L533.11,105.29 L533.22,104.47 L533.32,103.78 L533.43,103.22 L533.54,102.81 L533.65,102.54 L533.75,102.41 L533.86,102.44 L533.97,102.61 L534.07,102.93 L534.18,103.39 L534.29,103.99 L534.4,104.73 L534.5,105.59 L534.61,106.57 L534.72,107.66 L534.82,108.86 L534.93,110.14 L535.04,111.5 L535.15,112.94 L535.25,114.42 L535.36,115.95 L535.47,117.5 L535.58,119.07 L535.68,120.64 L535.79,122.19 L535.9,123.72 L536,125.2 L536.11,126.64 L536.22,128 L536.33,129.28 L536.43,130.48 L536.54,131.57 L536.65,132.55 L536.75,133.41 L536.86,134.15 L536.97,134.75 L537.08,135.21 L537.18,135.53 L537.29,135.7 L537.4,135.73 L537.5,135.6 L537.61,135.33 L537.72,134.92 L537.83,134.36 L537.93,133.67 L538.04,132.85 L538.15,131.91 L538.26,130.85 L538.36,129.69 L538.47,128.44 L538.58,127.1 L538.68,125.69 L538.79,124.22 L538.9,122.71 L539.01,121.16 L539.11,119.59 L539.22,118.02 L539.33,116.46 L539.43,114.93 L539.54,113.43 L539.65,111.97 L539.76,110.59 L539.86,109.28 L539.97,108.05 L540.08,106.92 L540.18,105.9 L540.29,105 L540.4,104.22 L540.51,103.58 L540.61,103.07 L540.72,102.7 L540.83,102.48 L540.94,102.41 L541.04,102.48 L541.15,102.7 L541.26,103.07 L541.36,103.58 L541.47,104.22 L541.58,105 L541.69,105.9 L541.79,106.92 L541.9,108.05 L542.01,109.28 L542.11,110.59 L542.22,111.97 L542.33,113.43 L542.44,114.93 L542.54,116.46 L542.65,118.02 L542.76,119.59 L542.86,121.16 L542.97,122.71 L543.08,124.22 L543.19,125.69 L543.29,127.1 L543.4,128.44 L543.51,129.69 L543.62,130.85 L543.72,131.91 L543.83,132.85 L543.94,133.67 L544.04,134.36 L544.15,134.92 L544.26,135.33 L544.37,135.6 L544.47,135.73 L544.58,135.7 L544.69,135.53 L544.79,135.21 L544.9,134.75 L545.01,134.15 L545.12,133.41 L545.22,132.55 L545.33,131.57 L545.44,130.48 L545.54,129.28 L545.65,128 L545.76,126.64 L545.87,125.2 L545.97,123.72 L546.08,122.19 L546.19,120.64 L546.3,119.07 L546.4,117.5 L546.51,115.95 L546.62,114.42 L546.72,112.94 L546.83,111.5 L546.94,110.14 L547.05,108.86 L547.15,107.66 L547.26,106.57 L547.37,105.59 L547.47,104.73 L547.58,103.99 L547.69,103.39 L547.8,102.93 L547.9,102.61 L548.01,102.44 L548.12,102.41 L548.22,102.54 L548.33,102.81 L548.44,103.22 L548.55,103.78 L548.65,104.47 L548.76,105.29 L548.87,106.23 L548.98,107.29 L549.08,108.45 L549.19,109.7 L549.3,111.04 L549.4,112.45 L549.51,113.92 L549.62,115.44 L549.73,116.98 L549.83,118.55 L549.94,120.12 L550.05,121.68 L550.15,123.21 L550.26,124.72 L550.37,126.17 L550.48,127.55 L550.58,128.87 L550.69,130.09 L550.8,131.22 L550.9,132.24 L551.01,133.14 L551.12,133.92 L551.23,134.56 L551.33,135.07 L551.44,135.44 L551.55,135.66 L551.66,135.73 L551.76,135.66 L551.87,135.44 L551.98,135.07 L552.08,134.56 L552.19,133.92 L552.3,133.14 L552.41,132.24 L552.51,131.22 L552.62,130.09 L552.73,128.87 L552.83,127.55 L552.94,126.17 L553.05,124.72 L553.16,123.21 L553.26,121.68 L553.37,120.12 L553.48,118.55 L553.58,116.98 L553.69,115.44 L553.8,113.92 L553.91,112.45 L554.01,111.04 L554.12,109.7 L554.23,108.45 L554.34,107.29 L554.44,106.23 L554.55,105.29 L554.66,104.47 L554.76,103.78 L554.87,103.22 L554.98,102.81 L555.09,102.54 L555.19,102.41 L555.3,102.44 L555.41,102.61 L555.51,102.93 L555.62,103.39 L555.73,103.99 L555.84,104.73 L555.94,105.59 L556.05,106.57 L556.16,107.66 L556.26,108.86 L556.37,110.14 L556.48,111.5 L556.59,112.94 L556.69,114.42 L556.8,115.95 L556.91,117.5 L557.02,119.07 L557.12,120.64 L557.23,122.19 L557.34,123.72 L557.44,125.2 L557.55,126.64 L557.66,128 L557.77,129.28 L557.87,130.48 L557.98,131.57 L558.09,132.55 L558.19,133.41 L558.3,134.15 L558.41,134.75 L558.52,135.21 L558.62,135.53 L558.73,135.7 L558.84,135.73 L558.94,135.6 L559.05,135.33 L559.16,134.92 L559.27,134.36 L559.37,133.67 L559.48,132.85 L559.59,131.91 L559.7,130.85 L559.8,129.69 L559.91,128.44 L560.02,127.1 L560.12,125.69 L560.23,124.22 L560.34,122.71 L560.45,121.16 L560.55,119.59 L560.66,118.02 L560.77,116.46 L560.87,114.93 L560.98,113.43 L561.09,111.97 L561.2,110.59 L561.3,109.28 L561.41,108.05 L561.52,106.92 L561.62,105.9 L561.73,105 L561.84,104.22 L561.95,103.58 L562.05,103.07 L562.16,102.7 L562.27,102.48 L562.38,102.41 L562.48,102.48 L562.59,102.7 L562.7,103.07 L562.8,103.58 L562.91,104.22 L563.02,105 L563.13,105.9 L563.23,106.92 L563.34,108.05 L563.45,109.28 L563.55,110.59 L563.66,111.97 L563.77,113.43 L563.88,114.93 L563.98,116.46 L564.09,118.02 L564.2,119.59 L564.3,121.16 L564.41,122.71 L564.52,124.22 L564.63,125.69 L564.73,127.1 L564.84,128.44 L564.95,129.69 L565.06,130.85 L565.16,131.91 L565.27,132.85 L565.38,133.67 L565.48,134.36 L565.59,134.92 L565.7,135.33 L565.81,135.6 L565.91,135.73 L566.02,135.7 L566.13,135.53 L566.23,135.21 L566.34,134.75 L566.45,134.15 L566.56,133.41 L566.66,132.55 L566.77,131.57 L566.88,130.48 L566.98,129.28 L567.09,128 L567.2,126.64 L567.31,125.2 L567.41,123.72 L567.52,122.19 L567.63,120.64 L567.74,119.07 L567.84,117.5 L567.95,115.95 L568.06,114.42 L568.16,112.94 L568.27,111.5 L568.38,110.14 L568.49,108.86 L568.59,107.66 L568.7,106.57" fill="none" stroke="#ff0000" stroke-width="1.2"/>
<rect x="352.6" y="104.87" width="3.4" height="3.4" fill="#fff" stroke="#ff0000" stroke-width="0.8"/>
<rect x="361.18" y="103.03" width="3.4" height="3.4" fill="#fff" stroke="#ff0000" stroke-width="0.8"/>
<rect x="369.75" y="121.01" width="3.4" height="3.4" fill="#fff" stroke="#ff0000" stroke-width="0.8"/>
<rect x="378.33" y="133.96" width="3.4" height="3.4" fill="#fff" stroke="#ff0000" stroke-width="0.8"/>
<rect x="386.9" y="123.99" width="3.4" height="3.4" fill="#fff" stroke="#ff0000" stroke-width="0.8"/>
<rect x="395.48" y="104.87" width="3.4" height="3.4" fill="#fff" stroke="#ff0000" stroke-width="0.8"/>
<rect x="404.06" y="103.03" width="3.4" height="3.4" fill="#fff" stroke="#ff0000" stroke-width="0.8"/>
<rect x="412.63" y="121.01" width="3.4" height="3.4" fill="#fff" stroke="#ff0000" stroke-width="0.8"/>
<rect x="421.21" y="133.96" width="3.4" height="3.4" fill="#fff" stroke="#ff0000" stroke-width="0.8"/>
<rect x="429.78" y="123.99" width="3.4" height="3.4" fill="#fff" stroke="#ff0000" stroke-width="0.8"/>
<rect x="438.36" y="104.87" width="3.4" height="3.4" fill="#fff" stroke="#ff0000" stroke-width="0.8"/>
<rect x="446.94" y="103.03" width="3.4" height="3.4" fill="#fff" stroke="#ff0000" stroke-width="0.8"/>
<rect x="455.51" y="121.01" width="3.4" height="3.4" fill="#fff" stroke="#ff0000" stroke-width="0.8"/>
<rect x="464.09" y="133.96" width="3.4" height="3.4" fill="#fff" stroke="#ff0000" stroke-width="0.8"/>
<rect x="472.66" y="123.99" width="3.4" height="3.4" fill="#fff" stroke="#ff0000" stroke-width="0.8"/>
<rect x="481.24" y="104.87" width="3.4" height="3.4" fill="#fff" stroke="#ff0000" stroke-width="0.8"/>
<rect x="489.82" y="103.03" width="3.4" height="3.4" fill="#fff" stroke="#ff0000" stroke-width="0.8"/>
<rect x="498.39" y="121.01" width="3.4" height="3.4" fill="#fff" stroke="#ff0000" stroke-width="0.8"/>
<rect x="506.97" y="133.96" width="3.4" height="3.4" fill="#fff" stroke="#ff0000" stroke-width="0.8"/>
<rect x="515.54" y="123.99" width="3.4" height="3.4" fill="#fff" stroke="#ff0000" stroke-width="0.8"/>
<rect x="524.12" y="104.87" width="3.4" height="3.4" fill="#fff" stroke="#ff0000" stroke-width="0.8"/>
<rect x="532.7" y="103.03" width="3.4" height="3.4" fill="#fff" stroke="#ff0000" stroke-width="0.8"/>
<rect x="541.27" y="121.01" width="3.4" height="3.4" fill="#fff" stroke="#ff0000" stroke-width="0.8"/>
<rect x="549.85" y="133.96" width="3.4" height="3.4" fill="#fff" stroke="#ff0000" stroke-width="0.8"/>
<rect x="558.42" y="123.99" width="3.4" height="3.4" fill="#fff" stroke="#ff0000" stroke-width="0.8"/>
<path d="M354.3,77.33 L354.41,78.31 L354.51,79.17 L354.62,79.91 L354.73,80.51 L354.84,80.97 L354.94,81.29 L355.05,81.46 L355.16,81.49 L355.26,81.36 L355.37,81.09 L355.48,80.68 L355.59,80.12 L355.69,79.43 L355.8,78.61 L355.91,77.67 L356.02,76.61 L356.12,75.45 L356.23,74.2 L356.34,72.86 L356.44,71.45 L356.55,69.98 L356.66,68.46 L356.77,66.92 L356.87,65.35 L356.98,63.78 L357.09,62.22 L357.19,60.69 L357.3,59.18 L357.41,57.73 L357.52,56.35 L357.62,55.03 L357.73,53.81 L357.84,52.68 L357.94,51.66 L358.05,50.76 L358.16,49.98 L358.27,49.34 L358.37,48.83 L358.48,48.46 L358.59,48.24 L358.7,48.17 L358.8,48.24 L358.91,48.46 L359.02,48.83 L359.12,49.34 L359.23,49.98 L359.34,50.76 L359.45,51.66 L359.55,52.68 L359.66,53.81 L359.77,55.03 L359.87,56.35 L359.98,57.73 L360.09,59.18 L360.2,60.69 L360.3,62.22 L360.41,63.78 L360.52,65.35 L360.62,66.92 L360.73,68.46 L360.84,69.98 L360.95,71.45 L361.05,72.86 L361.16,74.2 L361.27,75.45 L361.38,76.61 L361.48,77.67 L361.59,78.61 L361.7,79.43 L361.8,80.12 L361.91,80.68 L362.02,81.09 L362.13,81.36 L362.23,81.49 L362.34,81.46 L362.45,81.29 L362.55,80.97 L362.66,80.51 L362.77,79.91 L362.88,79.17 L362.98,78.31 L363.09,77.33 L363.2,76.24 L363.3,75.04 L363.41,73.76 L363.52,72.4 L363.63,70.96 L363.73,69.48 L363.84,67.95 L363.95,66.4 L364.06,64.83 L364.16,63.26 L364.27,61.71 L364.38,60.18 L364.48,58.7 L364.59,57.26 L364.7,55.9 L364.81,54.62 L364.91,53.42 L365.02,52.33 L365.13,51.35 L365.23,50.49 L365.34,49.75 L365.45,49.15 L365.56,48.69 L365.66,48.37 L365.77,48.2 L365.88,48.17 L365.98,48.3 L366.09,48.57 L366.2,48.98 L366.31,49.54 L366.41,50.23 L366.52,51.05 L366.63,51.99 L366.74,53.05 L366.84,54.21 L366.95,55.46 L367.06,56.8 L367.16,58.21 L367.27,59.68 L367.38,61.19 L367.49,62.74 L367.59,64.31 L367.7,65.88 L367.81,67.44 L367.91,68.97 L368.02,70.47 L368.13,71.93 L368.24,73.31 L368.34,74.62 L368.45,75.85 L368.56,76.98 L368.66,78 L368.77,78.9 L368.88,79.68 L368.99,80.32 L369.09,80.83 L369.2,81.2 L369.31,81.42 L369.42,81.49 L369.52,81.42 L369.63,81.2 L369.74,80.83 L369.84,80.32 L369.95,79.68 L370.06,78.9 L370.17,78 L370.27,76.98 L370.38,75.85 L370.49,74.62 L370.59,73.31 L370.7,71.93 L370.81,70.47 L370.92,68.97 L371.02,67.44 L371.13,65.88 L371.24,64.31 L371.34,62.74 L371.45,61.19 L371.56,59.68 L371.67,58.21 L371.77,56.8 L371.88,55.46 L371.99,54.21 L372.1,53.05 L372.2,51.99 L372.31,51.05 L372.42,50.23 L372.52,49.54 L372.63,48.98 L372.74,48.57 L372.85,48.3 L372.95,48.17 L373.06,48.2 L373.17,48.37 L373.27,48.69 L373.38,49.15 L373.49,49.75 L373.6,50.49 L373.7,51.35 L373.81,52.33 L373.92,53.42 L374.02,54.62 L374.13,55.9 L374.24,57.26 L374.35,58.7 L374.45,60.18 L374.56,61.71 L374.67,63.26 L374.78,64.83 L374.88,66.4 L374.99,67.95 L375.1,69.48 L375.2,70.96 L375.31,72.4 L375.42,73.76 L375.53,75.04 L375.63,76.24 L375.74,77.33 L375.85,78.31 L375.95,79.17 L376.06,79.91 L376.17,80.51 L376.28,80.97 L376.38,81.29 L376.49,81.46 L376.6,81.49 L376.7,81.36 L376.81,81.09 L376.92,80.68 L377.03,80.12 L377.13,79.43 L377.24,78.61 L377.35,77.67 L377.46,76.61 L377.56,75.45 L377.67,74.2 L377.78,72.86 L377.88,71.45 L377.99,69.98 L378.1,68.46 L378.21,66.92 L378.31,65.35 L378.42,63.78 L378.53,62.22 L378.63,60.69 L378.74,59.18 L378.85,57.73 L378.96,56.35 L379.06,55.03 L379.17,53.81 L379.28,52.68 L379.38,51.66 L379.49,50.76 L379.6,49.98 L379.71,49.34 L379.81,48.83 L379.92,48.46 L380.03,48.24 L380.14,48.17 L380.24,48.24 L380.35,48.46 L380.46,48.83 L380.56,49.34 L380.67,49.98 L380.78,50.76 L380.89,51.66 L380.99,52.68 L381.1,53.81 L381.21,55.03 L381.31,56.35 L381.42,57.73 L381.53,59.18 L381.64,60.69 L381.74,62.22 L381.85,63.78 L381.96,65.35 L382.06,66.92 L382.17,68.46 L382.28,69.98 L382.39,71.45 L382.49,72.86 L382.6,74.2 L382.71,75.45 L382.82,76.61 L382.92,77.67 L383.03,78.61 L383.14,79.43 L383.24,80.12 L383.35,80.68 L383.46,81.09 L383.57,81.36 L383.67,81.49 L383.78,81.46 L383.89,81.29 L383.99,80.97 L384.1,80.51 L384.21,79.91 L384.32,79.17 L384.42,78.31 L384.53,77.33 L384.64,76.24 L384.74,75.04 L384.85,73.76 L384.96,72.4 L385.07,70.96 L385.17,69.48 L385.28,67.95 L385.39,66.4 L385.5,64.83 L385.6,63.26 L385.71,61.71 L385.82,60.18 L385.92,58.7 L386.03,57.26 L386.14,55.9 L386.25,54.62 L386.35,53.42 L386.46,52.33 L386.57,51.35 L386.67,50.49 L386.78,49.75 L386.89,49.15 L387,48.69 L387.1,48.37 L387.21,48.2 L387.32,48.17 L387.42,48.3 L387.53,48.57 L387.64,48.98 L387.75,49.54 L387.85,50.23 L387.96,51.05 L388.07,51.99 L388.18,53.05 L388.28,54.21 L388.39,55.46 L388.5,56.8 L388.6,58.21 L388.71,59.68 L388.82,61.19 L388.93,62.74 L389.03,64.31 L389.14,65.88 L389.25,67.44 L389.35,68.97 L389.46,70.47 L389.57,71.93 L389.68,73.31 L389.78,74.62 L389.89,75.85 L390,76.98 L390.1,78 L390.21,78.9 L390.32,79.68 L390.43,80.32 L390.53,80.83 L390.64,81.2 L390.75,81.42 L390.86,81.49 L390.96,81.42 L391.07,81.2 L391.18,80.83 L391.28,80.32 L391.39,79.68 L391.5,78.9 L391.61,78 L391.71,76.98 L391.82,75.85 L391.93,74.62 L392.03,73.31 L392.14,71.93 L392.25,70.47 L392.36,68.97 L392.46,67.44 L392.57,65.88 L392.68,64.31 L392.78,62.74 L392.89,61.19 L393,59.68 L393.11,58.21 L393.21,56.8 L393.32,55.46 L393.43,54.21 L393.54,53.05 L393.64,51.99 L393.75,51.05 L393.86,50.23 L393.96,49.54 L394.07,48.98 L394.18,48.57 L394.29,48.3 L394.39,48.17 L394.5,48.2 L394.61,48.37 L394.71,48.69 L394.82,49.15 L394.93,49.75 L395.04,50.49 L395.14,51.35 L395.25,52.33 L395.36,53.42 L395.46,54.62 L395.57,55.9 L395.68,57.26 L395.79,58.7 L395.89,60.18 L396,61.71 L396.11,63.26 L396.22,64.83 L396.32,66.4 L396.43,67.95 L396.54,69.48 L396.64,70.96 L396.75,72.4 L396.86,73.76 L396.97,75.04 L397.07,76.24 L397.18,77.33 L397.29,78.31 L397.39,79.17 L397.5,79.91 L397.61,80.51 L397.72,80.97 L397.82,81.29 L397.93,81.46 L398.04,81.49 L398.14,81.36 L398.25,81.09 L398.36,80.68 L398.47,80.12 L398.57,79.43 L398.68,78.61 L398.79,77.67 L398.9,76.61 L399,75.45 L399.11,74.2 L399.22,72.86 L399.32,71.45 L399.43,69.98 L399.54,68.46 L399.65,66.92 L399.75,65.35 L399.86,63.78 L399.97,62.22 L400.07,60.69 L400.18,59.18 L400.29,57.73 L400.4,56.35 L400.5,55.03 L400.61,53.81 L400.72,52.68 L400.82,51.66 L400.93,50.76 L401.04,49.98 L401.15,49.34 L401.25,48.83 L401.36,48.46 L401.47,48.24 L401.58,48.17 L401.68,48.24 L401.79,48.46 L401.9,48.83 L402,49.34 L402.11,49.98 L402.22,50.76 L402.33,51.66 L402.43,52.68 L402.54,53.81 L402.65,55.03 L402.75,56.35 L402.86,57.73 L402.97,59.18 L403.08,60.69 L403.18,62.22 L403.29,63.78 L403.4,65.35 L403.5,66.92 L403.61,68.46 L403.72,69.98 L403.83,71.45 L403.93,72.86 L404.04,74.2 L404.15,75.45 L404.26,76.61 L404.36,77.67 L404.47,78.61 L404.58,79.43 L404.68,80.12 L404.79,80.68 L404.9,81.09 L405.01,81.36 L405.11,81.49 L405.22,81.46 L405.33,81.29 L405.43,80.97 L405.54,80.51 L405.65,79.91 L405.76,79.17 L405.86,78.31 L405.97,77.33 L406.08,76.24 L406.18,75.04 L406.29,73.76 L406.4,72.4 L406.51,70.96 L406.61,69.48 L406.72,67.95 L406.83,66.4 L406.94,64.83 L407.04,63.26 L407.15,61.71 L407.26,60.18 L407.36,58.7 L407.47,57.26 L407.58,55.9 L407.69,54.62 L407.79,53.42 L407.9,52.33 L408.01,51.35 L408.11,50.49 L408.22,49.75 L408.33,49.15 L408.44,48.69 L408.54,48.37 L408.65,48.2 L408.76,48.17 L408.86,48.3 L408.97,48.57 L409.08,48.98 L409.19,49.54 L409.29,50.23 L409.4,51.05 L409.51,51.99 L409.62,53.05 L409.72,54.21 L409.83,55.46 L409.94,56.8 L410.04,58.21 L410.15,59.68 L410.26,61.19 L410.37,62.74 L410.47,64.31 L410.58,65.88 L410.69,67.44 L410.79,68.97 L410.9,70.47 L411.01,71.93 L411.12,73.31 L411.22,74.62 L411.33,75.85 L411.44,76.98 L411.54,78 L411.65,78.9 L411.76,79.68 L411.87,80.32 L411.97,80.83 L412.08,81.2 L412.19,81.42 L412.3,81.49 L412.4,81.42 L412.51,81.2 L412.62,80.83 L412.72,80.32 L412.83,79.68 L412.94,78.9 L413.05,78 L413.15,76.98 L413.26,75.85 L413.37,74.62 L413.47,73.31 L413.58,71.93 L413.69,70.47 L413.8,68.97 L413.9,67.44 L414.01,65.88 L414.12,64.31 L414.22,62.74 L414.33,61.19 L414.44,59.68 L414.55,58.21 L414.65,56.8 L414.76,55.46 L414.87,54.21 L414.98,53.05 L415.08,51.99 L415.19,51.05 L415.3,50.23 L415.4,49.54 L415.51,48.98 L415.62,48.57 L415.73,48.3 L415.83,48.17 L415.94,48.2 L416.05,48.37 L416.15,48.69 L416.26,49.15 L416.37,49.75 L416.48,50.49 L416.58,51.35 L416.69,52.33 L416.8,53.42 L416.9,54.62 L417.01,55.9 L417.12,57.26 L417.23,58.7 L417.33,60.18 L417.44,61.71 L417.55,63.26 L417.66,64.83 L417.76,66.4 L417.87,67.95 L417.98,69.48 L418.08,70.96 L418.19,72.4 L418.3,73.76 L418.41,75.04 L418.51,76.24 L418.62,77.33 L418.73,78.31 L418.83,79.17 L418.94,79.91 L419.05,80.51 L419.16,80.97 L419.26,81.29 L419.37,81.46 L419.48,81.49 L419.58,81.36 L419.69,81.09 L419.8,80.68 L419.91,80.12 L420.01,79.43 L420.12,78.61 L420.23,77.67 L420.34,76.61 L420.44,75.45 L420.55,74.2 L420.66,72.86 L420.76,71.45 L420.87,69.98 L420.98,68.46 L421.09,66.92 L421.19,65.35 L421.3,63.78 L421.41,62.22 L421.51,60.69 L421.62,59.18 L421.73,57.73 L421.84,56.35 L421.94,55.03 L422.05,53.81 L422.16,52.68 L422.26,51.66 L422.37,50.76 L422.48,49.98 L422.59,49.34 L422.69,48.83 L422.8,48.46 L422.91,48.24 L423.02,48.17 L423.12,48.24 L423.23,48.46 L423.34,48.83 L423.44,49.34 L423.55,49.98 L423.66,50.76 L423.77,51.66 L423.87,52.68 L423.98,53.81 L424.09,55.03 L424.19,56.35 L424.3,57.73 L424.41,59.18 L424.52,60.69 L424.62,62.22 L424.73,63.78 L424.84,65.35 L424.94,66.92 L425.05,68.46 L425.16,69.98 L425.27,71.45 L425.37,72.86 L425.48,74.2 L425.59,75.45 L425.7,76.61 L425.8,77.67 L425.91,78.61 L426.02,79.43 L426.12,80.12 L426.23,80.68 L426.34,81.09 L426.45,81.36 L426.55,81.49 L426.66,81.46 L426.77,81.29 L426.87,80.97 L426.98,80.51 L427.09,79.91 L427.2,79.17 L427.3,78.31 L427.41,77.33 L427.52,76.24 L427.62,75.04 L427.73,73.76 L427.84,72.4 L427.95,70.96 L428.05,69.48 L428.16,67.95 L428.27,66.4 L428.38,64.83 L428.48,63.26 L428.59,61.71 L428.7,60.18 L428.8,58.7 L428.91,57.26 L429.02,55.9 L429.13,54.62 L429.23,53.42 L429.34,52.33 L429.45,51.35 L429.55,50.49 L429.66,49.75 L429.77,49.15 L429.88,48.69 L429.98,48.37 L430.09,48.2 L430.2,48.17 L430.3,48.3 L430.41,48.57 L430.52,48.98 L430.63,49.54 L430.73,50.23 L430.84,51.05 L430.95,51.99 L431.06,53.05 L431.16,54.21 L431.27,55.46 L431.38,56.8 L431.48,58.21 L431.59,59.68 L431.7,61.19 L431.81,62.74 L431.91,64.31 L432.02,65.88 L432.13,67.44 L432.23,68.97 L432.34,70.47 L432.45,71.93 L432.56,73.31 L432.66,74.62 L432.77,75.85 L432.88,76.98 L432.98,78 L433.09,78.9 L433.2,79.68 L433.31,80.32 L433.41,80.83 L433.52,81.2 L433.63,81.42 L433.74,81.49 L433.84,81.42 L433.95,81.2 L434.06,80.83 L434.16,80.32 L434.27,79.68 L434.38,78.9 L434.49,78 L434.59,76.98 L434.7,75.85 L434.81,74.62 L434.91,73.31 L435.02,71.93 L435.13,70.47 L435.24,68.97 L435.34,67.44 L435.45,65.88 L435.56,64.31 L435.66,62.74 L435.77,61.19 L435.88,59.68 L435.99,58.21 L436.09,56.8 L436.2,55.46 L436.31,54.21 L436.42,53.05 L436.52,51.99 L436.63,51.05 L436.74,50.23 L436.84,49.54 L436.95,48.98 L437.06,48.57 L437.17,48.3 L437.27,48.17 L437.38,48.2 L437.49,48.37 L437.59,48.69 L437.7,49.15 L437.81,49.75 L437.92,50.49 L438.02,51.35 L438.13,52.33 L438.24,53.42 L438.34,54.62 L438.45,55.9 L438.56,57.26 L438.67,58.7 L438.77,60.18 L438.88,61.71 L438.99,63.26 L439.1,64.83 L439.2,66.4 L439.31,67.95 L439.42,69.48 L439.52,70.96 L439.63,72.4 L439.74,73.76 L439.85,75.04 L439.95,76.24 L440.06,77.33 L440.17,78.31 L440.27,79.17 L440.38,79.91 L440.49,80.51 L440.6,80.97 L440.7,81.29 L440.81,81.46 L440.92,81.49 L441.02,81.36 L441.13,81.09 L441.24,80.68 L441.35,80.12 L441.45,79.43 L441.56,78.61 L441.67,77.67 L441.78,76.61 L441.88,75.45 L441.99,74.2 L442.1,72.86 L442.2,71.45 L442.31,69.98 L442.42,68.46 L442.53,66.92 L442.63,65.35 L442.74,63.78 L442.85,62.22 L442.95,60.69 L443.06,59.18 L443.17,57.73 L443.28,56.35 L443.38,55.03 L443.49,53.81 L443.6,52.68 L443.7,51.66 L443.81,50.76 L443.92,49.98 L444.03,49.34 L444.13,48.83 L444.24,48.46 L444.35,48.24 L444.46,48.17 L444.56,48.24 L444.67,48.46 L444.78,48.83 L444.88,49.34 L444.99,49.98 L445.1,50.76 L445.21,51.66 L445.31,52.68 L445.42,53.81 L445.53,55.03 L445.63,56.35 L445.74,57.73 L445.85,59.18 L445.96,60.69 L446.06,62.22 L446.17,63.78 L446.28,65.35 L446.38,66.92 L446.49,68.46 L446.6,69.98 L446.71,71.45 L446.81,72.86 L446.92,74.2 L447.03,75.45 L447.14,76.61 L447.24,77.67 L447.35,78.61 L447.46,79.43 L447.56,80.12 L447.67,80.68 L447.78,81.09 L447.89,81.36 L447.99,81.49 L448.1,81.46 L448.21,81.29 L448.31,80.97 L448.42,80.51 L448.53,79.91 L448.64,79.17 L448.74,78.31 L448.85,77.33 L448.96,76.24 L449.06,75.04 L449.17,73.76 L449.28,72.4 L449.39,70.96 L449.49,69.48 L449.6,67.95 L449.71,66.4 L449.82,64.83 L449.92,63.26 L450.03,61.71 L450.14,60.18 L450.24,58.7 L450.35,57.26 L450.46,55.9 L450.57,54.62 L450.67,53.42 L450.78,52.33 L450.89,51.35 L450.99,50.49 L451.1,49.75 L451.21,49.15 L451.32,48.69 L451.42,48.37 L451.53,48.2 L451.64,48.17 L451.74,48.3 L451.85,48.57 L451.96,48.98 L452.07,49.54 L452.17,50.23 L452.28,51.05 L452.39,51.99 L452.5,53.05 L452.6,54.21 L452.71,55.46 L452.82,56.8 L452.92,58.21 L453.03,59.68 L453.14,61.19 L453.25,62.74 L453.35,64.31 L453.46,65.88 L453.57,67.44 L453.67,68.97 L453.78,70.47 L453.89,71.93 L454,73.31 L454.1,74.62 L454.21,75.85 L454.32,76.98 L454.42,78 L454.53,78.9 L454.64,79.68 L454.75,80.32 L454.85,80.83 L454.96,81.2 L455.07,81.42 L455.18,81.49 L455.28,81.42 L455.39,81.2 L455.5,80.83 L455.6,80.32 L455.71,79.68 L455.82,78.9 L455.93,78 L456.03,76.98 L456.14,75.85 L456.25,74.62 L456.35,73.31 L456.46,71.93 L456.57,70.47 L456.68,68.97 L456.78,67.44 L456.89,65.88 L457,64.31 L457.1,62.74 L457.21,61.19 L457.32,59.68 L457.43,58.21 L457.53,56.8 L457.64,55.46 L457.75,54.21 L457.86,53.05 L457.96,51.99 L458.07,51.05 L458.18,50.23 L458.28,49.54 L458.39,48.98 L458.5,48.57 L458.61,48.3 L458.71,48.17 L458.82,48.2 L458.93,48.37 L459.03,48.69 L459.14,49.15 L459.25,49.75 L459.36,50.49 L459.46,51.35 L459.57,52.33 L459.68,53.42 L459.78,54.62 L459.89,55.9 L460,57.26 L460.11,58.7 L460.21,60.18 L460.32,61.71 L460.43,63.26 L460.54,64.83 L460.64,66.4 L460.75,67.95 L460.86,69.48 L460.96,70.96 L461.07,72.4 L461.18,73.76 L461.29,75.04 L461.39,76.24 L461.5,77.33 L461.61,78.31 L461.71,79.17 L461.82,79.91 L461.93,80.51 L462.04,80.97 L462.14,81.29 L462.25,81.46 L462.36,81.49 L462.46,81.36 L462.57,81.09 L462.68,80.68 L462.79,80.12 L462.89,79.43 L463,78.61 L463.11,77.67 L463.22,76.61 L463.32,75.45 L463.43,74.2 L463.54,72.86 L463.64,71.45 L463.75,69.98 L463.86,68.46 L463.97,66.92 L464.07,65.35 L464.18,63.78 L464.29,62.22 L464.39,60.69 L464.5,59.18 L464.61,57.73 L464.72,56.35 L464.82,55.03 L464.93,53.81 L465.04,52.68 L465.14,51.66 L465.25,50.76 L465.36,49.98 L465.47,49.34 L465.57,48.83 L465.68,48.46 L465.79,48.24 L465.9,48.17 L466,48.24 L466.11,48.46 L466.22,48.83 L466.32,49.34 L466.43,49.98 L466.54,50.76 L466.65,51.66 L466.75,52.68 L466.86,53.81 L466.97,55.03 L467.07,56.35 L467.18,57.73 L467.29,59.18 L467.4,60.69 L467.5,62.22 L467.61,63.78 L467.72,65.35 L467.82,66.92 L467.93,68.46 L468.04,69.98 L468.15,71.45 L468.25,72.86 L468.36,74.2 L468.47,75.45 L468.58,76.61 L468.68,77.67 L468.79,78.61 L468.9,79.43 L469,80.12 L469.11,80.68 L469.22,81.09 L469.33,81.36 L469.43,81.49 L469.54,81.46 L469.65,81.29 L469.75,80.97 L469.86,80.51 L469.97,79.91 L470.08,79.17 L470.18,78.31 L470.29,77.33 L470.4,76.24 L470.5,75.04 L470.61,73.76 L470.72,72.4 L470.83,70.96 L470.93,69.48 L471.04,67.95 L471.15,66.4 L471.26,64.83 L471.36,63.26 L471.47,61.71 L471.58,60.18 L471.68,58.7 L471.79,57.26 L471.9,55.9 L472.01,54.62 L472.11,53.42 L472.22,52.33 L472.33,51.35 L472.43,50.49 L472.54,49.75 L472.65,49.15 L472.76,48.69 L472.86,48.37 L472.97,48.2 L473.08,48.17 L473.18,48.3 L473.29,48.57 L473.4,48.98 L473.51,49.54 L473.61,50.23 L473.72,51.05 L473.83,51.99 L473.94,53.05 L474.04,54.21 L474.15,55.46 L474.26,56.8 L474.36,58.21 L474.47,59.68 L474.58,61.19 L474.69,62.74 L474.79,64.31 L474.9,65.88 L475.01,67.44 L475.11,68.97 L475.22,70.47 L475.33,71.93 L475.44,73.31 L475.54,74.62 L475.65,75.85 L475.76,76.98 L475.86,78 L475.97,78.9 L476.08,79.68 L476.19,80.32 L476.29,80.83 L476.4,81.2 L476.51,81.42 L476.62,81.49 L476.72,81.42 L476.83,81.2 L476.94,80.83 L477.04,80.32 L477.15,79.68 L477.26,78.9 L477.37,78 L477.47,76.98 L477.58,75.85 L477.69,74.62 L477.79,73.31 L477.9,71.93 L478.01,70.47 L478.12,68.97 L478.22,67.44 L478.33,65.88 L478.44,64.31 L478.54,62.74 L478.65,61.19 L478.76,59.68 L478.87,58.21 L478.97,56.8 L479.08,55.46 L479.19,54.21 L479.3,53.05 L479.4,51.99 L479.51,51.05 L479.62,50.23 L479.72,49.54 L479.83,48.98 L479.94,48.57 L480.05,48.3 L480.15,48.17 L480.26,48.2 L480.37,48.37 L480.47,48.69 L480.58,49.15 L480.69,49.75 L480.8,50.49 L480.9,51.35 L481.01,52.33 L481.12,53.42 L481.22,54.62 L481.33,55.9 L481.44,57.26 L481.55,58.7 L481.65,60.18 L481.76,61.71 L481.87,63.26 L481.98,64.83 L482.08,66.4 L482.19,67.95 L482.3,69.48 L482.4,70.96 L482.51,72.4 L482.62,73.76 L482.73,75.04 L482.83,76.24 L482.94,77.33 L483.05,78.31 L483.15,79.17 L483.26,79.91 L483.37,80.51 L483.48,80.97 L483.58,81.29 L483.69,81.46 L483.8,81.49 L483.9,81.36 L484.01,81.09 L484.12,80.68 L484.23,80.12 L484.33,79.43 L484.44,78.61 L484.55,77.67 L484.66,76.61 L484.76,75.45 L484.87,74.2 L484.98,72.86 L485.08,71.45 L485.19,69.98 L485.3,68.46 L485.41,66.92 L485.51,65.35 L485.62,63.78 L485.73,62.22 L485.83,60.69 L485.94,59.18 L486.05,57.73 L486.16,56.35 L486.26,55.03 L486.37,53.81 L486.48,52.68 L486.58,51.66 L486.69,50.76 L486.8,49.98 L486.91,49.34 L487.01,48.83 L487.12,48.46 L487.23,48.24 L487.34,48.17 L487.44,48.24 L487.55,48.46 L487.66,48.83 L487.76,49.34 L487.87,49.98 L487.98,50.76 L488.09,51.66 L488.19,52.68 L488.3,53.81 L488.41,55.03 L488.51,56.35 L488.62,57.73 L488.73,59.18 L488.84,60.69 L488.94,62.22 L489.05,63.78 L489.16,65.35 L489.26,66.92 L489.37,68.46 L489.48,69.98 L489.59,71.45 L489.69,72.86 L489.8,74.2 L489.91,75.45 L490.02,76.61 L490.12,77.67 L490.23,78.61 L490.34,79.43 L490.44,80.12 L490.55,80.68 L490.66,81.09 L490.77,81.36 L490.87,81.49 L490.98,81.46 L491.09,81.29 L491.19,80.97 L491.3,80.51 L491.41,79.91 L491.52,79.17 L491.62,78.31 L491.73,77.33 L491.84,76.24 L491.94,75.04 L492.05,73.76 L492.16,72.4 L492.27,70.96 L492.37,69.48 L492.48,67.95 L492.59,66.4 L492.7,64.83 L492.8,63.26 L492.91,61.71 L493.02,60.18 L493.12,58.7 L493.23,57.26 L493.34,55.9 L493.45,54.62 L493.55,53.42 L493.66,52.33 L493.77,51.35 L493.87,50.49 L493.98,49.75 L494.09,49.15 L494.2,48.69 L494.3,48.37 L494.41,48.2 L494.52,48.17 L494.62,48.3 L494.73,48.57 L494.84,48.98 L494.95,49.54 L495.05,50.23 L495.16,51.05 L495.27,51.99 L495.38,53.05 L495.48,54.21 L495.59,55.46 L495.7,56.8 L495.8,58.21 L495.91,59.68 L496.02,61.19 L496.13,62.74 L496.23,64.31 L496.34,65.88 L496.45,67.44 L496.55,68.97 L496.66,70.47 L496.77,71.93 L496.88,73.31 L496.98,74.62 L497.09,75.85 L497.2,76.98 L497.3,78 L497.41,78.9 L497.52,79.68 L497.63,80.32 L497.73,80.83 L497.84,81.2 L497.95,81.42 L498.06,81.49 L498.16,81.42 L498.27,81.2 L498.38,80.83 L498.48,80.32 L498.59,79.68 L498.7,78.9 L498.81,78 L498.91,76.98 L499.02,75.85 L499.13,74.62 L499.23,73.31 L499.34,71.93 L499.45,70.47 L499.56,68.97 L499.66,67.44 L499.77,65.88 L499.88,64.31 L499.98,62.74 L500.09,61.19 L500.2,59.68 L500.31,58.21 L500.41,56.8 L500.52,55.46 L500.63,54.21 L500.74,53.05 L500.84,51.99 L500.95,51.05 L501.06,50.23 L501.16,49.54 L501.27,48.98 L501.38,48.57 L501.49,48.3 L501.59,48.17 L501.7,48.2 L501.81,48.37 L501.91,48.69 L502.02,49.15 L502.13,49.75 L502.24,50.49 L502.34,51.35 L502.45,52.33 L502.56,53.42 L502.66,54.62 L502.77,55.9 L502.88,57.26 L502.99,58.7 L503.09,60.18 L503.2,61.71 L503.31,63.26 L503.42,64.83 L503.52,66.4 L503.63,67.95 L503.74,69.48 L503.84,70.96 L503.95,72.4 L504.06,73.76 L504.17,75.04 L504.27,76.24 L504.38,77.33 L504.49,78.31 L504.59,79.17 L504.7,79.91 L504.81,80.51 L504.92,80.97 L505.02,81.29 L505.13,81.46 L505.24,81.49 L505.34,81.36 L505.45,81.09 L505.56,80.68 L505.67,80.12 L505.77,79.43 L505.88,78.61 L505.99,77.67 L506.1,76.61 L506.2,75.45 L506.31,74.2 L506.42,72.86 L506.52,71.45 L506.63,69.98 L506.74,68.46 L506.85,66.92 L506.95,65.35 L507.06,63.78 L507.17,62.22 L507.27,60.69 L507.38,59.18 L507.49,57.73 L507.6,56.35 L507.7,55.03 L507.81,53.81 L507.92,52.68 L508.02,51.66 L508.13,50.76 L508.24,49.98 L508.35,49.34 L508.45,48.83 L508.56,48.46 L508.67,48.24 L508.78,48.17 L508.88,48.24 L508.99,48.46 L509.1,48.83 L509.2,49.34 L509.31,49.98 L509.42,50.76 L509.53,51.66 L509.63,52.68 L509.74,53.81 L509.85,55.03 L509.95,56.35 L510.06,57.73 L510.17,59.18 L510.28,60.69 L510.38,62.22 L510.49,63.78 L510.6,65.35 L510.7,66.92 L510.81,68.46 L510.92,69.98 L511.03,71.45 L511.13,72.86 L511.24,74.2 L511.35,75.45 L511.46,76.61 L511.56,77.67 L511.67,78.61 L511.78,79.43 L511.88,80.12 L511.99,80.68 L512.1,81.09 L512.21,81.36 L512.31,81.49 L512.42,81.46 L512.53,81.29 L512.63,80.97 L512.74,80.51 L512.85,79.91 L512.96,79.17 L513.06,78.31 L513.17,77.33 L513.28,76.24 L513.38,75.04 L513.49,73.76 L513.6,72.4 L513.71,70.96 L513.81,69.48 L513.92,67.95 L514.03,66.4 L514.14,64.83 L514.24,63.26 L514.35,61.71 L514.46,60.18 L514.56,58.7 L514.67,57.26 L514.78,55.9 L514.89,54.62 L514.99,53.42 L515.1,52.33 L515.21,51.35 L515.31,50.49 L515.42,49.75 L515.53,49.15 L515.64,48.69 L515.74,48.37 L515.85,48.2 L515.96,48.17 L516.06,48.3 L516.17,48.57 L516.28,48.98 L516.39,49.54 L516.49,50.23 L516.6,51.05 L516.71,51.99 L516.82,53.05 L516.92,54.21 L517.03,55.46 L517.14,56.8 L517.24,58.21 L517.35,59.68 L517.46,61.19 L517.57,62.74 L517.67,64.31 L517.78,65.88 L517.89,67.44 L517.99,68.97 L518.1,70.47 L518.21,71.93 L518.32,73.31 L518.42,74.62 L518.53,75.85 L518.64,76.98 L518.74,78 L518.85,78.9 L518.96,79.68 L519.07,80.32 L519.17,80.83 L519.28,81.2 L519.39,81.42 L519.5,81.49 L519.6,81.42 L519.71,81.2 L519.82,80.83 L519.92,80.32 L520.03,79.68 L520.14,78.9 L520.25,78 L520.35,76.98 L520.46,75.85 L520.57,74.62 L520.67,73.31 L520.78,71.93 L520.89,70.47 L521,68.97 L521.1,67.44 L521.21,65.88 L521.32,64.31 L521.42,62.74 L521.53,61.19 L521.64,59.68 L521.75,58.21 L521.85,56.8 L521.96,55.46 L522.07,54.21 L522.18,53.05 L522.28,51.99 L522.39,51.05 L522.5,50.23 L522.6,49.54 L522.71,48.98 L522.82,48.57 L522.93,48.3 L523.03,48.17 L523.14,48.2 L523.25,48.37 L523.35,48.69 L523.46,49.15 L523.57,49.75 L523.68,50.49 L523.78,51.35 L523.89,52.33 L524,53.42 L524.1,54.62 L524.21,55.9 L524.32,57.26 L524.43,58.7 L524.53,60.18 L524.64,61.71 L524.75,63.26 L524.86,64.83 L524.96,66.4 L525.07,67.95 L525.18,69.48 L525.28,70.96 L525.39,72.4 L525.5,73.76 L525.61,75.04 L525.71,76.24 L525.82,77.33 L525.93,78.31 L526.03,79.17 L526.14,79.91 L526.25,80.51 L526.36,80.97 L526.46,81.29 L526.57,81.46 L526.68,81.49 L526.78,81.36 L526.89,81.09 L527,80.68 L527.11,80.12 L527.21,79.43 L527.32,78.61 L527.43,77.67 L527.54,76.61 L527.64,75.45 L527.75,74.2 L527.86,72.86 L527.96,71.45 L528.07,69.98 L528.18,68.46 L528.29,66.92 L528.39,65.35 L528.5,63.78 L528.61,62.22 L528.71,60.69 L528.82,59.18 L528.93,57.73 L529.04,56.35 L529.14,55.03 L529.25,53.81 L529.36,52.68 L529.46,51.66 L529.57,50.76 L529.68,49.98 L529.79,49.34 L529.89,48.83 L530,48.46 L530.11,48.24 L530.22,48.17 L530.32,48.24 L530.43,48.46 L530.54,48.83 L530.64,49.34 L530.75,49.98 L530.86,50.76 L530.97,51.66 L531.07,52.68 L531.18,53.81 L531.29,55.03 L531.39,56.35 L531.5,57.73 L531.61,59.18 L531.72,60.69 L531.82,62.22 L531.93,63.78 L532.04,65.35 L532.14,66.92 L532.25,68.46 L532.36,69.98 L532.47,71.45 L532.57,72.86 L532.68,74.2 L532.79,75.45 L532.9,76.61 L533,77.67 L533.11,78.61 L533.22,79.43 L533.32,80.12 L533.43,80.68 L533.54,81.09 L533.65,81.36 L533.75,81.49 L533.86,81.46 L533.97,81.29 L534.07,80.97 L534.18,80.51 L534.29,79.91 L534.4,79.17 L534.5,78.31 L534.61,77.33 L534.72,76.24 L534.82,75.04 L534.93,73.76 L535.04,72.4 L535.15,70.96 L535.25,69.48 L535.36,67.95 L535.47,66.4 L535.58,64.83 L535.68,63.26 L535.79,61.71 L535.9,60.18 L536,58.7 L536.11,57.26 L536.22,55.9 L536.33,54.62 L536.43,53.42 L536.54,52.33 L536.65,51.35 L536.75,50.49 L536.86,49.75 L536.97,49.15 L537.08,48.69 L537.18,48.37 L537.29,48.2 L537.4,48.17 L537.5,48.3 L537.61,48.57 L537.72,48.98 L537.83,49.54 L537.93,50.23 L538.04,51.05 L538.15,51.99 L538.26,53.05 L538.36,54.21 L538.47,55.46 L538.58,56.8 L538.68,58.21 L538.79,59.68 L538.9,61.19 L539.01,62.74 L539.11,64.31 L539.22,65.88 L539.33,67.44 L539.43,68.97 L539.54,70.47 L539.65,71.93 L539.76,73.31 L539.86,74.62 L539.97,75.85 L540.08,76.98 L540.18,78 L540.29,78.9 L540.4,79.68 L540.51,80.32 L540.61,80.83 L540.72,81.2 L540.83,81.42 L540.94,81.49 L541.04,81.42 L541.15,81.2 L541.26,80.83 L541.36,80.32 L541.47,79.68 L541.58,78.9 L541.69,78 L541.79,76.98 L541.9,75.85 L542.01,74.62 L542.11,73.31 L542.22,71.93 L542.33,70.47 L542.44,68.97 L542.54,67.44 L542.65,65.88 L542.76,64.31 L542.86,62.74 L542.97,61.19 L543.08,59.68 L543.19,58.21 L543.29,56.8 L543.4,55.46 L543.51,54.21 L543.62,53.05 L543.72,51.99 L543.83,51.05 L543.94,50.23 L544.04,49.54 L544.15,48.98 L544.26,48.57 L544.37,48.3 L544.47,48.17 L544.58,48.2 L544.69,48.37 L544.79,48.69 L544.9,49.15 L545.01,49.75 L545.12,50.49 L545.22,51.35 L545.33,52.33 L545.44,53.42 L545.54,54.62 L545.65,55.9 L545.76,57.26 L545.87,58.7 L545.97,60.18 L546.08,61.71 L546.19,63.26 L546.3,64.83 L546.4,66.4 L546.51,67.95 L546.62,69.48 L546.72,70.96 L546.83,72.4 L546.94,73.76 L547.05,75.04 L547.15,76.24 L547.26,77.33 L547.37,78.31 L547.47,79.17 L547.58,79.91 L547.69,80.51 L547.8,80.97 L547.9,81.29 L548.01,81.46 L548.12,81.49 L548.22,81.36 L548.33,81.09 L548.44,80.68 L548.55,80.12 L548.65,79.43 L548.76,78.61 L548.87,77.67 L548.98,76.61 L549.08,75.45 L549.19,74.2 L549.3,72.86 L549.4,71.45 L549.51,69.98 L549.62,68.46 L549.73,66.92 L549.83,65.35 L549.94,63.78 L550.05,62.22 L550.15,60.69 L550.26,59.18 L550.37,57.73 L550.48,56.35 L550.58,55.03 L550.69,53.81 L550.8,52.68 L550.9,51.66 L551.01,50.76 L551.12,49.98 L551.23,49.34 L551.33,48.83 L551.44,48.46 L551.55,48.24 L551.66,48.17 L551.76,48.24 L551.87,48.46 L551.98,48.83 L552.08,49.34 L552.19,49.98 L552.3,50.76 L552.41,51.66 L552.51,52.68 L552.62,53.81 L552.73,55.03 L552.83,56.35 L552.94,57.73 L553.05,59.18 L553.16,60.69 L553.26,62.22 L553.37,63.78 L553.48,65.35 L553.58,66.92 L553.69,68.46 L553.8,69.98 L553.91,71.45 L554.01,72.86 L554.12,74.2 L554.23,75.45 L554.34,76.61 L554.44,77.67 L554.55,78.61 L554.66,79.43 L554.76,80.12 L554.87,80.68 L554.98,81.09 L555.09,81.36 L555.19,81.49 L555.3,81.46 L555.41,81.29 L555.51,80.97 L555.62,80.51 L555.73,79.91 L555.84,79.17 L555.94,78.31 L556.05,77.33 L556.16,76.24 L556.26,75.04 L556.37,73.76 L556.48,72.4 L556.59,70.96 L556.69,69.48 L556.8,67.95 L556.91,66.4 L557.02,64.83 L557.12,63.26 L557.23,61.71 L557.34,60.18 L557.44,58.7 L557.55,57.26 L557.66,55.9 L557.77,54.62 L557.87,53.42 L557.98,52.33 L558.09,51.35 L558.19,50.49 L558.3,49.75 L558.41,49.15 L558.52,48.69 L558.62,48.37 L558.73,48.2 L558.84,48.17 L558.94,48.3 L559.05,48.57 L559.16,48.98 L559.27,49.54 L559.37,50.23 L559.48,51.05 L559.59,51.99 L559.7,53.05 L559.8,54.21 L559.91,55.46 L560.02,56.8 L560.12,58.21 L560.23,59.68 L560.34,61.19 L560.45,62.74 L560.55,64.31 L560.66,65.88 L560.77,67.44 L560.87,68.97 L560.98,70.47 L561.09,71.93 L561.2,73.31 L561.3,74.62 L561.41,75.85 L561.52,76.98 L561.62,78 L561.73,78.9 L561.84,79.68 L561.95,80.32 L562.05,80.83 L562.16,81.2 L562.27,81.42 L562.38,81.49 L562.48,81.42 L562.59,81.2 L562.7,80.83 L562.8,80.32 L562.91,79.68 L563.02,78.9 L563.13,78 L563.23,76.98 L563.34,75.85 L563.45,74.62 L563.55,73.31 L563.66,71.93 L563.77,70.47 L563.88,68.97 L563.98,67.44 L564.09,65.88 L564.2,64.31 L564.3,62.74 L564.41,61.19 L564.52,59.68 L564.63,58.21 L564.73,56.8 L564.84,55.46 L564.95,54.21 L565.06,53.05 L565.16,51.99 L565.27,51.05 L565.38,50.23 L565.48,49.54 L565.59,48.98 L565.7,48.57 L565.81,48.3 L565.91,48.17 L566.02,48.2 L566.13,48.37 L566.23,48.69 L566.34,49.15 L566.45,49.75 L566.56,50.49 L566.66,51.35 L566.77,52.33 L566.88,53.42 L566.98,54.62 L567.09,55.9 L567.2,57.26 L567.31,58.7 L567.41,60.18 L567.52,61.71 L567.63,63.26 L567.74,64.83 L567.84,66.4 L567.95,67.95 L568.06,69.48 L568.16,70.96 L568.27,72.4 L568.38,73.76 L568.49,75.04 L568.59,76.24 L568.7,77.33" fill="none" stroke="#bf00bf" stroke-width="1.2"/>
<path d="M354.3,75.17 L352.32,78.95 L356.28,78.95 Z" fill="#fff" stroke="#bf00bf" stroke-width="0.8"/>
<path d="M362.88,77.01 L360.9,80.79 L364.86,80.79 Z" fill="#fff" stroke="#bf00bf" stroke-width="0.8"/>
<path d="M371.45,59.03 L369.47,62.81 L373.43,62.81 Z" fill="#fff" stroke="#bf00bf" stroke-width="0.8"/>
<path d="M380.03,46.08 L378.05,49.86 L382.01,49.86 Z" fill="#fff" stroke="#bf00bf" stroke-width="0.8"/>
<path d="M388.6,56.05 L386.62,59.83 L390.58,59.83 Z" fill="#fff" stroke="#bf00bf" stroke-width="0.8"/>
<path d="M397.18,75.17 L395.2,78.95 L399.16,78.95 Z" fill="#fff" stroke="#bf00bf" stroke-width="0.8"/>
<path d="M405.76,77.01 L403.78,80.79 L407.74,80.79 Z" fill="#fff" stroke="#bf00bf" stroke-width="0.8"/>
<path d="M414.33,59.03 L412.35,62.81 L416.31,62.81 Z" fill="#fff" stroke="#bf00bf" stroke-width="0.8"/>
<path d="M422.91,46.08 L420.93,49.86 L424.89,49.86 Z" fill="#fff" stroke="#bf00bf" stroke-width="0.8"/>
<path d="M431.48,56.05 L429.5,59.83 L433.46,59.83 Z" fill="#fff" stroke="#bf00bf" stroke-width="0.8"/>
<path d="M440.06,75.17 L438.08,78.95 L442.04,78.95 Z" fill="#fff" stroke="#bf00bf" stroke-width="0.8"/>
<path d="M448.64,77.01 L446.66,80.79 L450.62,80.79 Z" fill="#fff" stroke="#bf00bf" stroke-width="0.8"/>
<path d="M457.21,59.03 L455.23,62.81 L459.19,62.81 Z" fill="#fff" stroke="#bf00bf" stroke-width="0.8"/>
<path d="M465.79,46.08 L463.81,49.86 L467.77,49.86 Z" fill="#fff" stroke="#bf00bf" stroke-width="0.8"/>
<path d="M474.36,56.05 L472.38,59.83 L476.34,59.83 Z" fill="#fff" stroke="#bf00bf" stroke-width="0.8"/>
<path d="M482.94,75.17 L480.96,78.95 L484.92,78.95 Z" fill="#fff" stroke="#bf00bf" stroke-width="0.8"/>
<path d="M491.52,77.01 L489.54,80.79 L493.5,80.79 Z" fill="#fff" stroke="#bf00bf" stroke-width="0.8"/>
<path d="M500.09,59.03 L498.11,62.81 L502.07,62.81 Z" fill="#fff" stroke="#bf00bf" stroke-width="0.8"/>
<path d="M508.67,46.08 L506.69,49.86 L510.65,49.86 Z" fill="#fff" stroke="#bf00bf" stroke-width="0.8"/>
<path d="M517.24,56.05 L515.26,59.83 L519.22,59.83 Z" fill="#fff" stroke="#bf00bf" stroke-width="0.8"/>
<path d="M525.82,75.17 L523.84,78.95 L527.8,78.95 Z" fill="#fff" stroke="#bf00bf" stroke-width="0.8"/>
<path d="M534.4,77.01 L532.42,80.79 L536.38,80.79 Z" fill="#fff" stroke="#bf00bf" stroke-width="0.8"/>
<path d="M542.97,59.03 L540.99,62.81 L544.95,62.81 Z" fill="#fff" stroke="#bf00bf" stroke-width="0.8"/>
<path d="M551.55,46.08 L549.57,49.86 L553.53,49.86 Z" fill="#fff" stroke="#bf00bf" stroke-width="0.8"/>
<path d="M560.12,56.05 L558.14,59.83 L562.1,59.83 Z" fill="#fff" stroke="#bf00bf" stroke-width="0.8"/>
<line x1="353.6" y1="66.6" x2="573.8" y2="66.6" stroke="#168016" stroke-width="1.4"/>
<line x1="353.6" y1="117.3" x2="573.8" y2="117.3" stroke="#168016" stroke-width="1.4"/>
<line x1="354" y1="91.6" x2="573.8" y2="91.6" stroke="#c8503c" stroke-width="1.2" stroke-dasharray="3.9 2.9"/>
</g>
<text x="576.3" y="64.02" font-size="8.4" text-anchor="start" font-family="Liberation Sans, sans-serif" fill="#111"  stroke="#111" stroke-width="0.18">Stable</text>
<text x="577.4" y="73.12" font-size="8.4" text-anchor="start" font-family="Liberation Sans, sans-serif" fill="#111"  stroke="#111" stroke-width="0.18">point</text>
<text x="576.3" y="88.12" font-size="8.4" text-anchor="start" font-family="Liberation Sans, sans-serif" fill="#111"  stroke="#111" stroke-width="0.18">Unstable</text>
<text x="577.4" y="97.72" font-size="8.4" text-anchor="start" font-family="Liberation Sans, sans-serif" fill="#111"  stroke="#111" stroke-width="0.18">point</text>
<text x="576.3" y="114.62" font-size="8.4" text-anchor="start" font-family="Liberation Sans, sans-serif" fill="#111"  stroke="#111" stroke-width="0.18">Stable</text>
<text x="577.4" y="124.32" font-size="8.4" text-anchor="start" font-family="Liberation Sans, sans-serif" fill="#111"  stroke="#111" stroke-width="0.18">point</text>
<rect x="508.3" y="3.8" width="98.7" height="45.4" rx="1.5" fill="#fff" fill-opacity="0.82" stroke="#d0d0d0" stroke-width="0.8"/>
<line x1="510.9" y1="10.2" x2="523.6" y2="10.2" stroke="#0000ff" stroke-width="1.3"/>
<circle cx="517.25" cy="10.2" r="1.9" fill="#fff" stroke="#0000ff" stroke-width="0.8"/>
<text x="528.2" y="12.21" font-size="7.25" text-anchor="start" font-family="Liberation Sans, sans-serif" fill="#111"  stroke="#111" stroke-width="0.16">A=30 mm, <tspan font-style="italic">θ</tspan><tspan font-size="72%" dy="1.3">0</tspan><tspan dy="-1.3">= 0.40 rad</tspan></text>
<line x1="510.9" y1="20.9" x2="523.6" y2="20.9" stroke="#33cc33" stroke-width="1.3"/>
<circle cx="517.25" cy="20.9" r="1.1" fill="#33cc33"/>
<text x="528.2" y="22.91" font-size="7.25" text-anchor="start" font-family="Liberation Sans, sans-serif" fill="#111"  stroke="#111" stroke-width="0.16">A=30 mm, <tspan font-style="italic">θ</tspan><tspan font-size="72%" dy="1.3">0</tspan><tspan dy="-1.3">= 0</tspan></text>
<line x1="510.9" y1="31.8" x2="523.6" y2="31.8" stroke="#ff0000" stroke-width="1.3"/>
<rect x="515.55" y="30.1" width="3.4" height="3.4" fill="#fff" stroke="#ff0000" stroke-width="0.8"/>
<text x="528.2" y="33.81" font-size="7.25" text-anchor="start" font-family="Liberation Sans, sans-serif" fill="#111"  stroke="#111" stroke-width="0.16">A=5 mm, <tspan font-style="italic">θ</tspan><tspan font-size="72%" dy="1.3">0</tspan><tspan dy="-1.3">=-0.40 rad</tspan></text>
<line x1="510.9" y1="42.5" x2="523.6" y2="42.5" stroke="#bf00bf" stroke-width="1.3"/>
<path d="M517.25,40.54 L515.27,44.32 L519.23,44.32 Z" fill="#fff" stroke="#bf00bf" stroke-width="0.8"/>
<text x="528.2" y="44.51" font-size="7.25" text-anchor="start" font-family="Liberation Sans, sans-serif" fill="#111"  stroke="#111" stroke-width="0.16">A=5 mm, <tspan font-style="italic">θ</tspan><tspan font-size="72%" dy="1.3">0</tspan><tspan dy="-1.3">= 0.40 rad</tspan></text>
<defs><clipPath id="cc"><rect x="31.4" y="208.2" width="272.4" height="167"/></clipPath></defs>
<g clip-path="url(#cc)">
<line x1="85.3" y1="208.2" x2="85.3" y2="375.2" stroke="#5a5a5a" stroke-width="0.8" stroke-dasharray="3 1.6"/>
<line x1="166.6" y1="208.2" x2="166.6" y2="375.2" stroke="#5a5a5a" stroke-width="0.8" stroke-dasharray="3 1.6"/>
<line x1="248" y1="208.2" x2="248" y2="375.2" stroke="#5a5a5a" stroke-width="0.8" stroke-dasharray="3 1.6"/>
<path d="M53.6,297 C53.67,299.33 53.77,307.17 54,311 C54.23,314.83 54.58,317.87 55,320 C55.42,322.13 55.87,323.97 56.5,323.8 C57.13,323.63 58.12,322.8 58.8,319 C59.48,315.2 60.37,306.33 60.6,301 C60.83,295.67 60.55,291.08 60.2,287 C59.85,282.92 59.47,279.45 58.5,276.5 C57.53,273.55 55.57,269.88 54.4,269.3 C53.23,268.72 52.18,270.88 51.5,273 C50.82,275.12 50.47,277.5 50.3,282 C50.13,286.5 50.4,294.5 50.5,300 C50.6,305.5 51.07,309.5 50.9,315 C50.73,320.5 50.12,329.13 49.5,333 C48.88,336.87 47.85,338.7 47.2,338.2 C46.55,337.7 45.95,336.2 45.6,330 C45.25,323.8 45.15,309 45.1,301 C45.05,293 45.12,288.5 45.3,282 C45.48,275.5 45.67,267.33 46.2,262 C46.73,256.67 47.62,252.92 48.5,250 C49.38,247.08 50.47,245.7 51.5,244.5 C52.53,243.3 53.62,242.88 54.7,242.8 C55.78,242.72 56.95,243.05 58,244 C59.05,244.95 59.98,246.75 61,248.5 C62.02,250.25 62.9,253.15 64.1,254.5 C65.3,255.85 66.65,256.43 68.2,256.6 C69.75,256.77 72.03,255.17 73.4,255.5 C74.77,255.83 75.38,256.2 76.4,258.6 C77.42,261 78.82,263.57 79.5,269.9 C80.18,276.23 80.25,289.92 80.5,296.6 C80.75,303.28 80.82,311.7 81,310 C81.18,308.3 81.27,292.9 81.6,286.4 C81.93,279.9 82.38,274.08 83,271 C83.62,267.92 84.58,267.57 85.3,267.9 C86.02,268.23 86.78,269.92 87.3,273 C87.82,276.08 88.15,279.9 88.4,286.4 C88.65,292.9 88.57,312 88.8,312 C89.03,312 89.47,293.4 89.8,286.4 C90.13,279.4 90.22,273.43 90.8,270 C91.38,266.57 92.43,266.15 93.3,265.8 C94.17,265.45 95.05,266.18 96,267.9 C96.95,269.62 97.98,273.53 99,276.1 C100.02,278.67 101.23,282.27 102.1,283.3 C102.97,284.33 103.33,282.98 104.2,282.3 C105.07,281.62 106.28,279.38 107.3,279.2 C108.32,279.02 109.28,282.4 110.3,281.2 C111.32,280 112.37,275.58 113.4,272 C114.43,268.42 115.47,263.3 116.5,259.7 C117.53,256.1 118.82,252.13 119.6,250.4 C120.38,248.67 120.63,248.87 121.2,249.3 C121.77,249.73 122.47,250.88 123,253 C123.53,255.12 123.85,258.77 124.4,262 C124.95,265.23 125.93,267.73 126.3,272.4 C126.67,277.07 126.5,284.07 126.6,290 C126.7,295.93 126.68,301.67 126.9,308 C127.12,314.33 127.48,322.75 127.9,328 C128.32,333.25 128.85,339 129.4,339.5 C129.95,340 130.67,334.92 131.2,331 C131.73,327.08 132.17,321.17 132.6,316 C133.03,310.83 133.47,305.17 133.8,300 C134.13,294.83 134.27,289.08 134.6,285 C134.93,280.92 135.3,277.6 135.8,275.5 C136.3,273.4 136.85,272.48 137.6,272.4 C138.35,272.32 139.4,272.9 140.3,275 C141.2,277.1 142.23,280.95 143,285 C143.77,289.05 144.78,294.47 144.9,299.3 C145.02,304.13 144.4,309.97 143.7,314 C143,318.03 141.72,321.48 140.7,323.5 C139.68,325.52 138.48,326.6 137.6,326.1 C136.72,325.6 135.93,322.92 135.4,320.5 C134.87,318.08 134.7,315.35 134.4,311.6 C134.1,307.85 133.92,302.1 133.6,298 C133.28,293.9 133,290.5 132.5,287 C132,283.5 131.2,280.17 130.6,277 C130,273.83 129.12,271 128.9,268 C128.68,265 128.88,262.03 129.3,259 C129.72,255.97 130.45,252.7 131.4,249.8 C132.35,246.9 133.6,242.7 135,241.6 C136.4,240.5 138.18,241.88 139.8,243.2 C141.42,244.52 143.08,247.73 144.7,249.5 C146.32,251.27 147.88,253.57 149.5,253.8 C151.12,254.03 152.93,251.45 154.4,250.9 C155.87,250.35 157.02,249.75 158.3,250.5 C159.58,251.25 160.97,252.48 162.1,255.4 C163.23,258.32 164.38,263.32 165.1,268 C165.82,272.68 166.08,277.2 166.4,283.5 C166.72,289.8 166.73,306.45 167,305.8 C167.27,305.15 167.52,286.23 168,279.6 C168.48,272.97 168.93,269.3 169.9,266 C170.87,262.7 172.5,260.12 173.8,259.8 C175.1,259.48 176.25,260.8 177.7,264.1 C179.15,267.4 180.88,277.4 182.5,279.6 C184.12,281.8 185.78,276.98 187.4,277.3 C189.02,277.62 190.6,283.38 192.2,281.5 C193.8,279.62 195.38,271.17 197,266 C198.62,260.83 200.85,253.35 201.9,250.5 C202.95,247.65 202.75,248.32 203.3,248.9 C203.85,249.48 204.68,252.1 205.2,254 C205.72,255.9 205.9,257.98 206.4,260.3 C206.9,262.62 207.83,263.78 208.2,267.9 C208.57,272.02 208.47,279.07 208.6,285 C208.73,290.93 208.8,296.83 209,303.5 C209.2,310.17 209.52,319.72 209.8,325 C210.08,330.28 210.23,335.2 210.7,335.2 C211.17,335.2 212.1,329.2 212.6,325 C213.1,320.8 213.43,315.67 213.7,310 C213.97,304.33 213.9,295.83 214.2,291 C214.5,286.17 214.95,283.25 215.5,281 C216.05,278.75 216.78,278.22 217.5,277.5 C218.22,276.78 218.97,276.12 219.8,276.7 C220.63,277.28 221.7,278.45 222.5,281 C223.3,283.55 224.18,288.68 224.6,292 C225.02,295.32 225.13,296.9 225,300.9 C224.87,304.9 224.38,311.98 223.8,316 C223.22,320.02 222.28,323.07 221.5,325 C220.72,326.93 219.93,328.1 219.1,327.6 C218.27,327.1 217.22,325.6 216.5,322 C215.78,318.4 215.23,311 214.8,306 C214.37,301 214.23,297.17 213.9,292 C213.57,286.83 213.18,279.33 212.8,275 C212.42,270.67 211.77,268.87 211.6,266 C211.43,263.13 211.6,260.8 211.8,257.8 C212,254.8 212.28,250.67 212.8,248 C213.32,245.33 213.9,243.07 214.9,241.8 C215.9,240.53 217.35,240.08 218.8,240.4 C220.25,240.72 222.15,242.33 223.6,243.7 C225.05,245.07 226.2,247.4 227.5,248.6 C228.8,249.8 229.95,250.9 231.4,250.9 C232.85,250.9 234.58,249.47 236.2,248.6 C237.82,247.73 239.63,245.87 241.1,245.7 C242.57,245.53 243.87,245.83 245,247.6 C246.13,249.37 247.1,252.58 247.9,256.3 C248.7,260.02 249.15,265.05 249.8,269.9 C250.45,274.75 251.32,280.72 251.8,285.4 C252.28,290.08 252.22,298.97 252.7,298 C253.18,297.03 254.05,284.93 254.7,279.6 C255.35,274.27 255.8,269.4 256.6,266 C257.4,262.6 258.37,260.65 259.5,259.2 C260.63,257.75 261.95,257.3 263.4,257.3 C264.85,257.3 266.58,259.68 268.2,259.2 C269.82,258.72 271.48,255.85 273.1,254.4 C274.72,252.95 276.55,250.98 277.9,250.5 C279.25,250.02 280.28,250.58 281.2,251.5 C282.12,252.42 282.77,253.23 283.4,256 C284.03,258.77 284.57,262.23 285,268.1 C285.43,273.97 285.92,283.88 286,291.2 C286.08,298.52 285.78,306.03 285.5,312 C285.22,317.97 284.78,323.35 284.3,327 C283.82,330.65 283.2,333.9 282.6,333.9 C282,333.9 281.25,330.98 280.7,327 C280.15,323.02 279.57,315.33 279.3,310 C279.03,304.67 279.13,299.28 279.1,295 C279.07,290.72 279,286.88 279.1,284.3 C279.2,281.72 279.45,279.55 279.7,279.5 C279.95,279.45 280.33,280.58 280.6,284 C280.87,287.42 281.2,295.17 281.3,300 C281.4,304.83 281.37,309.92 281.2,313 C281.03,316.08 280.6,318.67 280.3,318.5 C280,318.33 279.6,315.08 279.4,312 C279.2,308.92 279,304.17 279.1,300 C279.2,295.83 279.6,291.17 280,287 C280.4,282.83 281.25,277 281.5,275" fill="none" stroke="#0000ff" stroke-width="1.3" stroke-linejoin="round"/>
<circle cx="38.6" cy="301.3" r="1.95" fill="#e80000" stroke="#600000" stroke-width="0.45"/>
<circle cx="49.5" cy="301.3" r="1.95" fill="#e80000" stroke="#600000" stroke-width="0.45"/>
<circle cx="44.05" cy="301.3" r="1.3" fill="#4a0a0a"/>
<circle cx="120.18" cy="301.3" r="1.95" fill="#e80000" stroke="#600000" stroke-width="0.45"/>
<circle cx="131.09" cy="301.3" r="1.95" fill="#e80000" stroke="#600000" stroke-width="0.45"/>
<circle cx="125.64" cy="301.3" r="1.3" fill="#4a0a0a"/>
<circle cx="201.77" cy="301.3" r="1.95" fill="#e80000" stroke="#600000" stroke-width="0.45"/>
<circle cx="212.67" cy="301.3" r="1.95" fill="#e80000" stroke="#600000" stroke-width="0.45"/>
<circle cx="207.22" cy="301.3" r="1.3" fill="#4a0a0a"/>
<circle cx="283.36" cy="301.3" r="1.95" fill="#e80000" stroke="#600000" stroke-width="0.45"/>
<circle cx="294.27" cy="301.3" r="1.95" fill="#e80000" stroke="#600000" stroke-width="0.45"/>
<circle cx="288.82" cy="301.3" r="1.3" fill="#4a0a0a"/>
</g>
<rect x="195.2" y="211.7" width="106.3" height="31.6" rx="1.5" fill="#fff" fill-opacity="0.82" stroke="#d0d0d0" stroke-width="0.8"/>
<line x1="197.9" y1="217.6" x2="211.6" y2="217.6" stroke="#0000ff" stroke-width="1.3"/>
<text x="215.8" y="219.76" font-size="7.4" text-anchor="start" font-family="Liberation Sans, sans-serif" fill="#111"  stroke="#111" stroke-width="0.16">A= 30.0 mm, <tspan font-style="italic">θ</tspan><tspan font-size="72%" dy="1.3">0</tspan><tspan dy="-1.3">=0.40 rad</tspan></text>
<circle cx="204.7" cy="227.5" r="2.2" fill="#e00000" stroke="#7a0000" stroke-width="0.5"/>
<text x="215.8" y="229.56" font-size="7.1" text-anchor="start" font-family="Liberation Sans, sans-serif" fill="#111" >Stable point</text>
<circle cx="204.7" cy="237.2" r="1.4" fill="#4a0a0a"/>
<text x="215.8" y="239.26" font-size="7.1" text-anchor="start" font-family="Liberation Sans, sans-serif" fill="#111" >Unstable point</text>
<defs><clipPath id="cd"><rect x="338.5" y="207.5" width="275.3" height="167.7"/></clipPath></defs>
<g clip-path="url(#cd)">
<line x1="338.5" y1="368.29" x2="613.8" y2="368.29" stroke="#3a3a3a" stroke-width="0.9" stroke-dasharray="3.3 0.8 0.5 0.9"/>
<line x1="338.5" y1="324.31" x2="613.8" y2="324.31" stroke="#3a3a3a" stroke-width="0.9" stroke-dasharray="3.3 0.8 0.5 0.9"/>
<line x1="338.5" y1="280.33" x2="613.8" y2="280.33" stroke="#3a3a3a" stroke-width="0.9" stroke-dasharray="3.3 0.8 0.5 0.9"/>
<line x1="338.5" y1="236.34" x2="613.8" y2="236.34" stroke="#3a3a3a" stroke-width="0.9" stroke-dasharray="3.3 0.8 0.5 0.9"/>
<path d="M353.6,343.2 C354.1,343.03 355.62,342.82 356.6,342.2 C357.58,341.58 358.53,340.37 359.5,339.5 C360.47,338.63 360.82,337.52 362.4,337 C363.98,336.48 367.18,336.4 369,336.4 C370.82,336.4 371.73,336.35 373.3,337 C374.87,337.65 376.82,339.67 378.4,340.3 C379.98,340.93 381.22,340 382.8,340.8 C384.38,341.6 386.2,345.78 387.9,345.1 C389.6,344.42 390.93,340 393,336.7 C395.07,333.4 398.23,327.05 400.3,325.3 C402.37,323.55 403.57,326.93 405.4,326.2 C407.23,325.47 409.47,321.63 411.3,320.9 C413.13,320.17 414.7,322.53 416.4,321.8 C418.1,321.07 418.95,318.68 421.5,316.5 C424.05,314.32 429.27,311.05 431.7,308.7 C434.13,306.35 434.8,304.12 436.1,302.4 C437.4,300.68 438.33,299.3 439.5,298.4 C440.67,297.5 441.52,298.08 443.1,297 C444.68,295.92 447.3,292.88 449,291.9 C450.7,290.92 451.6,290.98 453.3,291.1 C455,291.22 457.25,291.73 459.2,292.6 C461.15,293.47 463.3,295.65 465,296.3 C466.7,296.95 467.82,295.65 469.4,296.5 C470.98,297.35 472.8,302.42 474.5,301.4 C476.2,300.38 477.65,293.93 479.6,290.4 C481.55,286.87 484.75,282.02 486.2,280.2 C487.65,278.38 487.33,279.62 488.3,279.5 C489.27,279.38 490.52,280.77 492,279.5 C493.48,278.23 494.62,274.53 497.2,271.9 C499.78,269.27 504.58,266.78 507.5,263.7 C510.42,260.62 512.98,255.3 514.7,253.4 C516.42,251.5 516.08,253.17 517.8,252.3 C519.52,251.43 522.43,248.82 525,248.2 C527.57,247.58 530.63,247.73 533.2,248.6 C535.77,249.47 538.52,252.6 540.4,253.4 C542.28,254.2 542.95,252.82 544.5,253.4 C546.05,253.98 547.8,258.1 549.7,256.9 C551.6,255.7 553.85,249.88 555.9,246.2 C557.95,242.52 560.12,237.2 562,234.8 C563.88,232.4 565.48,233.33 567.2,231.8 C568.92,230.27 570.35,228.42 572.3,225.6 C574.25,222.78 576.83,216 578.9,214.9 C580.97,213.8 582.88,218.58 584.7,219 C586.52,219.42 588.25,217.33 589.8,217.4 C591.35,217.47 592.72,219.33 594,219.4 C595.28,219.47 596.92,218.07 597.5,217.8" fill="none" stroke="#0000ff" stroke-width="1.4" stroke-linejoin="round"/>
<line x1="597.6" y1="284" x2="597.6" y2="320" stroke="#000" stroke-width="0.95"/>
<path d="M597.6,279.9 L593.4,285.2 L601.8,285.2 Z" fill="#000"/>
<path d="M597.6,324.4 L593.4,319.1 L601.8,319.1 Z" fill="#000"/>
</g>
<text x="550.2" y="305.26" font-size="8.5" text-anchor="middle" font-family="Liberation Sans, sans-serif" fill="#111"  stroke="#111" stroke-width="0.19">Potential energy cycle</text>
<rect x="341.5" y="210.7" width="106" height="12.5" rx="1.5" fill="#fff" fill-opacity="0.82" stroke="#d0d0d0" stroke-width="0.8"/>
<line x1="343.6" y1="216.5" x2="357.5" y2="216.5" stroke="#0000ff" stroke-width="1.3"/>
<text x="361.7" y="218.66" font-size="7.4" text-anchor="start" font-family="Liberation Sans, sans-serif" fill="#111"  stroke="#111" stroke-width="0.16">A= 30.0 mm, <tspan font-style="italic">θ</tspan><tspan font-size="72%" dy="1.3">0</tspan><tspan dy="-1.3">=0.40 rad</tspan></text>
</svg></body></html>
